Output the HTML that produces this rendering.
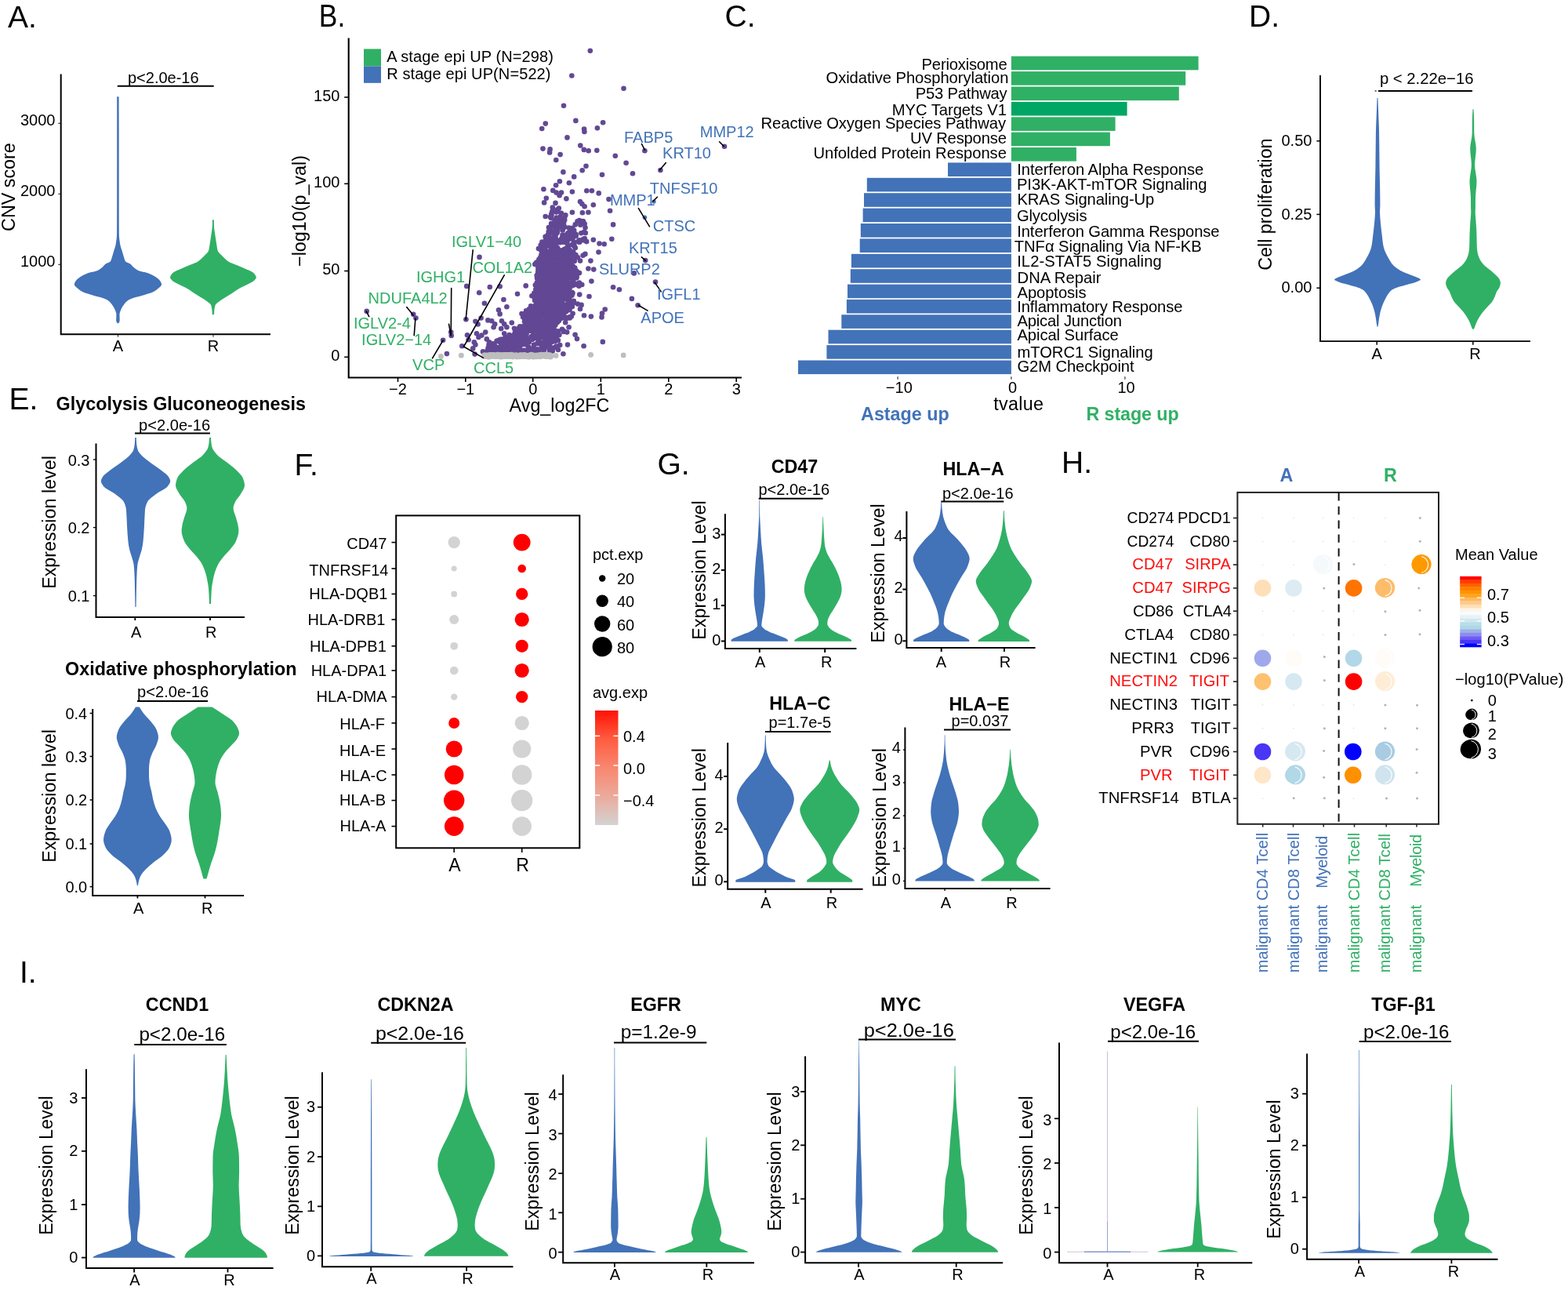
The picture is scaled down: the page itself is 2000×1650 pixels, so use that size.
<!DOCTYPE html>
<html lang="en"><head><meta charset="utf-8"><title>Figure</title>
<style>html,body{margin:0;padding:0;background:#fff}body{width:2000px;height:1650px}svg{display:block}text{font-family:'Liberation Sans', sans-serif}</style></head>
<body>
<svg width="2000" height="1650" viewBox="0 0 2000 1650">
<rect width="2000" height="1650" fill="#fff"/>
<text x="10" y="35" font-size="39">A.</text>
<line x1="74.2" y1="157.3" x2="77.7" y2="157.3" stroke="#333" stroke-width="1.1"/>
<text x="70.5" y="160.3" font-size="20" text-anchor="end">3000</text>
<line x1="74.2" y1="247.3" x2="77.7" y2="247.3" stroke="#333" stroke-width="1.1"/>
<text x="70.5" y="250.3" font-size="20" text-anchor="end">2000</text>
<line x1="74.2" y1="337.3" x2="77.7" y2="337.3" stroke="#333" stroke-width="1.1"/>
<text x="70.5" y="340.3" font-size="20" text-anchor="end">1000</text>
<line x1="150.5" y1="426.2" x2="150.5" y2="429.7" stroke="#333" stroke-width="1.1"/>
<text x="150.5" y="448.2" font-size="20" text-anchor="middle">A</text>
<line x1="272" y1="426.2" x2="272" y2="429.7" stroke="#333" stroke-width="1.1"/>
<text x="272" y="448.2" font-size="20" text-anchor="middle">R</text>
<path d="M77.7 94.6V426.2H345" fill="none" stroke="#000" stroke-width="2"/>
<text font-size="23.3" text-anchor="middle" transform="translate(18.8 238.6) rotate(-90)">CNV score</text>
<text x="208.3" y="106" font-size="20" text-anchor="middle">p&lt;2.0e-16</text>
<line x1="149.8" y1="109.7" x2="272.7" y2="109.7" stroke="#000" stroke-width="2"/>
<path d="M151.6 123.3C151.7 148.9 151.7 174.4 151.7 200C151.7 232.5 151.7 265 151.8 297.5C151.8 302.5 152.6 307.5 153.4 312.5C153.9 315 154.9 317.5 155.7 320C156.4 322.5 157.1 325 157.9 327.5C158.6 329.5 158.8 331.5 160.2 333.5C160.9 334.5 164.8 335.5 166.2 336.5C168.2 338 168.9 339.5 170.7 341C172.2 342.2 173.4 343.5 175.9 344.7C178.5 346 186.2 347.2 189.4 348.5C193.3 350 196.2 351.5 198.4 353C200.7 354.5 202.7 356 203.7 357.5C204.9 359.2 206.1 361 206.1 362.7C206.1 364.5 203.4 366.2 201.4 368C199.8 369.5 197.7 371 194.7 372.5C192.2 373.7 187.5 375 183.4 376.2C179.4 377.5 173.4 378.7 169.9 380C167.2 381 164.6 382 163.2 383C161.1 384.5 159.8 386 158.7 387.5C156.8 390 155.1 392.5 154.2 395C153.5 397 152.5 399 152.5 401C152.5 403.5 152.7 406 152.7 408.5C152.7 409.4 152.4 410.3 151.9 411.2C151.8 411.5 151.3 411.9 150.9 412.2L150 412.2C149.6 411.9 149.1 411.5 149 411.2C148.5 410.3 148.2 409.4 148.2 408.5C148.2 406 148.4 403.5 148.4 401C148.4 399 147.4 397 146.7 395C145.8 392.5 144.1 390 142.2 387.5C141.1 386 139.8 384.5 137.7 383C136.3 382 133.7 381 131 380C127.5 378.7 121.5 377.5 117.5 376.2C113.4 375 108.7 373.7 106.2 372.5C103.2 371 101.1 369.5 99.5 368C97.5 366.2 94.8 364.5 94.8 362.7C94.8 361 96 359.2 97.2 357.5C98.2 356 100.2 354.5 102.5 353C104.7 351.5 107.6 350 111.5 348.5C114.7 347.2 122.4 346 125 344.7C127.5 343.5 128.7 342.2 130.2 341C132 339.5 132.7 338 134.7 336.5C136.1 335.5 140 334.5 140.7 333.5C142.1 331.5 142.3 329.5 143 327.5C143.8 325 144.5 322.5 145.2 320C146 317.5 147 315 147.5 312.5C148.3 307.5 149.1 302.5 149.1 297.5C149.2 265 149.2 232.5 149.2 200C149.2 174.4 149.2 148.9 149.2 123.3Z" fill="#4272B8"/>
<path d="M272.8 280.2C272.8 283.5 272.9 286.7 273.1 290C273.2 292.5 273.8 295 274.1 297.5C274.5 300 274.8 302.5 275.2 305C275.6 307.5 276 310 276.4 312.5C276.8 315 277 317.5 277.9 320C278.4 321.5 280.3 323 281.6 324.5C283 326 284.5 327.5 286.1 329C287.8 330.5 289.1 332 291.4 333.5C293.7 335 298.4 336.5 301.9 338C305.4 339.5 309 341 312.4 342.5C315.8 344 320.1 345.5 322.1 347C323.5 348 324.5 349 325.1 350C325.9 351.2 326.8 352.5 326.8 353.7C326.8 355 325.5 356.2 324.4 357.5C323 359 319.6 360.5 316.9 362C313.3 364 308.3 366 304.9 368C301.5 370 299 372 295.9 374C292.8 376 289.3 378 286.1 380C283.8 381.5 281.3 383 279.4 384.5C277.5 386 275.1 387.5 274.6 389C273.9 391 273.6 393 273.4 395C273.2 396.7 273.3 398.5 273.1 400.2C273 400.6 272.6 401 272.3 401.4L271.5 401.4C271.2 401 270.8 400.6 270.7 400.2C270.5 398.5 270.6 396.7 270.4 395C270.2 393 269.9 391 269.2 389C268.7 387.5 266.3 386 264.4 384.5C262.5 383 260 381.5 257.7 380C254.5 378 251 376 247.9 374C244.8 372 242.3 370 238.9 368C235.5 366 230.5 364 226.9 362C224.2 360.5 220.8 359 219.4 357.5C218.3 356.2 217 355 217 353.7C217 352.5 217.9 351.2 218.7 350C219.3 349 220.3 348 221.7 347C223.7 345.5 228 344 231.4 342.5C234.8 341 238.4 339.5 241.9 338C245.4 336.5 250.1 335 252.4 333.5C254.7 332 256 330.5 257.7 329C259.3 327.5 260.8 326 262.2 324.5C263.5 323 265.4 321.5 265.9 320C266.8 317.5 267 315 267.4 312.5C267.8 310 268.2 307.5 268.6 305C269 302.5 269.3 300 269.7 297.5C270 295 270.6 292.5 270.7 290C270.9 286.7 271 283.5 271 280.2Z" fill="#30B065"/>
<text x="406.8" y="34" font-size="40.5" textLength="33.4" lengthAdjust="spacingAndGlyphs">B.</text>
<text x="924.5" y="34" font-size="39">C.</text>
<line x1="439.2" y1="124" x2="444.7" y2="124" stroke="#000" stroke-width="1.6"/>
<text x="433.4" y="128.9" font-size="20" text-anchor="end">150</text>
<line x1="439.2" y1="234.3" x2="444.7" y2="234.3" stroke="#000" stroke-width="1.6"/>
<text x="433.4" y="239.2" font-size="20" text-anchor="end">100</text>
<line x1="439.2" y1="345.5" x2="444.7" y2="345.5" stroke="#000" stroke-width="1.6"/>
<text x="433.4" y="350.4" font-size="20" text-anchor="end">50</text>
<line x1="439.2" y1="455.3" x2="444.7" y2="455.3" stroke="#000" stroke-width="1.6"/>
<text x="433.4" y="460.2" font-size="20" text-anchor="end">0</text>
<line x1="507.5" y1="481.5" x2="507.5" y2="487" stroke="#000" stroke-width="1.6"/>
<text x="507.5" y="503.1" font-size="20" text-anchor="middle">−2</text>
<line x1="593.8" y1="481.5" x2="593.8" y2="487" stroke="#000" stroke-width="1.6"/>
<text x="593.8" y="503.1" font-size="20" text-anchor="middle">−1</text>
<line x1="679.7" y1="481.5" x2="679.7" y2="487" stroke="#000" stroke-width="1.6"/>
<text x="679.7" y="503.1" font-size="20" text-anchor="middle">0</text>
<line x1="766.3" y1="481.5" x2="766.3" y2="487" stroke="#000" stroke-width="1.6"/>
<text x="766.3" y="503.1" font-size="20" text-anchor="middle">1</text>
<line x1="852.8" y1="481.5" x2="852.8" y2="487" stroke="#000" stroke-width="1.6"/>
<text x="852.8" y="503.1" font-size="20" text-anchor="middle">2</text>
<line x1="939.2" y1="481.5" x2="939.2" y2="487" stroke="#000" stroke-width="1.6"/>
<text x="939.2" y="503.1" font-size="20" text-anchor="middle">3</text>
<path d="M444.7 48.4V481.5H946" fill="none" stroke="#000" stroke-width="2.1"/>
<text font-size="23.3" text-anchor="middle" transform="translate(390.1 269) rotate(-90)">−log10(p_val)</text>
<text x="713.5" y="525.4" font-size="23.3" text-anchor="middle">Avg_log2FC</text>
<rect x="464" y="62.4" width="22" height="22.1" fill="#30B065"/>
<rect x="464" y="84.5" width="22" height="21.3" fill="#4272B8"/>
<text x="493.2" y="78.8" font-size="20" textLength="212.8" lengthAdjust="spacing">A stage epi UP (N=298)</text>
<text x="493.2" y="101.2" font-size="20" textLength="209.3" lengthAdjust="spacing">R stage epi UP(N=522)</text>
<g fill="#624894"><circle cx="710.6" cy="371.4" r="3.3"/><circle cx="660.1" cy="441.7" r="3.3"/><circle cx="708.9" cy="379.7" r="3.3"/><circle cx="709.6" cy="331.5" r="3.3"/><circle cx="712.1" cy="397.9" r="3.3"/><circle cx="703.1" cy="318" r="3.3"/><circle cx="720.4" cy="317.5" r="3.3"/><circle cx="732.4" cy="310.2" r="3.3"/><circle cx="680.1" cy="395.7" r="3.3"/><circle cx="696.1" cy="306.2" r="3.3"/><circle cx="697.5" cy="332.3" r="3.3"/><circle cx="710.2" cy="308.5" r="3.3"/><circle cx="678.4" cy="429.5" r="3.3"/><circle cx="695.7" cy="399.4" r="3.3"/><circle cx="692.7" cy="402.7" r="3.3"/><circle cx="734.7" cy="345.4" r="3.3"/><circle cx="691.2" cy="429.2" r="3.3"/><circle cx="697" cy="351" r="3.3"/><circle cx="688.9" cy="347.1" r="3.3"/><circle cx="683.6" cy="418.2" r="3.3"/><circle cx="668.6" cy="430.1" r="3.3"/><circle cx="687.9" cy="446.7" r="3.3"/><circle cx="661.6" cy="439.6" r="3.3"/><circle cx="650.7" cy="450.1" r="3.3"/><circle cx="724.4" cy="314.9" r="3.3"/><circle cx="689.8" cy="344.2" r="3.3"/><circle cx="734.5" cy="353.6" r="3.3"/><circle cx="700" cy="321.6" r="3.3"/><circle cx="692.1" cy="319.1" r="3.3"/><circle cx="667.1" cy="422.8" r="3.3"/><circle cx="699.5" cy="387.3" r="3.3"/><circle cx="719.1" cy="332.4" r="3.3"/><circle cx="717.6" cy="323.5" r="3.3"/><circle cx="707.8" cy="321.4" r="3.3"/><circle cx="697.9" cy="335.7" r="3.3"/><circle cx="682.8" cy="448.7" r="3.3"/><circle cx="730.9" cy="349.3" r="3.3"/><circle cx="703.5" cy="335.4" r="3.3"/><circle cx="684.6" cy="431.3" r="3.3"/><circle cx="722.3" cy="342.5" r="3.3"/><circle cx="700.3" cy="353" r="3.3"/><circle cx="687.9" cy="390.8" r="3.3"/><circle cx="692.3" cy="393.6" r="3.3"/><circle cx="717.7" cy="389.6" r="3.3"/><circle cx="693.8" cy="331.2" r="3.3"/><circle cx="691.2" cy="439.4" r="3.3"/><circle cx="694.5" cy="341.2" r="3.3"/><circle cx="691.6" cy="445.6" r="3.3"/><circle cx="694.6" cy="393.9" r="3.3"/><circle cx="691.1" cy="319.5" r="3.3"/><circle cx="638.9" cy="447.4" r="3.3"/><circle cx="681.5" cy="409" r="3.3"/><circle cx="686.8" cy="426.7" r="3.3"/><circle cx="694.3" cy="347.7" r="3.3"/><circle cx="671.6" cy="411.3" r="3.3"/><circle cx="710.9" cy="338" r="3.3"/><circle cx="683" cy="431" r="3.3"/><circle cx="686.7" cy="370.4" r="3.3"/><circle cx="703.6" cy="330.3" r="3.3"/><circle cx="683.9" cy="389.3" r="3.3"/><circle cx="730.4" cy="358" r="3.3"/><circle cx="705.5" cy="401.9" r="3.3"/><circle cx="682.8" cy="391.1" r="3.3"/><circle cx="681.1" cy="439.6" r="3.3"/><circle cx="621.6" cy="447.5" r="3.3"/><circle cx="695.1" cy="398.8" r="3.3"/><circle cx="684.3" cy="412.8" r="3.3"/><circle cx="627.4" cy="452.9" r="3.3"/><circle cx="713.3" cy="385.4" r="3.3"/><circle cx="685.2" cy="438.1" r="3.3"/><circle cx="709.4" cy="408.8" r="3.3"/><circle cx="651.3" cy="440.3" r="3.3"/><circle cx="715.7" cy="406.1" r="3.3"/><circle cx="723.5" cy="366.2" r="3.3"/><circle cx="678" cy="432.7" r="3.3"/><circle cx="690.7" cy="397.1" r="3.3"/><circle cx="705.2" cy="390.8" r="3.3"/><circle cx="733.8" cy="316" r="3.3"/><circle cx="687.9" cy="412.5" r="3.3"/><circle cx="697.1" cy="413.5" r="3.3"/><circle cx="724.6" cy="369.6" r="3.3"/><circle cx="691.2" cy="316.5" r="3.3"/><circle cx="697.7" cy="393.6" r="3.3"/><circle cx="717.3" cy="338.3" r="3.3"/><circle cx="710.9" cy="378.1" r="3.3"/><circle cx="642.9" cy="441.1" r="3.3"/><circle cx="678.9" cy="405" r="3.3"/><circle cx="727.8" cy="329.3" r="3.3"/><circle cx="678.8" cy="403.2" r="3.3"/><circle cx="723.5" cy="368.2" r="3.3"/><circle cx="695.8" cy="440.2" r="3.3"/><circle cx="714.4" cy="361.3" r="3.3"/><circle cx="692.2" cy="351.2" r="3.3"/><circle cx="721.2" cy="378" r="3.3"/><circle cx="690.2" cy="430.5" r="3.3"/><circle cx="642.8" cy="445.6" r="3.3"/><circle cx="707.5" cy="329.2" r="3.3"/><circle cx="696" cy="345" r="3.3"/><circle cx="715.4" cy="365.7" r="3.3"/><circle cx="697.2" cy="377.6" r="3.3"/><circle cx="635.8" cy="434.1" r="3.3"/><circle cx="697.7" cy="409.6" r="3.3"/><circle cx="726" cy="350" r="3.3"/><circle cx="684.9" cy="371.8" r="3.3"/><circle cx="663.5" cy="427.6" r="3.3"/><circle cx="690.4" cy="325" r="3.3"/><circle cx="693.8" cy="397.7" r="3.3"/><circle cx="704.7" cy="397.9" r="3.3"/><circle cx="709.8" cy="424.3" r="3.3"/><circle cx="707.4" cy="333.7" r="3.3"/><circle cx="687.6" cy="330.6" r="3.3"/><circle cx="717.1" cy="374.4" r="3.3"/><circle cx="699.2" cy="330.7" r="3.3"/><circle cx="720.7" cy="355.5" r="3.3"/><circle cx="709.4" cy="381.5" r="3.3"/><circle cx="684.6" cy="416.7" r="3.3"/><circle cx="680.5" cy="443" r="3.3"/><circle cx="709" cy="323.4" r="3.3"/><circle cx="718.4" cy="388.8" r="3.3"/><circle cx="658.3" cy="444.7" r="3.3"/><circle cx="679.2" cy="401" r="3.3"/><circle cx="710.1" cy="411.6" r="3.3"/><circle cx="707.5" cy="399.6" r="3.3"/><circle cx="725.6" cy="335.8" r="3.3"/><circle cx="661.5" cy="449.6" r="3.3"/><circle cx="675.9" cy="421.8" r="3.3"/><circle cx="694.2" cy="439.6" r="3.3"/><circle cx="689.2" cy="355.9" r="3.3"/><circle cx="710.6" cy="369.7" r="3.3"/><circle cx="688.1" cy="418.5" r="3.3"/><circle cx="695.2" cy="308.2" r="3.3"/><circle cx="666.4" cy="423.2" r="3.3"/><circle cx="725.5" cy="353.9" r="3.3"/><circle cx="694.9" cy="324.9" r="3.3"/><circle cx="714.6" cy="381" r="3.3"/><circle cx="690" cy="429.2" r="3.3"/><circle cx="660.5" cy="444.9" r="3.3"/><circle cx="627.4" cy="445.4" r="3.3"/><circle cx="709.2" cy="337" r="3.3"/><circle cx="722.1" cy="347.2" r="3.3"/><circle cx="697.1" cy="399.2" r="3.3"/><circle cx="680.9" cy="429.7" r="3.3"/><circle cx="704.8" cy="350.4" r="3.3"/><circle cx="703.4" cy="429.9" r="3.3"/><circle cx="723.6" cy="335" r="3.3"/><circle cx="661.1" cy="448.3" r="3.3"/><circle cx="687" cy="389.4" r="3.3"/><circle cx="703.4" cy="383.8" r="3.3"/><circle cx="674.8" cy="394.2" r="3.3"/><circle cx="660.4" cy="448.4" r="3.3"/><circle cx="724.8" cy="363.7" r="3.3"/><circle cx="701.2" cy="387.9" r="3.3"/><circle cx="671.6" cy="407" r="3.3"/><circle cx="699.2" cy="384.3" r="3.3"/><circle cx="694.1" cy="446.6" r="3.3"/><circle cx="708.5" cy="344.1" r="3.3"/><circle cx="708.2" cy="322.9" r="3.3"/><circle cx="695" cy="351.3" r="3.3"/><circle cx="661.3" cy="420.1" r="3.3"/><circle cx="696.7" cy="332.9" r="3.3"/><circle cx="685.1" cy="406.4" r="3.3"/><circle cx="716.6" cy="356.9" r="3.3"/><circle cx="721.9" cy="319.6" r="3.3"/><circle cx="711.7" cy="322.3" r="3.3"/><circle cx="694.9" cy="341.3" r="3.3"/><circle cx="700.7" cy="383" r="3.3"/><circle cx="705.9" cy="360" r="3.3"/><circle cx="688.2" cy="382.9" r="3.3"/><circle cx="714.1" cy="334.4" r="3.3"/><circle cx="697.5" cy="399.1" r="3.3"/><circle cx="683" cy="430.8" r="3.3"/><circle cx="655.2" cy="431.7" r="3.3"/><circle cx="708.3" cy="414.4" r="3.3"/><circle cx="649.1" cy="438.5" r="3.3"/><circle cx="684.8" cy="452.8" r="3.3"/><circle cx="699.3" cy="324" r="3.3"/><circle cx="681.4" cy="412.3" r="3.3"/><circle cx="726.5" cy="318.5" r="3.3"/><circle cx="723.2" cy="366.8" r="3.3"/><circle cx="706.8" cy="322.8" r="3.3"/><circle cx="669" cy="406.1" r="3.3"/><circle cx="716.5" cy="333.9" r="3.3"/><circle cx="717" cy="379.3" r="3.3"/><circle cx="713.8" cy="378.9" r="3.3"/><circle cx="689.9" cy="332.2" r="3.3"/><circle cx="690.9" cy="319.8" r="3.3"/><circle cx="703" cy="386.2" r="3.3"/><circle cx="685" cy="388.7" r="3.3"/><circle cx="696" cy="331.5" r="3.3"/><circle cx="709.7" cy="429.2" r="3.3"/><circle cx="692.3" cy="318.2" r="3.3"/><circle cx="657.6" cy="445.8" r="3.3"/><circle cx="679.9" cy="417.9" r="3.3"/><circle cx="707.9" cy="373.6" r="3.3"/><circle cx="713.5" cy="368.1" r="3.3"/><circle cx="719.2" cy="371.6" r="3.3"/><circle cx="694.2" cy="364.4" r="3.3"/><circle cx="710.4" cy="328.6" r="3.3"/><circle cx="723.8" cy="306.3" r="3.3"/><circle cx="712.9" cy="409" r="3.3"/><circle cx="691.5" cy="397.8" r="3.3"/><circle cx="699" cy="393.3" r="3.3"/><circle cx="681.2" cy="450.4" r="3.3"/><circle cx="728.9" cy="342.5" r="3.3"/><circle cx="704.6" cy="419.9" r="3.3"/><circle cx="729.4" cy="364.4" r="3.3"/><circle cx="708.4" cy="407.5" r="3.3"/><circle cx="684.1" cy="418" r="3.3"/><circle cx="671.7" cy="411.7" r="3.3"/><circle cx="709" cy="354.9" r="3.3"/><circle cx="702.6" cy="399.2" r="3.3"/><circle cx="728.5" cy="338.6" r="3.3"/><circle cx="718.9" cy="354.3" r="3.3"/><circle cx="702.6" cy="388.9" r="3.3"/><circle cx="735.5" cy="362" r="3.3"/><circle cx="707.8" cy="408.5" r="3.3"/><circle cx="622.3" cy="450" r="3.3"/><circle cx="709.9" cy="395.7" r="3.3"/><circle cx="704.7" cy="342.2" r="3.3"/><circle cx="689.8" cy="360" r="3.3"/><circle cx="728.1" cy="341.4" r="3.3"/><circle cx="726.4" cy="379.7" r="3.3"/><circle cx="667.5" cy="452.3" r="3.3"/><circle cx="659.4" cy="424.6" r="3.3"/><circle cx="711.7" cy="393" r="3.3"/><circle cx="698" cy="310.7" r="3.3"/><circle cx="691.4" cy="374.3" r="3.3"/><circle cx="710.8" cy="377.8" r="3.3"/><circle cx="709" cy="312.7" r="3.3"/><circle cx="708.2" cy="382.5" r="3.3"/><circle cx="699.4" cy="358.5" r="3.3"/><circle cx="698.5" cy="401.6" r="3.3"/><circle cx="721.1" cy="346.2" r="3.3"/><circle cx="686.1" cy="348.1" r="3.3"/><circle cx="687.7" cy="340.5" r="3.3"/><circle cx="721.6" cy="327.3" r="3.3"/><circle cx="730.3" cy="362.1" r="3.3"/><circle cx="658.6" cy="438.9" r="3.3"/><circle cx="723.9" cy="382" r="3.3"/><circle cx="729.8" cy="373.8" r="3.3"/><circle cx="679.3" cy="393.9" r="3.3"/><circle cx="694.6" cy="397" r="3.3"/><circle cx="688.6" cy="334.3" r="3.3"/><circle cx="686.6" cy="382.7" r="3.3"/><circle cx="716.2" cy="370" r="3.3"/><circle cx="696.2" cy="371.9" r="3.3"/><circle cx="696.3" cy="390.8" r="3.3"/><circle cx="689.2" cy="419.9" r="3.3"/><circle cx="689.6" cy="452.6" r="3.3"/><circle cx="691" cy="339.5" r="3.3"/><circle cx="690.1" cy="437" r="3.3"/><circle cx="689.5" cy="397.1" r="3.3"/><circle cx="718.9" cy="344.5" r="3.3"/><circle cx="705.6" cy="388.2" r="3.3"/><circle cx="709.8" cy="398.3" r="3.3"/><circle cx="697.8" cy="332.3" r="3.3"/><circle cx="690.1" cy="450" r="3.3"/><circle cx="633.6" cy="434.9" r="3.3"/><circle cx="714.8" cy="367.4" r="3.3"/><circle cx="713.5" cy="319.3" r="3.3"/><circle cx="697.4" cy="404.8" r="3.3"/><circle cx="689.7" cy="398" r="3.3"/><circle cx="693.1" cy="375.3" r="3.3"/><circle cx="723.2" cy="355.2" r="3.3"/><circle cx="650.3" cy="428.9" r="3.3"/><circle cx="725.2" cy="321.8" r="3.3"/><circle cx="711" cy="396.9" r="3.3"/><circle cx="704.7" cy="335.8" r="3.3"/><circle cx="724.1" cy="342.5" r="3.3"/><circle cx="718.2" cy="359" r="3.3"/><circle cx="645.1" cy="451.4" r="3.3"/><circle cx="713.5" cy="385.7" r="3.3"/><circle cx="657.2" cy="441.2" r="3.3"/><circle cx="689.8" cy="359" r="3.3"/><circle cx="637.9" cy="434.4" r="3.3"/><circle cx="711.3" cy="316.4" r="3.3"/><circle cx="683.9" cy="406.1" r="3.3"/><circle cx="664.8" cy="419.5" r="3.3"/><circle cx="715.1" cy="335.8" r="3.3"/><circle cx="703.6" cy="412" r="3.3"/><circle cx="692.5" cy="346.2" r="3.3"/><circle cx="722" cy="357.3" r="3.3"/><circle cx="690.8" cy="358.6" r="3.3"/><circle cx="697.6" cy="409.7" r="3.3"/><circle cx="700.2" cy="440.9" r="3.3"/><circle cx="723" cy="369.3" r="3.3"/><circle cx="701.6" cy="349.4" r="3.3"/><circle cx="731.6" cy="363.5" r="3.3"/><circle cx="702.6" cy="341" r="3.3"/><circle cx="703.4" cy="358.5" r="3.3"/><circle cx="704.2" cy="362.9" r="3.3"/><circle cx="711.5" cy="333" r="3.3"/><circle cx="687.3" cy="422.8" r="3.3"/><circle cx="682.4" cy="428.6" r="3.3"/><circle cx="720.9" cy="330.3" r="3.3"/><circle cx="651.9" cy="435.3" r="3.3"/><circle cx="714.2" cy="307.3" r="3.3"/><circle cx="722.4" cy="388.6" r="3.3"/><circle cx="659.5" cy="423.8" r="3.3"/><circle cx="715.5" cy="385.5" r="3.3"/><circle cx="677.2" cy="398.5" r="3.3"/><circle cx="699.3" cy="415.1" r="3.3"/><circle cx="695.9" cy="340.6" r="3.3"/><circle cx="690.2" cy="418" r="3.3"/><circle cx="683.5" cy="417.9" r="3.3"/><circle cx="734.7" cy="354.3" r="3.3"/><circle cx="707.5" cy="377.6" r="3.3"/><circle cx="704.4" cy="411.4" r="3.3"/><circle cx="656.2" cy="440.3" r="3.3"/><circle cx="690.6" cy="427.1" r="3.3"/><circle cx="696.2" cy="431.2" r="3.3"/><circle cx="703.5" cy="428.2" r="3.3"/><circle cx="671.3" cy="446.7" r="3.3"/><circle cx="713.5" cy="382.1" r="3.3"/><circle cx="680" cy="423.5" r="3.3"/><circle cx="691.4" cy="366.6" r="3.3"/><circle cx="696.5" cy="329" r="3.3"/><circle cx="698.5" cy="367.3" r="3.3"/><circle cx="624.4" cy="448.5" r="3.3"/><circle cx="691.2" cy="350" r="3.3"/><circle cx="710.4" cy="400.5" r="3.3"/><circle cx="689.8" cy="330.7" r="3.3"/><circle cx="711.5" cy="372.4" r="3.3"/><circle cx="625" cy="439.5" r="3.3"/><circle cx="697.4" cy="320.2" r="3.3"/><circle cx="696.2" cy="336.4" r="3.3"/><circle cx="698.7" cy="410.9" r="3.3"/><circle cx="694.1" cy="337.4" r="3.3"/><circle cx="694" cy="345.9" r="3.3"/><circle cx="680.1" cy="416.9" r="3.3"/><circle cx="716.7" cy="385.7" r="3.3"/><circle cx="695.4" cy="375.4" r="3.3"/><circle cx="701.2" cy="436.2" r="3.3"/><circle cx="713.1" cy="355" r="3.3"/><circle cx="658.8" cy="446.6" r="3.3"/><circle cx="688.1" cy="336.9" r="3.3"/><circle cx="685.4" cy="445.2" r="3.3"/><circle cx="711.6" cy="361.4" r="3.3"/><circle cx="694.1" cy="380.9" r="3.3"/><circle cx="669.4" cy="451.5" r="3.3"/><circle cx="686.3" cy="339.4" r="3.3"/><circle cx="700.9" cy="374.4" r="3.3"/><circle cx="697" cy="422.7" r="3.3"/><circle cx="681.1" cy="394.3" r="3.3"/><circle cx="702.2" cy="327.4" r="3.3"/><circle cx="727" cy="342.7" r="3.3"/><circle cx="710.7" cy="380.9" r="3.3"/><circle cx="640.8" cy="452" r="3.3"/><circle cx="687.5" cy="383.7" r="3.3"/><circle cx="661.6" cy="418.8" r="3.3"/><circle cx="702" cy="426.4" r="3.3"/><circle cx="656.5" cy="426.5" r="3.3"/><circle cx="720.3" cy="344.2" r="3.3"/><circle cx="710.8" cy="318.5" r="3.3"/><circle cx="728.7" cy="373.8" r="3.3"/><circle cx="660" cy="431.7" r="3.3"/><circle cx="681.5" cy="421.6" r="3.3"/><circle cx="629.3" cy="440.6" r="3.3"/><circle cx="662.7" cy="427.1" r="3.3"/><circle cx="703.9" cy="385" r="3.3"/><circle cx="725" cy="327.5" r="3.3"/><circle cx="701.2" cy="350.4" r="3.3"/><circle cx="717.4" cy="373.6" r="3.3"/><circle cx="720" cy="357.6" r="3.3"/><circle cx="706.9" cy="319.8" r="3.3"/><circle cx="729.6" cy="372.8" r="3.3"/><circle cx="668.8" cy="401.4" r="3.3"/><circle cx="721" cy="360.2" r="3.3"/><circle cx="711.5" cy="339.4" r="3.3"/><circle cx="684.1" cy="372.3" r="3.3"/><circle cx="679.6" cy="451.8" r="3.3"/><circle cx="713.4" cy="334.8" r="3.3"/><circle cx="704.3" cy="347.3" r="3.3"/><circle cx="693.9" cy="384.4" r="3.3"/><circle cx="705.2" cy="354.3" r="3.3"/><circle cx="681.9" cy="403.3" r="3.3"/><circle cx="718.7" cy="333.8" r="3.3"/><circle cx="733.6" cy="353.1" r="3.3"/><circle cx="685.1" cy="411.8" r="3.3"/><circle cx="655.5" cy="427.2" r="3.3"/><circle cx="692.5" cy="325" r="3.3"/><circle cx="705.8" cy="405" r="3.3"/><circle cx="704.9" cy="330.8" r="3.3"/><circle cx="684.2" cy="428.7" r="3.3"/><circle cx="693.3" cy="327.4" r="3.3"/><circle cx="688.1" cy="364.6" r="3.3"/><circle cx="657.2" cy="441.2" r="3.3"/><circle cx="711.5" cy="380.2" r="3.3"/><circle cx="706.1" cy="418.3" r="3.3"/><circle cx="701.6" cy="361.5" r="3.3"/><circle cx="685.1" cy="365.4" r="3.3"/><circle cx="719.7" cy="363.7" r="3.3"/><circle cx="680.2" cy="450.3" r="3.3"/><circle cx="701" cy="402.4" r="3.3"/><circle cx="718.4" cy="355" r="3.3"/><circle cx="706.1" cy="319.8" r="3.3"/><circle cx="718.1" cy="379.9" r="3.3"/><circle cx="687.5" cy="427" r="3.3"/><circle cx="722" cy="327.6" r="3.3"/><circle cx="668.9" cy="438.5" r="3.3"/><circle cx="710.5" cy="356.5" r="3.3"/><circle cx="720.4" cy="325.1" r="3.3"/><circle cx="659.3" cy="451" r="3.3"/><circle cx="711.2" cy="410.6" r="3.3"/><circle cx="728.3" cy="333.4" r="3.3"/><circle cx="690.2" cy="333.5" r="3.3"/><circle cx="712.4" cy="340.4" r="3.3"/><circle cx="685.3" cy="407.9" r="3.3"/><circle cx="651.1" cy="442.4" r="3.3"/><circle cx="689.5" cy="373" r="3.3"/><circle cx="630.6" cy="449.1" r="3.3"/><circle cx="668.4" cy="438.7" r="3.3"/><circle cx="704.4" cy="387.5" r="3.3"/><circle cx="729.3" cy="343.4" r="3.3"/><circle cx="688.2" cy="425.8" r="3.3"/><circle cx="725.9" cy="322.3" r="3.3"/><circle cx="716.1" cy="389.5" r="3.3"/><circle cx="711.2" cy="331.7" r="3.3"/><circle cx="730.9" cy="330.8" r="3.3"/><circle cx="684.7" cy="402.1" r="3.3"/><circle cx="707.6" cy="404" r="3.3"/><circle cx="714.9" cy="360.9" r="3.3"/><circle cx="656.9" cy="423.8" r="3.3"/><circle cx="707.1" cy="333.7" r="3.3"/><circle cx="705.6" cy="325.3" r="3.3"/><circle cx="686.1" cy="388.9" r="3.3"/><circle cx="693.4" cy="381.4" r="3.3"/><circle cx="693.5" cy="388.6" r="3.3"/><circle cx="670.5" cy="399.6" r="3.3"/><circle cx="675.8" cy="404" r="3.3"/><circle cx="668" cy="446.9" r="3.3"/><circle cx="702.9" cy="374" r="3.3"/><circle cx="706.9" cy="396.9" r="3.3"/><circle cx="703.4" cy="416.9" r="3.3"/><circle cx="729.4" cy="376.4" r="3.3"/><circle cx="668.1" cy="431.4" r="3.3"/><circle cx="711.7" cy="368.7" r="3.3"/><circle cx="666.8" cy="438.9" r="3.3"/><circle cx="700.8" cy="382.2" r="3.3"/><circle cx="649.4" cy="438.7" r="3.3"/><circle cx="729.9" cy="312.1" r="3.3"/><circle cx="711.3" cy="393" r="3.3"/><circle cx="715.8" cy="349.4" r="3.3"/><circle cx="708.1" cy="370.6" r="3.3"/><circle cx="687.2" cy="363.1" r="3.3"/><circle cx="695.7" cy="407.5" r="3.3"/><circle cx="699.8" cy="339.6" r="3.3"/><circle cx="696.5" cy="362.9" r="3.3"/><circle cx="732.7" cy="314.2" r="3.3"/><circle cx="666.3" cy="433.1" r="3.3"/><circle cx="668.3" cy="424" r="3.3"/><circle cx="695" cy="415.2" r="3.3"/><circle cx="630.6" cy="438.6" r="3.3"/><circle cx="664.8" cy="422.1" r="3.3"/><circle cx="699.6" cy="340.3" r="3.3"/><circle cx="688.4" cy="352.4" r="3.3"/><circle cx="692.4" cy="437.4" r="3.3"/><circle cx="702.6" cy="363.2" r="3.3"/><circle cx="678.2" cy="391.2" r="3.3"/><circle cx="704.8" cy="308.6" r="3.3"/><circle cx="725.6" cy="378.3" r="3.3"/><circle cx="693.2" cy="374.4" r="3.3"/><circle cx="732.3" cy="348" r="3.3"/><circle cx="723.6" cy="333.1" r="3.3"/><circle cx="709.1" cy="356.8" r="3.3"/><circle cx="726.5" cy="329.6" r="3.3"/><circle cx="714.3" cy="334.1" r="3.3"/><circle cx="721.6" cy="319.8" r="3.3"/><circle cx="731.5" cy="350.6" r="3.3"/><circle cx="675.1" cy="410.3" r="3.3"/><circle cx="721.8" cy="349.8" r="3.3"/><circle cx="694.5" cy="333.3" r="3.3"/><circle cx="716" cy="339.1" r="3.3"/><circle cx="678.8" cy="421.8" r="3.3"/><circle cx="715.8" cy="402.6" r="3.3"/><circle cx="686.5" cy="391.9" r="3.3"/><circle cx="732.9" cy="348.8" r="3.3"/><circle cx="717" cy="345.2" r="3.3"/><circle cx="709.2" cy="317.4" r="3.3"/><circle cx="705.1" cy="382.7" r="3.3"/><circle cx="703.4" cy="310.8" r="3.3"/><circle cx="723.3" cy="341.4" r="3.3"/><circle cx="676.9" cy="416.6" r="3.3"/><circle cx="712.5" cy="345.6" r="3.3"/><circle cx="726.7" cy="331.8" r="3.3"/><circle cx="722.8" cy="309" r="3.3"/><circle cx="711.8" cy="330.8" r="3.3"/><circle cx="687.8" cy="400.1" r="3.3"/><circle cx="710.4" cy="402.1" r="3.3"/><circle cx="704.6" cy="381" r="3.3"/><circle cx="688.9" cy="430" r="3.3"/><circle cx="669" cy="420.2" r="3.3"/><circle cx="684.8" cy="394.6" r="3.3"/><circle cx="721.5" cy="369.6" r="3.3"/><circle cx="702.5" cy="421.2" r="3.3"/><circle cx="708" cy="339.2" r="3.3"/><circle cx="711.5" cy="337" r="3.3"/><circle cx="683.9" cy="378.3" r="3.3"/><circle cx="709.5" cy="392.9" r="3.3"/><circle cx="718" cy="389.3" r="3.3"/><circle cx="693.8" cy="330.8" r="3.3"/><circle cx="710" cy="306.7" r="3.3"/><circle cx="696.6" cy="369.8" r="3.3"/><circle cx="660.9" cy="423" r="3.3"/><circle cx="670.2" cy="439.2" r="3.3"/><circle cx="715.9" cy="384.9" r="3.3"/><circle cx="692.4" cy="339.5" r="3.3"/><circle cx="687.4" cy="350.3" r="3.3"/><circle cx="717.2" cy="350.8" r="3.3"/><circle cx="693.1" cy="382.3" r="3.3"/><circle cx="679.9" cy="391.7" r="3.3"/><circle cx="662.3" cy="426.3" r="3.3"/><circle cx="693.2" cy="342" r="3.3"/><circle cx="711.8" cy="406.9" r="3.3"/><circle cx="662.2" cy="421.2" r="3.3"/><circle cx="702.5" cy="365.2" r="3.3"/><circle cx="718.2" cy="376.9" r="3.3"/><circle cx="631.8" cy="450.9" r="3.3"/><circle cx="719.4" cy="371.8" r="3.3"/><circle cx="637.8" cy="436.6" r="3.3"/><circle cx="699.7" cy="362.5" r="3.3"/><circle cx="687.9" cy="367.2" r="3.3"/><circle cx="723.4" cy="309.1" r="3.3"/><circle cx="679.2" cy="413.4" r="3.3"/><circle cx="711.6" cy="341.7" r="3.3"/><circle cx="707" cy="340" r="3.3"/><circle cx="651.1" cy="442.9" r="3.3"/><circle cx="735.4" cy="354.2" r="3.3"/><circle cx="671.3" cy="400.8" r="3.3"/><circle cx="720.6" cy="355.1" r="3.3"/><circle cx="679.2" cy="432.8" r="3.3"/><circle cx="664.9" cy="436.1" r="3.3"/><circle cx="727.3" cy="362.5" r="3.3"/><circle cx="724.6" cy="360.8" r="3.3"/><circle cx="701.2" cy="336.1" r="3.3"/><circle cx="711.3" cy="331.4" r="3.3"/><circle cx="696.6" cy="328.4" r="3.3"/><circle cx="706.5" cy="336" r="3.3"/><circle cx="708.3" cy="350" r="3.3"/><circle cx="670.6" cy="452" r="3.3"/><circle cx="651.4" cy="432.5" r="3.3"/><circle cx="688.4" cy="361.1" r="3.3"/><circle cx="687.2" cy="407" r="3.3"/><circle cx="686.4" cy="344.9" r="3.3"/><circle cx="698.6" cy="331.1" r="3.3"/><circle cx="731.4" cy="362.6" r="3.3"/><circle cx="703" cy="344" r="3.3"/><circle cx="701" cy="418.1" r="3.3"/><circle cx="623.8" cy="439.2" r="3.3"/><circle cx="704.9" cy="352" r="3.3"/><circle cx="704.3" cy="316.4" r="3.3"/><circle cx="689.5" cy="418.8" r="3.3"/><circle cx="687.6" cy="339.5" r="3.3"/><circle cx="714.7" cy="326.5" r="3.3"/><circle cx="711" cy="367.2" r="3.3"/><circle cx="720.3" cy="324.3" r="3.3"/><circle cx="720.2" cy="342.8" r="3.3"/><circle cx="676" cy="403.3" r="3.3"/><circle cx="698.6" cy="334.5" r="3.3"/><circle cx="689" cy="410.2" r="3.3"/><circle cx="728.8" cy="361.6" r="3.3"/><circle cx="698.9" cy="337.7" r="3.3"/><circle cx="696" cy="355.4" r="3.3"/><circle cx="700" cy="397.9" r="3.3"/><circle cx="703.2" cy="406.7" r="3.3"/><circle cx="689.9" cy="446.3" r="3.3"/><circle cx="714.5" cy="339" r="3.3"/><circle cx="687.7" cy="362.5" r="3.3"/><circle cx="701.4" cy="361.1" r="3.3"/><circle cx="695.3" cy="378.1" r="3.3"/><circle cx="705.7" cy="327.6" r="3.3"/><circle cx="691.2" cy="374.8" r="3.3"/><circle cx="681" cy="403.1" r="3.3"/><circle cx="691.6" cy="366.9" r="3.3"/><circle cx="709.6" cy="390.8" r="3.3"/><circle cx="711.1" cy="386.4" r="3.3"/><circle cx="688.1" cy="358.3" r="3.3"/><circle cx="687.2" cy="364.2" r="3.3"/><circle cx="709.6" cy="377.8" r="3.3"/><circle cx="698.9" cy="373.9" r="3.3"/><circle cx="686.8" cy="341.8" r="3.3"/><circle cx="730.6" cy="355.7" r="3.3"/><circle cx="717.6" cy="343" r="3.3"/><circle cx="707.7" cy="331.7" r="3.3"/><circle cx="721.2" cy="389.8" r="3.3"/><circle cx="703.1" cy="397.5" r="3.3"/><circle cx="705.1" cy="365.2" r="3.3"/><circle cx="726.3" cy="345.1" r="3.3"/><circle cx="660.1" cy="435.1" r="3.3"/><circle cx="625.2" cy="439.5" r="3.3"/><circle cx="711.3" cy="324.2" r="3.3"/><circle cx="703.8" cy="350" r="3.3"/><circle cx="631.8" cy="449.6" r="3.3"/><circle cx="696.8" cy="332.7" r="3.3"/><circle cx="680.6" cy="405.3" r="3.3"/><circle cx="708.8" cy="304.1" r="3.3"/><circle cx="708.4" cy="339.7" r="3.3"/><circle cx="697.9" cy="400.9" r="3.3"/><circle cx="700.1" cy="397" r="3.3"/><circle cx="730.4" cy="355.7" r="3.3"/><circle cx="722" cy="350.7" r="3.3"/><circle cx="704.1" cy="407.6" r="3.3"/><circle cx="685.3" cy="447.6" r="3.3"/><circle cx="715.5" cy="327.8" r="3.3"/><circle cx="708.9" cy="377.1" r="3.3"/><circle cx="699.4" cy="359.1" r="3.3"/><circle cx="693" cy="415.6" r="3.3"/><circle cx="697.1" cy="339.3" r="3.3"/><circle cx="694.3" cy="352.4" r="3.3"/><circle cx="687.4" cy="380.5" r="3.3"/><circle cx="720.8" cy="319.2" r="3.3"/><circle cx="709.3" cy="320.8" r="3.3"/><circle cx="687.2" cy="419" r="3.3"/><circle cx="726.3" cy="328.2" r="3.3"/><circle cx="637.8" cy="433.6" r="3.3"/><circle cx="709.6" cy="341.8" r="3.3"/><circle cx="679.1" cy="422.7" r="3.3"/><circle cx="681.1" cy="410.7" r="3.3"/><circle cx="684.9" cy="410.6" r="3.3"/><circle cx="724" cy="353.7" r="3.3"/><circle cx="698.8" cy="429.6" r="3.3"/><circle cx="697.6" cy="388.6" r="3.3"/><circle cx="700.5" cy="409.3" r="3.3"/><circle cx="698.3" cy="427.8" r="3.3"/><circle cx="705.7" cy="322.7" r="3.3"/><circle cx="680.5" cy="403.7" r="3.3"/><circle cx="687.5" cy="331.5" r="3.3"/><circle cx="720.9" cy="391.2" r="3.3"/><circle cx="719.5" cy="323.9" r="3.3"/><circle cx="715.5" cy="366.5" r="3.3"/><circle cx="731.7" cy="363.1" r="3.3"/><circle cx="696.1" cy="311.3" r="3.3"/><circle cx="686.5" cy="353.2" r="3.3"/><circle cx="702.1" cy="384.8" r="3.3"/><circle cx="700.6" cy="359.6" r="3.3"/><circle cx="703.7" cy="423.3" r="3.3"/><circle cx="704.9" cy="346.3" r="3.3"/><circle cx="711.1" cy="396" r="3.3"/><circle cx="650.1" cy="450.2" r="3.3"/><circle cx="696.8" cy="407.4" r="3.3"/><circle cx="664.9" cy="423.2" r="3.3"/><circle cx="692" cy="330.1" r="3.3"/><circle cx="641.7" cy="443.1" r="3.3"/><circle cx="688.4" cy="376.8" r="3.3"/><circle cx="686.1" cy="352.2" r="3.3"/><circle cx="685.2" cy="388.3" r="3.3"/><circle cx="685" cy="397.2" r="3.3"/><circle cx="707.4" cy="337.9" r="3.3"/><circle cx="698.1" cy="358.5" r="3.3"/><circle cx="650.9" cy="437" r="3.3"/><circle cx="670.8" cy="433.2" r="3.3"/><circle cx="724.4" cy="365.8" r="3.3"/><circle cx="687.5" cy="363" r="3.3"/><circle cx="709.4" cy="386" r="3.3"/><circle cx="685.4" cy="396.8" r="3.3"/><circle cx="691.5" cy="443.9" r="3.3"/><circle cx="653.6" cy="452.1" r="3.3"/><circle cx="693.2" cy="428.2" r="3.3"/><circle cx="688.4" cy="330.2" r="3.3"/><circle cx="692.7" cy="329.2" r="3.3"/><circle cx="680.6" cy="416.3" r="3.3"/><circle cx="682.1" cy="380.6" r="3.3"/><circle cx="717.9" cy="382.6" r="3.3"/><circle cx="698.8" cy="422.1" r="3.3"/><circle cx="725" cy="363.5" r="3.3"/><circle cx="696.6" cy="427.3" r="3.3"/><circle cx="628.5" cy="450.9" r="3.3"/><circle cx="652.9" cy="445.6" r="3.3"/><circle cx="681.1" cy="409.1" r="3.3"/><circle cx="623.9" cy="439.5" r="3.3"/><circle cx="687.8" cy="389.9" r="3.3"/><circle cx="703.5" cy="361.9" r="3.3"/><circle cx="712" cy="401.9" r="3.3"/><circle cx="717.4" cy="358.3" r="3.3"/><circle cx="699.2" cy="356.8" r="3.3"/><circle cx="649.4" cy="438.9" r="3.3"/><circle cx="704.5" cy="318" r="3.3"/><circle cx="677.2" cy="414.5" r="3.3"/><circle cx="694.3" cy="414.7" r="3.3"/><circle cx="677.5" cy="405.4" r="3.3"/><circle cx="695.6" cy="319.8" r="3.3"/><circle cx="707" cy="356.2" r="3.3"/><circle cx="709" cy="305.4" r="3.3"/><circle cx="712.8" cy="351.9" r="3.3"/><circle cx="636.8" cy="445.9" r="3.3"/><circle cx="655.1" cy="435.2" r="3.3"/><circle cx="669.9" cy="416.4" r="3.3"/><circle cx="652.9" cy="451.1" r="3.3"/><circle cx="637.4" cy="447.4" r="3.3"/><circle cx="719.7" cy="364.8" r="3.3"/><circle cx="699.3" cy="330.5" r="3.3"/><circle cx="702.8" cy="331.3" r="3.3"/><circle cx="632.2" cy="451.4" r="3.3"/><circle cx="689.6" cy="398.6" r="3.3"/><circle cx="679.8" cy="399.9" r="3.3"/><circle cx="717.5" cy="395.8" r="3.3"/><circle cx="696.9" cy="397.7" r="3.3"/><circle cx="683.6" cy="388.6" r="3.3"/><circle cx="690.4" cy="428.8" r="3.3"/><circle cx="715.7" cy="371.5" r="3.3"/><circle cx="703.3" cy="366.5" r="3.3"/><circle cx="712.9" cy="338.3" r="3.3"/><circle cx="701.5" cy="389.3" r="3.3"/><circle cx="710.4" cy="308.8" r="3.3"/><circle cx="703.9" cy="392.4" r="3.3"/><circle cx="633.6" cy="442.8" r="3.3"/><circle cx="730.5" cy="373.8" r="3.3"/><circle cx="723.1" cy="350.6" r="3.3"/><circle cx="650.8" cy="451.4" r="3.3"/><circle cx="644.1" cy="433.3" r="3.3"/><circle cx="657.2" cy="451.5" r="3.3"/><circle cx="723.9" cy="338.9" r="3.3"/><circle cx="719.2" cy="400.7" r="3.3"/><circle cx="685.6" cy="422.9" r="3.3"/><circle cx="626.3" cy="452.1" r="3.3"/><circle cx="687.3" cy="433.6" r="3.3"/><circle cx="723.5" cy="341.4" r="3.3"/><circle cx="709.4" cy="371.7" r="3.3"/><circle cx="649.9" cy="433" r="3.3"/><circle cx="717.3" cy="345.7" r="3.3"/><circle cx="724.8" cy="315" r="3.3"/><circle cx="693.9" cy="377.1" r="3.3"/><circle cx="704.6" cy="423.2" r="3.3"/><circle cx="691.1" cy="418.8" r="3.3"/><circle cx="689.7" cy="438.9" r="3.3"/><circle cx="704.3" cy="326.6" r="3.3"/><circle cx="691.1" cy="319" r="3.3"/><circle cx="729.3" cy="355.5" r="3.3"/><circle cx="654.7" cy="428.2" r="3.3"/><circle cx="704.3" cy="331.1" r="3.3"/><circle cx="683.7" cy="430.5" r="3.3"/><circle cx="628.4" cy="438.4" r="3.3"/><circle cx="636.4" cy="451.2" r="3.3"/><circle cx="716.5" cy="397.8" r="3.3"/><circle cx="678.2" cy="412.4" r="3.3"/><circle cx="691.2" cy="403.6" r="3.3"/><circle cx="717.6" cy="351" r="3.3"/><circle cx="715.2" cy="345.5" r="3.3"/><circle cx="677.6" cy="407.5" r="3.3"/><circle cx="719.9" cy="323.1" r="3.3"/><circle cx="689.6" cy="373.5" r="3.3"/><circle cx="731.2" cy="321.3" r="3.3"/><circle cx="694.9" cy="357.3" r="3.3"/><circle cx="671.4" cy="452.2" r="3.3"/><circle cx="685.6" cy="413.7" r="3.3"/><circle cx="706.3" cy="350.2" r="3.3"/><circle cx="716.5" cy="325.8" r="3.3"/><circle cx="724.6" cy="367.3" r="3.3"/><circle cx="707.2" cy="364.9" r="3.3"/><circle cx="680.3" cy="408.8" r="3.3"/><circle cx="690.2" cy="390.3" r="3.3"/><circle cx="654.6" cy="434" r="3.3"/><circle cx="687" cy="431.3" r="3.3"/><circle cx="697.1" cy="414.8" r="3.3"/><circle cx="686.9" cy="370.8" r="3.3"/><circle cx="698.2" cy="366.4" r="3.3"/><circle cx="703.4" cy="407.5" r="3.3"/><circle cx="704.8" cy="340.5" r="3.3"/><circle cx="701.1" cy="366.7" r="3.3"/><circle cx="702.3" cy="426.3" r="3.3"/><circle cx="701.7" cy="392" r="3.3"/><circle cx="704" cy="358.2" r="3.3"/><circle cx="702.4" cy="411.7" r="3.3"/><circle cx="731" cy="355.2" r="3.3"/><circle cx="711.3" cy="307.5" r="3.3"/><circle cx="708.6" cy="357.9" r="3.3"/><circle cx="719.7" cy="351.1" r="3.3"/><circle cx="721.9" cy="394.2" r="3.3"/><circle cx="650.2" cy="451.9" r="3.3"/><circle cx="689.2" cy="427.5" r="3.3"/><circle cx="702.7" cy="372.9" r="3.3"/><circle cx="679.9" cy="401.8" r="3.3"/><circle cx="636.7" cy="451.5" r="3.3"/><circle cx="692.1" cy="359.1" r="3.3"/><circle cx="722.1" cy="362.8" r="3.3"/><circle cx="702" cy="400.7" r="3.3"/><circle cx="679.3" cy="414.6" r="3.3"/><circle cx="696.4" cy="424.9" r="3.3"/><circle cx="667.1" cy="419.6" r="3.3"/><circle cx="684.2" cy="373.8" r="3.3"/><circle cx="705.4" cy="432.1" r="3.3"/><circle cx="704.8" cy="383.8" r="3.3"/><circle cx="724.4" cy="320.6" r="3.3"/><circle cx="711.4" cy="348.9" r="3.3"/><circle cx="714.3" cy="322.6" r="3.3"/><circle cx="692.6" cy="323.3" r="3.3"/><circle cx="695.2" cy="380.3" r="3.3"/><circle cx="673.8" cy="419.8" r="3.3"/><circle cx="687" cy="365.7" r="3.3"/><circle cx="705.7" cy="336.4" r="3.3"/><circle cx="700.1" cy="387.2" r="3.3"/><circle cx="648.1" cy="430.8" r="3.3"/><circle cx="651.8" cy="430.7" r="3.3"/><circle cx="661" cy="448.6" r="3.3"/><circle cx="715.1" cy="364.6" r="3.3"/><circle cx="695.8" cy="425.9" r="3.3"/><circle cx="676.2" cy="410.2" r="3.3"/><circle cx="682.1" cy="383.1" r="3.3"/><circle cx="702.6" cy="320.4" r="3.3"/><circle cx="670.7" cy="448" r="3.3"/><circle cx="645.2" cy="430.3" r="3.3"/><circle cx="688.2" cy="366" r="3.3"/><circle cx="690.9" cy="342.9" r="3.3"/><circle cx="649.1" cy="440.9" r="3.3"/><circle cx="713.2" cy="376.9" r="3.3"/><circle cx="703.9" cy="436.1" r="3.3"/><circle cx="723.2" cy="348.6" r="3.3"/><circle cx="703.1" cy="342.5" r="3.3"/><circle cx="707.5" cy="368" r="3.3"/><circle cx="706.9" cy="357.4" r="3.3"/><circle cx="686.1" cy="371.2" r="3.3"/><circle cx="650.5" cy="428.5" r="3.3"/><circle cx="705.9" cy="382.7" r="3.3"/><circle cx="695.7" cy="363.6" r="3.3"/><circle cx="706" cy="318.8" r="3.3"/><circle cx="710.1" cy="350.8" r="3.3"/><circle cx="719.6" cy="338.3" r="3.3"/><circle cx="683.2" cy="376.6" r="3.3"/><circle cx="692.5" cy="393.1" r="3.3"/><circle cx="716.6" cy="348.9" r="3.3"/><circle cx="690.7" cy="391.8" r="3.3"/><circle cx="706.3" cy="378.1" r="3.3"/><circle cx="667" cy="416.3" r="3.3"/><circle cx="724.2" cy="344.2" r="3.3"/><circle cx="726.5" cy="367.4" r="3.3"/><circle cx="698.8" cy="363.9" r="3.3"/><circle cx="672.6" cy="405.3" r="3.3"/><circle cx="683" cy="450.6" r="3.3"/><circle cx="701.4" cy="352.9" r="3.3"/><circle cx="698.8" cy="426.1" r="3.3"/><circle cx="671.5" cy="399.7" r="3.3"/><circle cx="665.2" cy="417.8" r="3.3"/><circle cx="699.6" cy="397.1" r="3.3"/><circle cx="674.2" cy="442.2" r="3.3"/><circle cx="722.3" cy="307.3" r="3.3"/><circle cx="677.1" cy="390.4" r="3.3"/><circle cx="688.5" cy="413.8" r="3.3"/><circle cx="720.4" cy="405.3" r="3.3"/><circle cx="709.5" cy="315.2" r="3.3"/><circle cx="684.4" cy="416" r="3.3"/><circle cx="704.9" cy="370.7" r="3.3"/><circle cx="703.3" cy="321.6" r="3.3"/><circle cx="671" cy="413.5" r="3.3"/><circle cx="726.4" cy="321.3" r="3.3"/><circle cx="697.5" cy="403.3" r="3.3"/><circle cx="694.4" cy="320.9" r="3.3"/><circle cx="734.3" cy="350.2" r="3.3"/><circle cx="639.1" cy="441.4" r="3.3"/><circle cx="711" cy="365.8" r="3.3"/><circle cx="653.2" cy="429" r="3.3"/><circle cx="668.5" cy="434.2" r="3.3"/><circle cx="719.1" cy="360.3" r="3.3"/><circle cx="662.1" cy="442.3" r="3.3"/><circle cx="688.5" cy="406.7" r="3.3"/><circle cx="665.9" cy="420" r="3.3"/><circle cx="674.7" cy="414.6" r="3.3"/><circle cx="685.6" cy="391.3" r="3.3"/><circle cx="693.4" cy="355.6" r="3.3"/><circle cx="715.2" cy="356.1" r="3.3"/><circle cx="699.1" cy="381.5" r="3.3"/><circle cx="716.6" cy="389.6" r="3.3"/><circle cx="714.7" cy="357.4" r="3.3"/><circle cx="680.3" cy="407.9" r="3.3"/><circle cx="720.5" cy="342.9" r="3.3"/><circle cx="689.4" cy="389.7" r="3.3"/><circle cx="707" cy="313.6" r="3.3"/><circle cx="690.4" cy="410.8" r="3.3"/><circle cx="700.5" cy="396" r="3.3"/><circle cx="690.3" cy="449.4" r="3.3"/><circle cx="707" cy="371.9" r="3.3"/><circle cx="719.8" cy="338.5" r="3.3"/><circle cx="703" cy="319.2" r="3.3"/><circle cx="644.5" cy="430.3" r="3.3"/><circle cx="697.8" cy="408.1" r="3.3"/><circle cx="694.8" cy="386.2" r="3.3"/><circle cx="730.6" cy="326.6" r="3.3"/><circle cx="661.2" cy="424.1" r="3.3"/><circle cx="671.3" cy="420.8" r="3.3"/><circle cx="710.1" cy="333.7" r="3.3"/><circle cx="678.9" cy="394.9" r="3.3"/><circle cx="693.6" cy="418" r="3.3"/><circle cx="701.2" cy="438" r="3.3"/><circle cx="687.3" cy="406.7" r="3.3"/><circle cx="678.3" cy="445.7" r="3.3"/><circle cx="728.6" cy="347.3" r="3.3"/><circle cx="681.6" cy="412.3" r="3.3"/><circle cx="686.6" cy="341.1" r="3.3"/><circle cx="692" cy="384" r="3.3"/><circle cx="698.2" cy="347.7" r="3.3"/><circle cx="710.4" cy="323.6" r="3.3"/><circle cx="699.4" cy="344.6" r="3.3"/><circle cx="710.6" cy="345.4" r="3.3"/><circle cx="644.6" cy="434.2" r="3.3"/><circle cx="699" cy="432.1" r="3.3"/><circle cx="700.3" cy="394.8" r="3.3"/><circle cx="694.8" cy="413.4" r="3.3"/><circle cx="717.7" cy="402.3" r="3.3"/><circle cx="688.2" cy="342.7" r="3.3"/><circle cx="650.7" cy="443.6" r="3.3"/><circle cx="671.6" cy="421.3" r="3.3"/><circle cx="701.5" cy="371.5" r="3.3"/><circle cx="694.5" cy="388.3" r="3.3"/><circle cx="674.4" cy="444.1" r="3.3"/><circle cx="694.7" cy="314.7" r="3.3"/><circle cx="684.2" cy="388.2" r="3.3"/><circle cx="644" cy="451.3" r="3.3"/><circle cx="637.6" cy="433.9" r="3.3"/><circle cx="671.7" cy="403.3" r="3.3"/><circle cx="732" cy="308.4" r="3.3"/><circle cx="694.5" cy="431.4" r="3.3"/><circle cx="684.8" cy="381.7" r="3.3"/><circle cx="689.4" cy="382.5" r="3.3"/><circle cx="697.2" cy="382.5" r="3.3"/><circle cx="691.4" cy="378.4" r="3.3"/><circle cx="689.8" cy="409.1" r="3.3"/><circle cx="686.5" cy="376.4" r="3.3"/><circle cx="708.9" cy="376.6" r="3.3"/><circle cx="663.7" cy="448.9" r="3.3"/><circle cx="702" cy="324.1" r="3.3"/><circle cx="721.1" cy="354" r="3.3"/><circle cx="700.6" cy="443.9" r="3.3"/><circle cx="692.6" cy="441.9" r="3.3"/><circle cx="622.7" cy="443.3" r="3.3"/><circle cx="710.2" cy="377" r="3.3"/><circle cx="700.5" cy="406.2" r="3.3"/><circle cx="728" cy="320.6" r="3.3"/><circle cx="622.1" cy="446.6" r="3.3"/><circle cx="720.2" cy="308.8" r="3.3"/><circle cx="707.9" cy="381.4" r="3.3"/><circle cx="706.4" cy="416.8" r="3.3"/><circle cx="711.9" cy="422.3" r="3.3"/><circle cx="701.2" cy="364.7" r="3.3"/><circle cx="685.8" cy="355.7" r="3.3"/><circle cx="675.7" cy="418.8" r="3.3"/><circle cx="701.1" cy="391.3" r="3.3"/><circle cx="719.7" cy="354" r="3.3"/><circle cx="694.9" cy="371.8" r="3.3"/><circle cx="643.2" cy="435.4" r="3.3"/><circle cx="699.3" cy="326.3" r="3.3"/><circle cx="720" cy="375.4" r="3.3"/><circle cx="697.3" cy="353.6" r="3.3"/><circle cx="682.2" cy="401.5" r="3.3"/><circle cx="692.8" cy="381.9" r="3.3"/><circle cx="645.4" cy="434.7" r="3.3"/><circle cx="699.4" cy="338.6" r="3.3"/><circle cx="722.4" cy="353.1" r="3.3"/><circle cx="710.3" cy="404.4" r="3.3"/><circle cx="684" cy="384.5" r="3.3"/><circle cx="675.7" cy="417.8" r="3.3"/><circle cx="704.1" cy="336.5" r="3.3"/><circle cx="648.5" cy="451.5" r="3.3"/><circle cx="731.5" cy="357.1" r="3.3"/><circle cx="691.6" cy="361.7" r="3.3"/><circle cx="701.7" cy="421.7" r="3.3"/><circle cx="725.6" cy="354.4" r="3.3"/><circle cx="699.4" cy="360.5" r="3.3"/><circle cx="711" cy="392.4" r="3.3"/><circle cx="721.8" cy="374.9" r="3.3"/><circle cx="708.1" cy="306.1" r="3.3"/><circle cx="696.7" cy="313.7" r="3.3"/><circle cx="725" cy="334.6" r="3.3"/><circle cx="649.3" cy="442.8" r="3.3"/><circle cx="632.9" cy="442.7" r="3.3"/><circle cx="719" cy="324.2" r="3.3"/><circle cx="686.7" cy="435.5" r="3.3"/><circle cx="657.1" cy="445.4" r="3.3"/><circle cx="690.9" cy="359.5" r="3.3"/><circle cx="702.3" cy="331.5" r="3.3"/><circle cx="692.4" cy="331.2" r="3.3"/><circle cx="705.6" cy="382.5" r="3.3"/><circle cx="713.1" cy="388.6" r="3.3"/><circle cx="689.3" cy="337.2" r="3.3"/><circle cx="724.4" cy="350.1" r="3.3"/><circle cx="663.3" cy="441.7" r="3.3"/><circle cx="702.4" cy="327.9" r="3.3"/><circle cx="691.8" cy="388.7" r="3.3"/><circle cx="715.8" cy="393.9" r="3.3"/><circle cx="692.6" cy="373.3" r="3.3"/><circle cx="684.1" cy="417.6" r="3.3"/><circle cx="720.1" cy="329.8" r="3.3"/><circle cx="686.9" cy="335.5" r="3.3"/><circle cx="721.1" cy="336.7" r="3.3"/><circle cx="712.5" cy="378.4" r="3.3"/><circle cx="692.2" cy="373.3" r="3.3"/><circle cx="690.6" cy="396.2" r="3.3"/><circle cx="712.8" cy="374.5" r="3.3"/><circle cx="703.5" cy="351.2" r="3.3"/><circle cx="674.9" cy="435.7" r="3.3"/><circle cx="711.1" cy="366.1" r="3.3"/><circle cx="699.5" cy="372.6" r="3.3"/><circle cx="641.4" cy="440.1" r="3.3"/><circle cx="690.9" cy="443.4" r="3.3"/><circle cx="642.1" cy="435.4" r="3.3"/><circle cx="719.6" cy="329.5" r="3.3"/><circle cx="712.3" cy="339" r="3.3"/><circle cx="720.1" cy="318.4" r="3.3"/><circle cx="713.6" cy="355.7" r="3.3"/><circle cx="684.8" cy="360.5" r="3.3"/><circle cx="694.9" cy="378" r="3.3"/><circle cx="706.8" cy="389.6" r="3.3"/><circle cx="687.9" cy="372.9" r="3.3"/><circle cx="704.7" cy="378.1" r="3.3"/><circle cx="688" cy="370" r="3.3"/><circle cx="669.8" cy="423.2" r="3.3"/><circle cx="698.3" cy="427.5" r="3.3"/><circle cx="711.4" cy="367.5" r="3.3"/><circle cx="660.3" cy="444.9" r="3.3"/><circle cx="696.6" cy="375.8" r="3.3"/><circle cx="677.6" cy="429.3" r="3.3"/><circle cx="695.1" cy="355" r="3.3"/><circle cx="722.6" cy="336.1" r="3.3"/><circle cx="711.3" cy="423.7" r="3.3"/><circle cx="710.3" cy="406.1" r="3.3"/><circle cx="710" cy="410" r="3.3"/><circle cx="666.3" cy="423.4" r="3.3"/><circle cx="671.6" cy="425.4" r="3.3"/><circle cx="697.5" cy="380.3" r="3.3"/><circle cx="691.9" cy="422" r="3.3"/><circle cx="700.5" cy="439.7" r="3.3"/><circle cx="695.3" cy="313.6" r="3.3"/><circle cx="686.3" cy="450.3" r="3.3"/><circle cx="694.8" cy="350.3" r="3.3"/><circle cx="707.9" cy="407.4" r="3.3"/><circle cx="667.4" cy="450.8" r="3.3"/><circle cx="721.4" cy="322.7" r="3.3"/><circle cx="724.1" cy="312.7" r="3.3"/><circle cx="707.1" cy="421" r="3.3"/><circle cx="721.4" cy="388.8" r="3.3"/><circle cx="700.5" cy="377.3" r="3.3"/><circle cx="686.1" cy="356.7" r="3.3"/><circle cx="723.2" cy="328" r="3.3"/><circle cx="715.2" cy="338.1" r="3.3"/><circle cx="698.4" cy="419.5" r="3.3"/><circle cx="696" cy="380.9" r="3.3"/><circle cx="694.7" cy="344.7" r="3.3"/><circle cx="705.5" cy="400.5" r="3.3"/><circle cx="647.6" cy="444.4" r="3.3"/><circle cx="696.8" cy="442.1" r="3.3"/><circle cx="733.4" cy="347.3" r="3.3"/><circle cx="681.5" cy="447.4" r="3.3"/><circle cx="699.4" cy="353.7" r="3.3"/><circle cx="703.5" cy="381.9" r="3.3"/><circle cx="714.1" cy="309.3" r="3.3"/><circle cx="718.5" cy="374.5" r="3.3"/><circle cx="695" cy="341.2" r="3.3"/><circle cx="688" cy="390.5" r="3.3"/><circle cx="688.7" cy="352.8" r="3.3"/><circle cx="724.2" cy="382.5" r="3.3"/><circle cx="704.5" cy="365.7" r="3.3"/><circle cx="707.3" cy="339.1" r="3.3"/><circle cx="629.8" cy="446.9" r="3.3"/><circle cx="717.6" cy="368.5" r="3.3"/><circle cx="692.4" cy="417.6" r="3.3"/><circle cx="719.5" cy="399.5" r="3.3"/><circle cx="711" cy="341.4" r="3.3"/><circle cx="659.4" cy="452.6" r="3.3"/><circle cx="720.7" cy="332.2" r="3.3"/><circle cx="692.1" cy="386.1" r="3.3"/><circle cx="705.4" cy="411.2" r="3.3"/><circle cx="724.6" cy="351.6" r="3.3"/><circle cx="706.6" cy="400.5" r="3.3"/><circle cx="704.4" cy="372" r="3.3"/><circle cx="710.4" cy="319.9" r="3.3"/><circle cx="691.5" cy="446.2" r="3.3"/><circle cx="719.2" cy="344.1" r="3.3"/><circle cx="690.2" cy="369.2" r="3.3"/><circle cx="712.3" cy="367.4" r="3.3"/><circle cx="686.7" cy="414.9" r="3.3"/><circle cx="705.2" cy="400.8" r="3.3"/><circle cx="674.3" cy="395.7" r="3.3"/><circle cx="674.8" cy="409.9" r="3.3"/><circle cx="691.5" cy="312.2" r="3.3"/><circle cx="688.5" cy="373.8" r="3.3"/><circle cx="688.7" cy="446.1" r="3.3"/><circle cx="710.3" cy="376.5" r="3.3"/><circle cx="696.7" cy="349.3" r="3.3"/><circle cx="672.9" cy="433" r="3.3"/><circle cx="704.3" cy="365.2" r="3.3"/><circle cx="648.2" cy="436.2" r="3.3"/><circle cx="697.4" cy="421.9" r="3.3"/><circle cx="701.4" cy="370.8" r="3.3"/><circle cx="706" cy="369.1" r="3.3"/><circle cx="717.3" cy="351" r="3.3"/><circle cx="699.5" cy="365.3" r="3.3"/><circle cx="685.7" cy="419.1" r="3.3"/><circle cx="730.6" cy="360" r="3.3"/><circle cx="681.1" cy="421.1" r="3.3"/><circle cx="707.7" cy="404" r="3.3"/><circle cx="722.2" cy="348.1" r="3.3"/><circle cx="673.4" cy="445.5" r="3.3"/><circle cx="691.4" cy="403.6" r="3.3"/><circle cx="680.4" cy="401.4" r="3.3"/><circle cx="690.6" cy="418.8" r="3.3"/><circle cx="646.5" cy="450" r="3.3"/><circle cx="669" cy="410" r="3.3"/><circle cx="722.3" cy="366" r="3.3"/><circle cx="714.8" cy="342.7" r="3.3"/><circle cx="703.5" cy="336.9" r="3.3"/><circle cx="635.8" cy="452.1" r="3.3"/><circle cx="626.9" cy="440" r="3.3"/><circle cx="715.3" cy="390.9" r="3.3"/><circle cx="671.2" cy="428.8" r="3.3"/><circle cx="709.7" cy="392" r="3.3"/><circle cx="702.7" cy="417.5" r="3.3"/><circle cx="688.7" cy="390.3" r="3.3"/><circle cx="697.3" cy="409.1" r="3.3"/><circle cx="677.6" cy="420.3" r="3.3"/><circle cx="702.5" cy="388.5" r="3.3"/><circle cx="690.2" cy="377.8" r="3.3"/><circle cx="717.5" cy="397.2" r="3.3"/><circle cx="725.9" cy="347.1" r="3.3"/><circle cx="691.4" cy="366.6" r="3.3"/><circle cx="696.4" cy="394.3" r="3.3"/><circle cx="725.9" cy="382.9" r="3.3"/><circle cx="648.6" cy="446.1" r="3.3"/><circle cx="667.4" cy="417.1" r="3.3"/><circle cx="720.8" cy="348.8" r="3.3"/><circle cx="711.7" cy="406.8" r="3.3"/><circle cx="698.7" cy="360.6" r="3.3"/><circle cx="712.4" cy="357.4" r="3.3"/><circle cx="676.1" cy="401.9" r="3.3"/><circle cx="730.1" cy="350.4" r="3.3"/><circle cx="641.6" cy="443.1" r="3.3"/><circle cx="692.3" cy="330.5" r="3.3"/><circle cx="722.5" cy="316.8" r="3.3"/><circle cx="709.1" cy="343.4" r="3.3"/><circle cx="669.6" cy="407.6" r="3.3"/><circle cx="703" cy="426" r="3.3"/><circle cx="717" cy="335.5" r="3.3"/><circle cx="685.7" cy="408.2" r="3.3"/><circle cx="647.6" cy="434.9" r="3.3"/><circle cx="698.2" cy="374.6" r="3.3"/><circle cx="723.3" cy="369.8" r="3.3"/><circle cx="706" cy="388.9" r="3.3"/><circle cx="637.6" cy="451.1" r="3.3"/><circle cx="713.4" cy="337.2" r="3.3"/><circle cx="704.9" cy="369.6" r="3.3"/><circle cx="705.7" cy="427.3" r="3.3"/><circle cx="703.1" cy="329.5" r="3.3"/><circle cx="679.3" cy="409.3" r="3.3"/><circle cx="698.3" cy="435.5" r="3.3"/><circle cx="702.1" cy="337.7" r="3.3"/><circle cx="718.1" cy="338.1" r="3.3"/><circle cx="693.7" cy="311" r="3.3"/><circle cx="680.2" cy="429.3" r="3.3"/><circle cx="680.9" cy="390.9" r="3.3"/><circle cx="665.7" cy="450.7" r="3.3"/><circle cx="641.2" cy="432.5" r="3.3"/><circle cx="690.3" cy="319.2" r="3.3"/><circle cx="677.3" cy="407.8" r="3.3"/><circle cx="718.1" cy="344.6" r="3.3"/><circle cx="685" cy="407.6" r="3.3"/><circle cx="697.2" cy="373.7" r="3.3"/><circle cx="695.2" cy="387.6" r="3.3"/><circle cx="697.6" cy="357.6" r="3.3"/><circle cx="698.6" cy="347.5" r="3.3"/><circle cx="688.2" cy="392.2" r="3.3"/><circle cx="726.9" cy="320.8" r="3.3"/><circle cx="707.7" cy="373.9" r="3.3"/><circle cx="730.9" cy="350.5" r="3.3"/><circle cx="697" cy="416.4" r="3.3"/><circle cx="705.5" cy="402.3" r="3.3"/><circle cx="701.3" cy="378.6" r="3.3"/><circle cx="710.3" cy="362.1" r="3.3"/><circle cx="708.5" cy="373.8" r="3.3"/><circle cx="716.5" cy="383.4" r="3.3"/><circle cx="643.8" cy="437" r="3.3"/><circle cx="717.5" cy="308.7" r="3.3"/><circle cx="695" cy="346.5" r="3.3"/><circle cx="696.8" cy="433.4" r="3.3"/><circle cx="704.7" cy="405.9" r="3.3"/><circle cx="689.4" cy="414.9" r="3.3"/><circle cx="712.5" cy="363.2" r="3.3"/><circle cx="707.8" cy="435.2" r="3.3"/><circle cx="651.4" cy="428.5" r="3.3"/><circle cx="695.8" cy="380.7" r="3.3"/><circle cx="674.3" cy="432.4" r="3.3"/><circle cx="626.9" cy="451.6" r="3.3"/><circle cx="622.6" cy="452" r="3.3"/><circle cx="705.5" cy="326.1" r="3.3"/><circle cx="674.7" cy="399.3" r="3.3"/><circle cx="694.4" cy="417.6" r="3.3"/><circle cx="684.6" cy="390.8" r="3.3"/><circle cx="726.3" cy="373.1" r="3.3"/><circle cx="705.5" cy="336.3" r="3.3"/><circle cx="695.4" cy="385" r="3.3"/><circle cx="706.6" cy="390.1" r="3.3"/><circle cx="679.7" cy="401.8" r="3.3"/><circle cx="704.9" cy="314.8" r="3.3"/><circle cx="664.8" cy="446.7" r="3.3"/><circle cx="717.7" cy="319.1" r="3.3"/><circle cx="724.6" cy="343.1" r="3.3"/><circle cx="706.9" cy="411.9" r="3.3"/><circle cx="664.9" cy="422.9" r="3.3"/><circle cx="687.7" cy="334.1" r="3.3"/><circle cx="708.7" cy="328.4" r="3.3"/><circle cx="645.8" cy="446.8" r="3.3"/><circle cx="725" cy="342.6" r="3.3"/><circle cx="715.1" cy="331.5" r="3.3"/><circle cx="696.3" cy="387.9" r="3.3"/><circle cx="666.2" cy="426.7" r="3.3"/><circle cx="677.7" cy="410.5" r="3.3"/><circle cx="730.8" cy="345.6" r="3.3"/><circle cx="699" cy="339.3" r="3.3"/><circle cx="690.1" cy="429.8" r="3.3"/><circle cx="671.4" cy="450" r="3.3"/><circle cx="690.5" cy="397.6" r="3.3"/><circle cx="693.5" cy="410.9" r="3.3"/><circle cx="707.4" cy="312.8" r="3.3"/><circle cx="683.1" cy="383.1" r="3.3"/><circle cx="707.4" cy="308.2" r="3.3"/><circle cx="692.7" cy="353.2" r="3.3"/><circle cx="705.4" cy="378.5" r="3.3"/><circle cx="692.5" cy="418.1" r="3.3"/><circle cx="694.4" cy="339.6" r="3.3"/><circle cx="672.1" cy="412" r="3.3"/><circle cx="638.2" cy="432.8" r="3.3"/><circle cx="707.5" cy="332.2" r="3.3"/><circle cx="684.8" cy="429.8" r="3.3"/><circle cx="705.2" cy="415.1" r="3.3"/><circle cx="670.7" cy="411.6" r="3.3"/><circle cx="659.4" cy="427" r="3.3"/><circle cx="689.3" cy="328.2" r="3.3"/><circle cx="707.8" cy="308.2" r="3.3"/><circle cx="683.1" cy="430.1" r="3.3"/><circle cx="624.8" cy="440.5" r="3.3"/><circle cx="701.9" cy="320.8" r="3.3"/><circle cx="691.7" cy="332.5" r="3.3"/><circle cx="714.7" cy="333.9" r="3.3"/><circle cx="694.9" cy="329" r="3.3"/><circle cx="697.6" cy="383.8" r="3.3"/><circle cx="713.5" cy="326.3" r="3.3"/><circle cx="699.8" cy="379.7" r="3.3"/><circle cx="685.3" cy="374.7" r="3.3"/><circle cx="681.9" cy="395.6" r="3.3"/><circle cx="685.5" cy="354" r="3.3"/><circle cx="674.8" cy="436.3" r="3.3"/><circle cx="712.1" cy="362.4" r="3.3"/><circle cx="631.6" cy="444" r="3.3"/><circle cx="720.8" cy="361.1" r="3.3"/><circle cx="720.9" cy="359.4" r="3.3"/><circle cx="625.5" cy="439.3" r="3.3"/><circle cx="700" cy="346.4" r="3.3"/><circle cx="705.9" cy="415.8" r="3.3"/><circle cx="727.8" cy="362.6" r="3.3"/><circle cx="668.3" cy="418.1" r="3.3"/><circle cx="676.8" cy="450" r="3.3"/><circle cx="662" cy="433" r="3.3"/><circle cx="721.3" cy="394.2" r="3.3"/><circle cx="718.7" cy="390" r="3.3"/><circle cx="687.9" cy="429" r="3.3"/><circle cx="631.5" cy="447.1" r="3.3"/><circle cx="712.8" cy="364.2" r="3.3"/><circle cx="723.8" cy="323.6" r="3.3"/><circle cx="702.7" cy="313.3" r="3.3"/><circle cx="716.3" cy="352.1" r="3.3"/><circle cx="706.5" cy="332.5" r="3.3"/><circle cx="720.3" cy="358.5" r="3.3"/><circle cx="724.4" cy="332.3" r="3.3"/><circle cx="711.1" cy="333.6" r="3.3"/><circle cx="685.1" cy="354.6" r="3.3"/><circle cx="699.2" cy="352.9" r="3.3"/><circle cx="667.8" cy="451.7" r="3.3"/><circle cx="700.6" cy="313.7" r="3.3"/><circle cx="716.9" cy="375.7" r="3.3"/><circle cx="705.6" cy="351.3" r="3.3"/><circle cx="723.4" cy="350.6" r="3.3"/><circle cx="716.2" cy="373" r="3.3"/><circle cx="723" cy="326.6" r="3.3"/><circle cx="635.9" cy="448" r="3.3"/><circle cx="680.2" cy="395.9" r="3.3"/><circle cx="719.4" cy="331.3" r="3.3"/><circle cx="708.9" cy="389.3" r="3.3"/><circle cx="624.3" cy="448.2" r="3.3"/><circle cx="691.1" cy="318.7" r="3.3"/><circle cx="723" cy="372.5" r="3.3"/><circle cx="697.1" cy="405.9" r="3.3"/><circle cx="665.2" cy="431.6" r="3.3"/><circle cx="717.8" cy="320.8" r="3.3"/><circle cx="696.1" cy="313.5" r="3.3"/><circle cx="714.7" cy="393.9" r="3.3"/><circle cx="691.2" cy="355.3" r="3.3"/><circle cx="707.1" cy="404" r="3.3"/><circle cx="672.8" cy="435.7" r="3.3"/><circle cx="717.3" cy="390.7" r="3.3"/><circle cx="695.2" cy="419.4" r="3.3"/><circle cx="684" cy="373.8" r="3.3"/><circle cx="695.7" cy="375" r="3.3"/><circle cx="699.1" cy="393.6" r="3.3"/><circle cx="684.5" cy="380.1" r="3.3"/><circle cx="715.9" cy="323.6" r="3.3"/><circle cx="720.6" cy="405.6" r="3.3"/><circle cx="708.3" cy="347.2" r="3.3"/><circle cx="719.1" cy="379.4" r="3.3"/><circle cx="708.8" cy="363.3" r="3.3"/><circle cx="688.5" cy="363.5" r="3.3"/><circle cx="676.1" cy="405" r="3.3"/><circle cx="707" cy="326.2" r="3.3"/><circle cx="711.7" cy="393.7" r="3.3"/><circle cx="698.1" cy="370.2" r="3.3"/><circle cx="720.2" cy="280.7" r="3.3"/><circle cx="700.6" cy="296" r="3.3"/><circle cx="715.9" cy="271.8" r="3.3"/><circle cx="721.7" cy="302" r="3.3"/><circle cx="720.1" cy="278" r="3.3"/><circle cx="716.5" cy="303.9" r="3.3"/><circle cx="710.5" cy="267.6" r="3.3"/><circle cx="711.2" cy="295.1" r="3.3"/><circle cx="715.5" cy="285.9" r="3.3"/><circle cx="715.1" cy="282.3" r="3.3"/><circle cx="714.8" cy="281.4" r="3.3"/><circle cx="705.9" cy="302.9" r="3.3"/><circle cx="699.2" cy="301.7" r="3.3"/><circle cx="710.9" cy="280.1" r="3.3"/><circle cx="709.7" cy="277.6" r="3.3"/><circle cx="699.8" cy="295.2" r="3.3"/><circle cx="707.5" cy="298.1" r="3.3"/><circle cx="699.9" cy="290.1" r="3.3"/><circle cx="707.6" cy="289.9" r="3.3"/><circle cx="711.5" cy="269.6" r="3.3"/><circle cx="709" cy="269.7" r="3.3"/><circle cx="715.3" cy="305.7" r="3.3"/><circle cx="721.4" cy="304.3" r="3.3"/><circle cx="704.3" cy="269.7" r="3.3"/><circle cx="721.2" cy="299.8" r="3.3"/><circle cx="716.3" cy="289.6" r="3.3"/><circle cx="704.8" cy="286.8" r="3.3"/><circle cx="714.7" cy="276.3" r="3.3"/><circle cx="708.8" cy="299.4" r="3.3"/><circle cx="725.7" cy="299" r="3.3"/><circle cx="703.4" cy="274.3" r="3.3"/><circle cx="703.1" cy="285" r="3.3"/><circle cx="710.5" cy="297" r="3.3"/><circle cx="708.9" cy="284.7" r="3.3"/><circle cx="717.7" cy="293.4" r="3.3"/><circle cx="703.3" cy="288.7" r="3.3"/><circle cx="708.5" cy="281.5" r="3.3"/><circle cx="698.8" cy="299.5" r="3.3"/><circle cx="707.4" cy="280.7" r="3.3"/><circle cx="720.6" cy="289.6" r="3.3"/><circle cx="703.2" cy="273.1" r="3.3"/><circle cx="705" cy="296.6" r="3.3"/><circle cx="701" cy="297.6" r="3.3"/><circle cx="719" cy="284.9" r="3.3"/><circle cx="723.8" cy="298.4" r="3.3"/><circle cx="727.8" cy="304.4" r="3.3"/><circle cx="701.5" cy="305.7" r="3.3"/><circle cx="717.5" cy="299.6" r="3.3"/><circle cx="724" cy="301.9" r="3.3"/><circle cx="700.3" cy="298.8" r="3.3"/><circle cx="708" cy="295.3" r="3.3"/><circle cx="701.9" cy="276.8" r="3.3"/><circle cx="703.1" cy="277.9" r="3.3"/><circle cx="711.9" cy="288.3" r="3.3"/><circle cx="723.6" cy="299.4" r="3.3"/><circle cx="711.2" cy="293" r="3.3"/><circle cx="699" cy="300.3" r="3.3"/><circle cx="700.9" cy="303.9" r="3.3"/><circle cx="720.9" cy="301.2" r="3.3"/><circle cx="702.1" cy="292.9" r="3.3"/><circle cx="711.1" cy="282.4" r="3.3"/><circle cx="723" cy="302.3" r="3.3"/><circle cx="733.5" cy="328.6" r="3.3"/><circle cx="726.1" cy="391.6" r="3.3"/><circle cx="730.7" cy="339.4" r="3.3"/><circle cx="729.9" cy="304.3" r="3.3"/><circle cx="726.8" cy="405.5" r="3.3"/><circle cx="725.7" cy="296.6" r="3.3"/><circle cx="736.9" cy="328.3" r="3.3"/><circle cx="709.8" cy="431.8" r="3.3"/><circle cx="742.3" cy="306.2" r="3.3"/><circle cx="706.5" cy="443.5" r="3.3"/><circle cx="738.5" cy="364.7" r="3.3"/><circle cx="721.2" cy="411.2" r="3.3"/><circle cx="732.7" cy="332.9" r="3.3"/><circle cx="723.9" cy="394.6" r="3.3"/><circle cx="723.5" cy="391" r="3.3"/><circle cx="703" cy="443.4" r="3.3"/><circle cx="743.6" cy="325.8" r="3.3"/><circle cx="714.2" cy="440.1" r="3.3"/><circle cx="718.8" cy="422.9" r="3.3"/><circle cx="717" cy="419.7" r="3.3"/><circle cx="732" cy="301.7" r="3.3"/><circle cx="719" cy="422.1" r="3.3"/><circle cx="725" cy="296.9" r="3.3"/><circle cx="722.7" cy="405.4" r="3.3"/><circle cx="738.9" cy="360.6" r="3.3"/><circle cx="726.6" cy="395.1" r="3.3"/><circle cx="739" cy="348.1" r="3.3"/><circle cx="734.7" cy="300.7" r="3.3"/><circle cx="726.4" cy="404.3" r="3.3"/><circle cx="735.1" cy="363" r="3.3"/><circle cx="738.8" cy="361.3" r="3.3"/><circle cx="729.1" cy="376.6" r="3.3"/><circle cx="725.8" cy="290.6" r="3.3"/><circle cx="732.3" cy="328.7" r="3.3"/><circle cx="734.4" cy="325" r="3.3"/><circle cx="730.6" cy="399.8" r="3.3"/><circle cx="722.4" cy="396.9" r="3.3"/><circle cx="713.4" cy="427.1" r="3.3"/><circle cx="723.7" cy="405.6" r="3.3"/><circle cx="735.7" cy="346" r="3.3"/><circle cx="730.9" cy="301.3" r="3.3"/><circle cx="729.2" cy="298.5" r="3.3"/><circle cx="711.9" cy="434" r="3.3"/><circle cx="729.8" cy="385.8" r="3.3"/><circle cx="709.6" cy="441.6" r="3.3"/><circle cx="701.7" cy="446.4" r="3.3"/><circle cx="727.5" cy="292.3" r="3.3"/><circle cx="729.9" cy="390.9" r="3.3"/><circle cx="725.2" cy="386.7" r="3.3"/><circle cx="730.2" cy="290.7" r="3.3"/><circle cx="731.8" cy="383.8" r="3.3"/><circle cx="742.3" cy="363" r="3.3"/><circle cx="735.7" cy="352.7" r="3.3"/><circle cx="733.3" cy="341.5" r="3.3"/><circle cx="701" cy="446.8" r="3.3"/><circle cx="683.5" cy="335.7" r="3.3"/><circle cx="689.7" cy="312.6" r="3.3"/><circle cx="684.7" cy="351.4" r="3.3"/><circle cx="681.2" cy="377.7" r="3.3"/><circle cx="667.1" cy="404.3" r="3.3"/><circle cx="649.6" cy="427.1" r="3.3"/><circle cx="683.3" cy="369" r="3.3"/><circle cx="695.6" cy="301.9" r="3.3"/><circle cx="663.2" cy="416.4" r="3.3"/><circle cx="682.8" cy="363.5" r="3.3"/><circle cx="684.5" cy="334.6" r="3.3"/><circle cx="691.4" cy="308.5" r="3.3"/><circle cx="682.3" cy="337" r="3.3"/><circle cx="665.5" cy="400.1" r="3.3"/><circle cx="678.4" cy="377.3" r="3.3"/><circle cx="671.1" cy="396.3" r="3.3"/><circle cx="686.9" cy="317" r="3.3"/><circle cx="667.6" cy="400.8" r="3.3"/><circle cx="681.3" cy="373.7" r="3.3"/><circle cx="681.7" cy="378.6" r="3.3"/><circle cx="746.5" cy="290.2" r="3.3"/><circle cx="734.6" cy="298.7" r="3.3"/><circle cx="736.5" cy="282.3" r="3.3"/><circle cx="741.4" cy="285.7" r="3.3"/><circle cx="733.7" cy="286.4" r="3.3"/><circle cx="740.3" cy="286.8" r="3.3"/><circle cx="741.3" cy="297.3" r="3.3"/><circle cx="746.8" cy="297" r="3.3"/><circle cx="745.7" cy="285.6" r="3.3"/><circle cx="744" cy="282.6" r="3.3"/><circle cx="739.9" cy="282.4" r="3.3"/><circle cx="731.7" cy="298.1" r="3.3"/><circle cx="732.2" cy="293.9" r="3.3"/><circle cx="739" cy="281" r="3.3"/><circle cx="743.5" cy="282.1" r="3.3"/><circle cx="745.1" cy="295.7" r="3.3"/><circle cx="743.5" cy="305.4" r="3.3"/><circle cx="738.3" cy="308.4" r="3.3"/><circle cx="738.4" cy="306.3" r="3.3"/><circle cx="748.2" cy="308.1" r="3.3"/><circle cx="739.3" cy="308.7" r="3.3"/><circle cx="745.7" cy="304" r="3.3"/><circle cx="746.5" cy="306.9" r="3.3"/><circle cx="752.8" cy="64.8" r="3.3"/><circle cx="729.3" cy="96.5" r="3.3"/><circle cx="795.5" cy="112.8" r="3.3"/><circle cx="719" cy="134.7" r="3.3"/><circle cx="734.4" cy="153.9" r="3.3"/><circle cx="769.1" cy="156.2" r="3.3"/><circle cx="695.8" cy="157.6" r="3.3"/><circle cx="691.2" cy="164" r="3.3"/><circle cx="761.9" cy="163.2" r="3.3"/><circle cx="745.1" cy="164.5" r="3.3"/><circle cx="745.4" cy="168" r="3.3"/><circle cx="723.5" cy="175.4" r="3.3"/><circle cx="740.3" cy="185.6" r="3.3"/><circle cx="692.5" cy="189.6" r="3.3"/><circle cx="701.6" cy="190.4" r="3.3"/><circle cx="701.1" cy="194.4" r="3.3"/><circle cx="744.8" cy="190.9" r="3.3"/><circle cx="750.7" cy="192.3" r="3.3"/><circle cx="761.3" cy="191.8" r="3.3"/><circle cx="714.6" cy="197.1" r="3.3"/><circle cx="784.8" cy="198.7" r="3.3"/><circle cx="709.3" cy="204" r="3.3"/><circle cx="798.6" cy="207.8" r="3.3"/><circle cx="822.4" cy="192.3" r="3.3"/><circle cx="924" cy="186.7" r="3.3"/><circle cx="842.4" cy="217" r="3.3"/><circle cx="747.5" cy="211.7" r="3.3"/><circle cx="742.7" cy="217.3" r="3.3"/><circle cx="718.4" cy="219.4" r="3.3"/><circle cx="807" cy="221.3" r="3.3"/><circle cx="768" cy="222.7" r="3.3"/><circle cx="732.2" cy="225.4" r="3.3"/><circle cx="713.9" cy="231.2" r="3.3"/><circle cx="725.9" cy="233.3" r="3.3"/><circle cx="709.1" cy="236.3" r="3.3"/><circle cx="693.4" cy="241.3" r="3.3"/><circle cx="705.3" cy="242.9" r="3.3"/><circle cx="709.6" cy="245.6" r="3.3"/><circle cx="716" cy="245.6" r="3.3"/><circle cx="713.6" cy="249.3" r="3.3"/><circle cx="729.9" cy="244.5" r="3.3"/><circle cx="748.3" cy="243.2" r="3.3"/><circle cx="754.9" cy="243.2" r="3.3"/><circle cx="763.7" cy="246.4" r="3.3"/><circle cx="696.8" cy="252.8" r="3.3"/><circle cx="722.4" cy="253.4" r="3.3"/><circle cx="776.5" cy="254.1" r="3.3"/><circle cx="694.1" cy="258.4" r="3.3"/><circle cx="708.5" cy="258.9" r="3.3"/><circle cx="740" cy="257.1" r="3.3"/><circle cx="742.4" cy="260" r="3.3"/><circle cx="745.6" cy="263.2" r="3.3"/><circle cx="756.8" cy="261.3" r="3.3"/><circle cx="704.8" cy="264.5" r="3.3"/><circle cx="712.8" cy="265.6" r="3.3"/><circle cx="778.1" cy="268.8" r="3.3"/><circle cx="709.6" cy="270.4" r="3.3"/><circle cx="729.9" cy="270.7" r="3.3"/><circle cx="742.9" cy="271.2" r="3.3"/><circle cx="750.4" cy="270.7" r="3.3"/><circle cx="695.7" cy="276" r="3.3"/><circle cx="721.3" cy="274.4" r="3.3"/><circle cx="782.1" cy="286.4" r="3.3"/><circle cx="780.3" cy="304.7" r="3.3"/><circle cx="756.8" cy="305.7" r="3.3"/><circle cx="764.5" cy="310.5" r="3.3"/><circle cx="770.7" cy="311.3" r="3.3"/><circle cx="763.5" cy="321.5" r="3.3"/><circle cx="746.4" cy="323.9" r="3.3"/><circle cx="740" cy="332.6" r="3.3"/><circle cx="753.4" cy="332.6" r="3.3"/><circle cx="750.4" cy="342.5" r="3.3"/><circle cx="757.3" cy="343.6" r="3.3"/><circle cx="823.2" cy="332.1" r="3.3"/><circle cx="808.8" cy="348.4" r="3.3"/><circle cx="836" cy="359.6" r="3.3"/><circle cx="754.4" cy="358.6" r="3.3"/><circle cx="782.1" cy="366.3" r="3.3"/><circle cx="789.9" cy="369.2" r="3.3"/><circle cx="739.2" cy="375.6" r="3.3"/><circle cx="751.5" cy="378" r="3.3"/><circle cx="805.9" cy="380.9" r="3.3"/><circle cx="813.6" cy="389.2" r="3.3"/><circle cx="771.7" cy="394.5" r="3.3"/><circle cx="768" cy="399.6" r="3.3"/><circle cx="767.5" cy="404.4" r="3.3"/><circle cx="745" cy="402.3" r="3.3"/><circle cx="753.9" cy="403.6" r="3.3"/><circle cx="740" cy="394" r="3.3"/><circle cx="732" cy="386" r="3.3"/><circle cx="736.8" cy="387.6" r="3.3"/><circle cx="741.6" cy="388.9" r="3.3"/><circle cx="728.8" cy="390" r="3.3"/><circle cx="768.8" cy="435.9" r="3.3"/><circle cx="744.6" cy="441.2" r="3.3"/><circle cx="733.6" cy="426.8" r="3.3"/><circle cx="736" cy="432.1" r="3.3"/><circle cx="723.2" cy="423.6" r="3.3"/><circle cx="725.6" cy="417.2" r="3.3"/><circle cx="728.8" cy="403.6" r="3.3"/><circle cx="724" cy="439.6" r="3.3"/><circle cx="718.4" cy="451.3" r="3.3"/><circle cx="712" cy="446" r="3.3"/><circle cx="704.8" cy="447.6" r="3.3"/><circle cx="467.7" cy="396.9" r="3.3"/><circle cx="527.2" cy="400.7" r="3.3"/><circle cx="530.4" cy="405.5" r="3.3"/><circle cx="611.5" cy="327.9" r="3.3"/><circle cx="595.2" cy="364.9" r="3.3"/><circle cx="624.8" cy="366" r="3.3"/><circle cx="637.6" cy="365.2" r="3.3"/><circle cx="611.2" cy="373.2" r="3.3"/><circle cx="670.7" cy="364.4" r="3.3"/><circle cx="660" cy="374.8" r="3.3"/><circle cx="642.4" cy="382" r="3.3"/><circle cx="617.9" cy="386.8" r="3.3"/><circle cx="646.4" cy="391.3" r="3.3"/><circle cx="636" cy="395.3" r="3.3"/><circle cx="637.6" cy="400.4" r="3.3"/><circle cx="594.4" cy="407.3" r="3.3"/><circle cx="613.6" cy="405.5" r="3.3"/><circle cx="606.4" cy="409.7" r="3.3"/><circle cx="609.6" cy="413.5" r="3.3"/><circle cx="622.4" cy="408.4" r="3.3"/><circle cx="627.2" cy="409.2" r="3.3"/><circle cx="631.2" cy="413.2" r="3.3"/><circle cx="629.6" cy="417.2" r="3.3"/><circle cx="640" cy="409.2" r="3.3"/><circle cx="643.2" cy="413.2" r="3.3"/><circle cx="646.4" cy="417.2" r="3.3"/><circle cx="652.8" cy="411.6" r="3.3"/><circle cx="639.2" cy="419.1" r="3.3"/><circle cx="656" cy="418.8" r="3.3"/><circle cx="575.2" cy="423.6" r="3.3"/><circle cx="575.7" cy="427.9" r="3.3"/><circle cx="565.1" cy="433.7" r="3.3"/><circle cx="596" cy="427.3" r="3.3"/><circle cx="597.6" cy="433.2" r="3.3"/><circle cx="608" cy="425.2" r="3.3"/><circle cx="610.4" cy="430" r="3.3"/><circle cx="619.2" cy="423.6" r="3.3"/><circle cx="614.4" cy="427.6" r="3.3"/><circle cx="643.2" cy="425.2" r="3.3"/><circle cx="604.8" cy="436.4" r="3.3"/><circle cx="606.4" cy="439.6" r="3.3"/><circle cx="589.3" cy="441.2" r="3.3"/><circle cx="603.2" cy="444.4" r="3.3"/><circle cx="605.6" cy="451.6" r="3.3"/><circle cx="569.9" cy="451.1" r="3.3"/><circle cx="620.8" cy="432.4" r="3.3"/><circle cx="624" cy="436.4" r="3.3"/><circle cx="616" cy="448.4" r="3.3"/></g>
<circle cx="834.1" cy="257.1" r="2.6" fill="#4A6FB5"/>
<circle cx="822.4" cy="277.3" r="2.8" fill="#4A6FB5"/>
<g fill="#BEBEBE"><circle cx="618" cy="453.5" r="4"/><circle cx="618.9" cy="453.2" r="3.8"/><circle cx="619.9" cy="454.2" r="3.8"/><circle cx="620.8" cy="454" r="3.9"/><circle cx="621.8" cy="453.1" r="3.6"/><circle cx="622.7" cy="454.3" r="4.1"/><circle cx="623.7" cy="454.4" r="4"/><circle cx="624.6" cy="452.9" r="3.7"/><circle cx="625.6" cy="452.9" r="4"/><circle cx="626.5" cy="453.8" r="4.3"/><circle cx="627.4" cy="453.3" r="3.8"/><circle cx="628.4" cy="453.2" r="3.7"/><circle cx="629.3" cy="452.8" r="3.9"/><circle cx="630.3" cy="453.5" r="3.9"/><circle cx="631.2" cy="454.3" r="3.8"/><circle cx="632.2" cy="454.1" r="4"/><circle cx="633.1" cy="453" r="3.6"/><circle cx="634" cy="453.8" r="4.2"/><circle cx="635" cy="452.9" r="4.1"/><circle cx="635.9" cy="453.2" r="4.1"/><circle cx="636.9" cy="454.1" r="4.1"/><circle cx="637.8" cy="453.2" r="3.7"/><circle cx="638.8" cy="454.3" r="4.2"/><circle cx="639.7" cy="454.3" r="4"/><circle cx="640.7" cy="452.9" r="3.9"/><circle cx="641.6" cy="454.3" r="3.6"/><circle cx="642.5" cy="453.3" r="3.6"/><circle cx="643.5" cy="454.2" r="3.8"/><circle cx="644.4" cy="452.9" r="3.8"/><circle cx="645.4" cy="453.1" r="3.9"/><circle cx="646.3" cy="453.8" r="4.1"/><circle cx="647.3" cy="453" r="4"/><circle cx="648.2" cy="452.9" r="3.9"/><circle cx="649.1" cy="454.1" r="3.8"/><circle cx="650.1" cy="454.1" r="3.8"/><circle cx="651" cy="453.4" r="4.2"/><circle cx="652" cy="452.8" r="4"/><circle cx="652.9" cy="453.7" r="4.1"/><circle cx="653.9" cy="454.3" r="4.1"/><circle cx="654.8" cy="453.2" r="3.7"/><circle cx="655.8" cy="453.6" r="3.8"/><circle cx="656.7" cy="453.7" r="3.7"/><circle cx="657.6" cy="453.9" r="3.9"/><circle cx="658.6" cy="452.9" r="3.7"/><circle cx="659.5" cy="454.3" r="4.2"/><circle cx="660.5" cy="454.2" r="3.9"/><circle cx="661.4" cy="454.4" r="3.7"/><circle cx="662.4" cy="454" r="4.3"/><circle cx="663.3" cy="453.1" r="3.6"/><circle cx="664.2" cy="453" r="3.7"/><circle cx="665.2" cy="454.1" r="4"/><circle cx="666.1" cy="453.6" r="3.7"/><circle cx="667.1" cy="453.8" r="3.7"/><circle cx="668" cy="453" r="4"/><circle cx="669" cy="453.8" r="4.2"/><circle cx="669.9" cy="454.1" r="3.7"/><circle cx="670.9" cy="453.3" r="3.7"/><circle cx="671.8" cy="453.6" r="3.6"/><circle cx="672.7" cy="454.2" r="4.1"/><circle cx="673.7" cy="454.1" r="3.9"/><circle cx="674.6" cy="454.3" r="4.2"/><circle cx="675.6" cy="454.1" r="4.2"/><circle cx="676.5" cy="453.1" r="3.8"/><circle cx="677.5" cy="452.9" r="4.1"/><circle cx="678.4" cy="453.6" r="4.3"/><circle cx="679.3" cy="453.3" r="3.9"/><circle cx="680.3" cy="454.2" r="4.3"/><circle cx="681.2" cy="454" r="4.2"/><circle cx="682.2" cy="454.3" r="3.8"/><circle cx="683.1" cy="453.8" r="3.6"/><circle cx="684.1" cy="453.9" r="4.3"/><circle cx="685" cy="453.6" r="3.7"/><circle cx="686" cy="453.7" r="3.6"/><circle cx="686.9" cy="453.5" r="3.7"/><circle cx="687.8" cy="453.5" r="4.2"/><circle cx="688.8" cy="454" r="4.2"/><circle cx="689.7" cy="453.5" r="3.9"/><circle cx="690.7" cy="452.9" r="4.2"/><circle cx="691.6" cy="453.7" r="3.9"/><circle cx="692.6" cy="453" r="3.9"/><circle cx="693.5" cy="452.9" r="3.7"/><circle cx="694.4" cy="452.9" r="3.9"/><circle cx="695.4" cy="453" r="4.2"/><circle cx="696.3" cy="453.8" r="4.2"/><circle cx="697.3" cy="453.7" r="3.7"/><circle cx="698.2" cy="453.2" r="4.2"/><circle cx="699.2" cy="453.7" r="4.1"/><circle cx="700.1" cy="453.8" r="3.6"/><circle cx="701.1" cy="453.1" r="3.9"/><circle cx="702" cy="454.2" r="4.3"/><circle cx="562.4" cy="454.5" r="3.4"/><circle cx="588.3" cy="453.2" r="3.4"/><circle cx="699.2" cy="453.2" r="3.4"/><circle cx="709.1" cy="453.5" r="3.4"/><circle cx="753.6" cy="452.4" r="3.4"/><circle cx="795.2" cy="452.9" r="3.4"/></g>
<line x1="818.4" y1="183.5" x2="822.4" y2="191.2" stroke="#000" stroke-width="1.6" stroke-linecap="round"/>
<line x1="917.6" y1="180.8" x2="923.2" y2="186.4" stroke="#000" stroke-width="1.6" stroke-linecap="round"/>
<line x1="849.3" y1="207.5" x2="841.6" y2="216.8" stroke="#000" stroke-width="1.6" stroke-linecap="round"/>
<line x1="838.4" y1="251.2" x2="832.8" y2="256.8" stroke="#000" stroke-width="1.6" stroke-linecap="round"/>
<line x1="814.4" y1="265.6" x2="828.5" y2="288.8" stroke="#000" stroke-width="1.6" stroke-linecap="round"/>
<line x1="818.4" y1="327.9" x2="823.2" y2="332.1" stroke="#000" stroke-width="1.6" stroke-linecap="round"/>
<line x1="835.2" y1="360.1" x2="843.2" y2="371.9" stroke="#000" stroke-width="1.6" stroke-linecap="round"/>
<line x1="814.4" y1="389.2" x2="826.1" y2="396.1" stroke="#000" stroke-width="1.6" stroke-linecap="round"/>
<line x1="603.2" y1="318.8" x2="594.1" y2="407.6" stroke="#000" stroke-width="1.6" stroke-linecap="round"/>
<line x1="643.2" y1="350.8" x2="591.5" y2="442" stroke="#000" stroke-width="1.6" stroke-linecap="round"/>
<line x1="591.5" y1="442" x2="616.5" y2="456.4" stroke="#000" stroke-width="1.6" stroke-linecap="round"/>
<line x1="575.7" y1="367.6" x2="575.2" y2="427.6" stroke="#000" stroke-width="1.6" stroke-linecap="round"/>
<line x1="572.5" y1="413.2" x2="575.2" y2="427.6" stroke="#000" stroke-width="1.6" stroke-linecap="round"/>
<line x1="518.7" y1="391.6" x2="527.2" y2="402" stroke="#000" stroke-width="1.6" stroke-linecap="round"/>
<line x1="467.2" y1="396.9" x2="470.7" y2="403.6" stroke="#000" stroke-width="1.6" stroke-linecap="round"/>
<line x1="529.9" y1="406" x2="528.2" y2="427.6" stroke="#000" stroke-width="1.6" stroke-linecap="round"/>
<line x1="551.5" y1="456.9" x2="565.1" y2="434" stroke="#000" stroke-width="1.6" stroke-linecap="round"/>
<text x="796" y="182.4" font-size="20" fill="#4272B8">FABP5</text>
<text x="892.8" y="175.2" font-size="20" fill="#4272B8">MMP12</text>
<text x="845.1" y="201.6" font-size="20" fill="#4272B8">KRT10</text>
<text x="828.8" y="246.9" font-size="20" fill="#4272B8">TNFSF10</text>
<text x="777.9" y="262.4" font-size="20" fill="#4272B8">MMP1</text>
<text x="832.8" y="294.5" font-size="20" fill="#4272B8">CTSC</text>
<text x="801.9" y="322.8" font-size="20" fill="#4272B8">KRT15</text>
<text x="764" y="350" font-size="20" fill="#4272B8">SLURP2</text>
<text x="838" y="381.5" font-size="20" fill="#4272B8">IGFL1</text>
<text x="817.3" y="411.6" font-size="20" fill="#4272B8">APOE</text>
<text x="576" y="314.8" font-size="20" fill="#30B065">IGLV1−40</text>
<text x="602.4" y="348.1" font-size="20" fill="#30B065">COL1A2</text>
<text x="530.9" y="360.4" font-size="20" fill="#30B065">IGHG1</text>
<text x="469.6" y="386.8" font-size="20" fill="#30B065">NDUFA4L2</text>
<text x="450.9" y="418.5" font-size="20" fill="#30B065">IGLV2-4</text>
<text x="461.1" y="439.6" font-size="20" fill="#30B065">IGLV2−14</text>
<text x="526.1" y="472.4" font-size="20" fill="#30B065">VCP</text>
<text x="604" y="475.6" font-size="20" fill="#30B065">CCL5</text>
<rect x="1289.9" y="71.7" width="238.7" height="17.6" fill="#30B065"/>
<text x="1175.6" y="88.6" font-size="20.2" textLength="109.1" lengthAdjust="spacing">Perioxisome</text>
<rect x="1289.9" y="91.1" width="222.3" height="17.6" fill="#30B065"/>
<text x="1053.5" y="105.9" font-size="20.2" textLength="232.9" lengthAdjust="spacing">Oxidative Phosphorylation</text>
<rect x="1289.9" y="110.5" width="213.9" height="17.6" fill="#30B065"/>
<text x="1167.7" y="126.3" font-size="20.2" textLength="117" lengthAdjust="spacing">P53 Pathway</text>
<rect x="1289.9" y="129.9" width="147.7" height="17.6" fill="#00A664"/>
<text x="1137.7" y="146.7" font-size="20.2" textLength="146.2" lengthAdjust="spacing">MYC Targets V1</text>
<rect x="1289.9" y="149.3" width="132.7" height="17.6" fill="#30B065"/>
<text x="970.5" y="163.7" font-size="20.2" textLength="312.5" lengthAdjust="spacing">Reactive Oxygen Species Pathway</text>
<rect x="1289.9" y="168.6" width="126" height="17.6" fill="#30B065"/>
<text x="1161" y="182.7" font-size="20.2" textLength="122.9" lengthAdjust="spacing">UV Response</text>
<rect x="1289.9" y="188" width="83" height="17.6" fill="#30B065"/>
<text x="1037.4" y="201.6" font-size="20.2" textLength="246.5" lengthAdjust="spacing">Unfolded Protein Response</text>
<rect x="1209" y="207.4" width="80.9" height="17.6" fill="#4272B8"/>
<text x="1297.2" y="223.1" font-size="20.2" textLength="238" lengthAdjust="spacing">Interferon Alpha Response</text>
<rect x="1105.8" y="226.8" width="184.1" height="17.6" fill="#4272B8"/>
<text x="1296.9" y="242.3" font-size="20.2" textLength="242.6" lengthAdjust="spacing">PI3K-AKT-mTOR Signaling</text>
<rect x="1102" y="246.2" width="187.9" height="17.6" fill="#4272B8"/>
<text x="1297.5" y="261.1" font-size="20.2" textLength="174.8" lengthAdjust="spacing">KRAS Signaling-Up</text>
<rect x="1100.6" y="265.6" width="189.3" height="17.6" fill="#4272B8"/>
<text x="1296.9" y="282" font-size="20.2" textLength="89.6" lengthAdjust="spacing">Glycolysis</text>
<rect x="1097.8" y="285" width="192.1" height="17.6" fill="#4272B8"/>
<text x="1297.2" y="302.2" font-size="20.2" textLength="258.4" lengthAdjust="spacing">Interferon Gamma Response</text>
<rect x="1096.7" y="304.4" width="193.2" height="17.6" fill="#4272B8"/>
<text x="1293.8" y="321.1" font-size="20.2" textLength="238.9" lengthAdjust="spacing">TNFα Signaling Via NF-KB</text>
<rect x="1085.9" y="323.8" width="204" height="17.6" fill="#4272B8"/>
<text x="1297.2" y="340.1" font-size="20.2" textLength="184.5" lengthAdjust="spacing">IL2-STAT5 Signaling</text>
<rect x="1084.8" y="343.2" width="205.1" height="17.6" fill="#4272B8"/>
<text x="1297.5" y="361" font-size="20.2" textLength="107.1" lengthAdjust="spacing">DNA Repair</text>
<rect x="1081" y="362.6" width="208.9" height="17.6" fill="#4272B8"/>
<text x="1297.5" y="379.7" font-size="20.2" textLength="88.1" lengthAdjust="spacing">Apoptosis</text>
<rect x="1079.9" y="381.9" width="210" height="17.6" fill="#4272B8"/>
<text x="1297.2" y="397.9" font-size="20.2" textLength="211.2" lengthAdjust="spacing">Inflammatory Response</text>
<rect x="1073.3" y="401.3" width="216.6" height="17.6" fill="#4272B8"/>
<text x="1297.4" y="416.2" font-size="20.2" textLength="133.6" lengthAdjust="spacing">Apical Junction</text>
<rect x="1056.5" y="420.7" width="233.4" height="17.6" fill="#4272B8"/>
<text x="1297.4" y="434.4" font-size="20.2" textLength="129.4" lengthAdjust="spacing">Apical Surface</text>
<rect x="1054.4" y="440.1" width="235.5" height="17.6" fill="#4272B8"/>
<text x="1297.4" y="455.7" font-size="20.2" textLength="173.4" lengthAdjust="spacing">mTORC1 Signaling</text>
<rect x="1018" y="459.5" width="271.9" height="17.6" fill="#4272B8"/>
<text x="1297.4" y="474" font-size="20.2" textLength="149.2" lengthAdjust="spacing">G2M Checkpoint</text>
<line x1="1145.1" y1="480.2" x2="1145.1" y2="483.8" stroke="#222" stroke-width="1.1"/>
<text x="1146.8" y="500.6" font-size="20" text-anchor="middle">−10</text>
<line x1="1289.9" y1="480.2" x2="1289.9" y2="483.8" stroke="#222" stroke-width="1.1"/>
<text x="1291.6" y="500.6" font-size="20" text-anchor="middle">0</text>
<line x1="1434.9" y1="480.2" x2="1434.9" y2="483.8" stroke="#222" stroke-width="1.1"/>
<text x="1436.6" y="500.6" font-size="20" text-anchor="middle">10</text>
<text x="1267.2" y="522.6" font-size="23.3" textLength="63.8" lengthAdjust="spacing">tvalue</text>
<text x="1210.7" y="535.5" font-size="23.3" text-anchor="end" font-weight="bold" fill="#4272B8">Astage up</text>
<text x="1385.4" y="535.8" font-size="23.3" font-weight="bold" fill="#30B065" textLength="118.3" lengthAdjust="spacing">R stage up</text>
<text x="1593" y="34" font-size="39">D.</text>
<line x1="1679.4" y1="179.8" x2="1684" y2="179.8" stroke="#000" stroke-width="1.5"/>
<text x="1673.4" y="186" font-size="20" text-anchor="end">0.50</text>
<line x1="1679.4" y1="273.4" x2="1684" y2="273.4" stroke="#000" stroke-width="1.5"/>
<text x="1673.4" y="279.6" font-size="20" text-anchor="end">0.25</text>
<line x1="1679.4" y1="367.2" x2="1684" y2="367.2" stroke="#000" stroke-width="1.5"/>
<text x="1673.4" y="373.4" font-size="20" text-anchor="end">0.00</text>
<line x1="1756.2" y1="435.1" x2="1756.2" y2="439.7" stroke="#000" stroke-width="1.5"/>
<text x="1756.2" y="457.7" font-size="20" text-anchor="middle">A</text>
<path d="M1684 96V435.1H1952" fill="none" stroke="#000" stroke-width="1.9"/>
<line x1="1878.8" y1="435.1" x2="1878.8" y2="439.7" stroke="#000" stroke-width="1.5"/>
<text x="1881.5" y="457.7" font-size="20" text-anchor="middle">R</text>
<text font-size="23.3" text-anchor="middle" transform="translate(1622 260.6) rotate(-90)">Cell proliferation</text>
<text x="1819.7" y="106.9" font-size="20.3" text-anchor="middle">p &lt; 2.22e−16</text>
<line x1="1758" y1="116" x2="1878" y2="116" stroke="#000" stroke-width="2"/>
<rect x="1753.6" y="115.3" width="2" height="1.3" fill="#222"/>
<path d="M1757.5 125C1757.7 130 1757.8 135 1758 140C1758.2 146.7 1758.6 153.3 1758.8 160C1759 166.3 1759.2 172.7 1759.2 179C1759.4 191 1759.4 203 1759.6 215C1759.7 220.7 1759.9 226.3 1760 232C1760.2 242 1760.4 252 1760.4 262C1760.4 264.7 1760 267.3 1760 270C1760 275 1760.6 280 1761 285C1761.5 290 1762.1 295 1762.7 300C1763.3 305 1763.7 310 1764.8 315C1765.3 317.5 1766.4 320 1767.5 322.5C1768.6 325 1770.1 327.5 1771.5 330C1773 332.5 1774.3 335 1776.5 337.5C1778.7 340 1782 342.5 1786.2 345C1789.6 347 1795.6 349 1800.5 351C1802.9 352 1806.1 353 1808 354C1809.6 354.8 1812 355.7 1812 356.5C1812 357.4 1809.3 358.3 1807.2 359.2C1804.4 360.5 1798.7 361.7 1794.5 363C1789.4 364.5 1782.7 366 1779.5 367.5C1776.8 368.7 1774.8 370 1773.5 371.2C1772.2 372.5 1771.3 373.7 1770.5 375C1768.8 377.5 1767.5 380 1766.3 382.5C1765.1 385 1763.9 387.5 1763 390C1762.1 392.5 1761.3 395 1760.7 397.5C1760.1 400 1759.7 402.5 1759.2 405C1758.8 407.5 1758.6 410 1758.2 412.5C1758 413.9 1757.7 415.3 1757.4 416.7L1756.6 416.7C1756.3 415.3 1756 413.9 1755.8 412.5C1755.4 410 1755.2 407.5 1754.8 405C1754.3 402.5 1753.9 400 1753.3 397.5C1752.7 395 1751.9 392.5 1751 390C1750.1 387.5 1748.9 385 1747.7 382.5C1746.5 380 1745.2 377.5 1743.5 375C1742.7 373.7 1741.8 372.5 1740.5 371.2C1739.2 370 1737.2 368.7 1734.5 367.5C1731.3 366 1724.6 364.5 1719.5 363C1715.3 361.7 1709.6 360.5 1706.8 359.2C1704.7 358.3 1702 357.4 1702 356.5C1702 355.7 1704.4 354.8 1706 354C1707.9 353 1711.1 352 1713.5 351C1718.4 349 1724.4 347 1727.8 345C1732 342.5 1735.3 340 1737.5 337.5C1739.7 335 1741 332.5 1742.5 330C1743.9 327.5 1745.4 325 1746.5 322.5C1747.6 320 1748.7 317.5 1749.2 315C1750.3 310 1750.7 305 1751.3 300C1751.9 295 1752.5 290 1753 285C1753.4 280 1754 275 1754 270C1754 267.3 1753.6 264.7 1753.6 262C1753.6 252 1753.8 242 1754 232C1754.1 226.3 1754.3 220.7 1754.4 215C1754.6 203 1754.6 191 1754.8 179C1754.8 172.7 1755 166.3 1755.2 160C1755.4 153.3 1755.8 146.7 1756 140C1756.2 135 1756.3 130 1756.5 125Z" fill="#4272B8"/>
<path d="M1879.5 139.3C1879.8 144.5 1880.1 149.8 1880.2 155C1880.3 160 1880.2 165 1880.3 170C1880.4 176.5 1882.8 183 1882.8 189.5C1882.8 196.5 1881.1 203.5 1881.1 210.5C1881.1 217.3 1883.5 224.2 1883.5 231C1883.5 238.2 1882.1 245.3 1882 252.5C1881.9 256.7 1882 260.8 1881.9 265C1881.9 266.7 1881.7 268.3 1881.7 270C1881.7 275 1882.5 280 1882.7 285C1883 290 1883.4 295 1883.5 300C1883.6 305 1883.6 310 1883.8 315C1883.9 317.5 1884.3 320 1884.7 322.5C1885.1 325 1886.1 327.5 1887.2 330C1888.4 332.5 1890.3 335 1892.5 337.5C1894.7 340 1898.6 342.5 1901.5 345C1903.8 347 1906.3 349 1908.2 351C1909.7 352.5 1911.6 354 1912.3 355.5C1913.1 357.2 1913.9 359 1913.9 360.7C1913.9 362.5 1913.3 364.2 1912.7 366C1912.1 368 1909.9 370 1909 372C1908.1 374 1907.6 376 1906.7 378C1905.9 380 1905 382 1903.7 384C1902.5 386 1900.3 388 1898.5 390C1896.3 392.5 1893.7 395 1891.7 397.5C1889.8 400 1888 402.5 1886.5 405C1885 407.5 1883.8 410 1882.7 412.5C1882 414.2 1881.6 416 1880.8 417.7C1880.5 418.4 1880.1 419 1879.7 419.7L1878.3 419.7C1877.9 419 1877.5 418.4 1877.2 417.7C1876.4 416 1876 414.2 1875.3 412.5C1874.2 410 1873 407.5 1871.5 405C1870 402.5 1868.2 400 1866.3 397.5C1864.3 395 1861.7 392.5 1859.5 390C1857.7 388 1855.5 386 1854.3 384C1853 382 1852.1 380 1851.3 378C1850.4 376 1849.9 374 1849 372C1848.1 370 1845.9 368 1845.3 366C1844.7 364.2 1844.1 362.5 1844.1 360.7C1844.1 359 1844.9 357.2 1845.7 355.5C1846.4 354 1848.3 352.5 1849.8 351C1851.7 349 1854.2 347 1856.5 345C1859.4 342.5 1863.3 340 1865.5 337.5C1867.7 335 1869.6 332.5 1870.8 330C1871.9 327.5 1872.9 325 1873.3 322.5C1873.7 320 1874.1 317.5 1874.2 315C1874.4 310 1874.4 305 1874.5 300C1874.6 295 1875 290 1875.3 285C1875.5 280 1876.3 275 1876.3 270C1876.3 268.3 1876.1 266.7 1876.1 265C1876 260.8 1876.1 256.7 1876 252.5C1875.9 245.3 1874.5 238.2 1874.5 231C1874.5 224.2 1876.9 217.3 1876.9 210.5C1876.9 203.5 1875.2 196.5 1875.2 189.5C1875.2 183 1877.6 176.5 1877.7 170C1877.8 165 1877.7 160 1877.8 155C1877.9 149.8 1878.2 144.5 1878.5 139.3Z" fill="#30B065"/>
<text x="11.5" y="522" font-size="39">E.</text>
<text x="71.6" y="523" font-size="23.3" font-weight="bold" textLength="318.4" lengthAdjust="spacing">Glycolysis Gluconeogenesis</text>
<text x="222.6" y="549" font-size="20.1" text-anchor="middle">p&lt;2.0e-16</text>
<line x1="172" y1="552.6" x2="268" y2="552.6" stroke="#000" stroke-width="2"/>
<line x1="118.9" y1="586" x2="122.5" y2="586" stroke="#000" stroke-width="1.3"/>
<text x="114.5" y="593.6" font-size="20" text-anchor="end">0.3</text>
<line x1="118.9" y1="672.6" x2="122.5" y2="672.6" stroke="#000" stroke-width="1.3"/>
<text x="114.5" y="680.2" font-size="20" text-anchor="end">0.2</text>
<line x1="118.9" y1="759.6" x2="122.5" y2="759.6" stroke="#000" stroke-width="1.3"/>
<text x="114.5" y="767.2" font-size="20" text-anchor="end">0.1</text>
<path d="M122.5 565.6V787H312" fill="none" stroke="#000" stroke-width="2"/>
<line x1="172.3" y1="787" x2="172.3" y2="791" stroke="#000" stroke-width="1.8"/>
<text x="173.6" y="813" font-size="20" text-anchor="middle">A</text>
<line x1="268" y1="787" x2="268" y2="791" stroke="#000" stroke-width="1.8"/>
<text x="269.3" y="813" font-size="20" text-anchor="middle">R</text>
<text font-size="23.3" text-anchor="middle" transform="translate(71.4 666) rotate(-90)">Expression level</text>
<path d="M173.8 558C173.8 560.7 174 563.3 174.2 566C174.4 568.7 174.9 571.3 175.8 574C176.4 576 178.3 578 180 580C182.9 583.3 187.7 586.7 192 590C196.3 593.3 201.9 596.7 206 600C209.3 602.7 213.5 605.3 215 608C216.1 609.9 217.2 611.7 217.2 613.6C217.2 615.7 215.5 617.9 214 620C211.6 623.3 203.2 626.7 199 630C194.8 633.3 189.6 636.7 188 640C186.4 643.3 185.3 646.7 185 650C184.4 656.7 184.4 663.3 184 670C183.6 676.7 183.3 683.3 182.6 690C182.3 693.3 181.7 696.7 181 700C180.3 703.3 178.9 706.7 178 710C177.1 713.3 175.8 716.7 175.4 720C175 723.3 174.8 726.7 174.6 730C174.3 736.7 174.1 743.3 174 750C173.8 758 173.7 766 173.6 774L172.4 774C172.3 766 172.2 758 172 750C171.9 743.3 171.7 736.7 171.4 730C171.2 726.7 171 723.3 170.6 720C170.2 716.7 168.9 713.3 168 710C167.1 706.7 165.7 703.3 165 700C164.3 696.7 163.7 693.3 163.4 690C162.7 683.3 162.4 676.7 162 670C161.6 663.3 161.6 656.7 161 650C160.7 646.7 159.6 643.3 158 640C156.4 636.7 151.2 633.3 147 630C142.8 626.7 134.4 623.3 132 620C130.5 617.9 128.8 615.7 128.8 613.6C128.8 611.7 129.9 609.9 131 608C132.5 605.3 136.7 602.7 140 600C144.1 596.7 149.7 593.3 154 590C158.3 586.7 163.1 583.3 166 580C167.7 578 169.6 576 170.2 574C171.1 571.3 171.6 568.7 171.8 566C172 563.3 172.2 560.7 172.2 558Z" fill="#4272B8"/>
<path d="M269 558C269 560 269.2 562 269.4 564C269.6 566 269.9 568 270.4 570C271.2 573.3 274.1 576.7 277 580C279.9 583.3 285.8 586.7 290 590C294.2 593.3 298.8 596.7 302 600C305.2 603.3 308.9 606.7 310 610C311 613 312 616 312 619C312 622.7 309 626.3 307 630C305.2 633.3 301.4 636.7 300 640C298.9 642.7 297.6 645.3 297.6 648C297.6 652 299.9 656 301 660C301.9 663.3 303.1 666.7 303.6 670C304 672.3 304.4 674.7 304.4 677C304.4 681.3 302.7 685.7 301 690C299.7 693.3 296.6 696.7 294 700C291.4 703.3 287.6 706.7 285 710C282.4 713.3 279.7 716.7 278 720C276.3 723.3 275 726.7 274 730C273 733.3 272.2 736.7 271.6 740C271 743.3 270.3 746.7 270 750C269.7 753.3 269.6 756.7 269.4 760C269.2 763.3 269.1 766.7 269 770L267 770C266.9 766.7 266.8 763.3 266.6 760C266.4 756.7 266.3 753.3 266 750C265.7 746.7 265 743.3 264.4 740C263.8 736.7 263 733.3 262 730C261 726.7 259.7 723.3 258 720C256.3 716.7 253.6 713.3 251 710C248.4 706.7 244.6 703.3 242 700C239.4 696.7 236.3 693.3 235 690C233.3 685.7 231.6 681.3 231.6 677C231.6 674.7 232 672.3 232.4 670C232.9 666.7 234.1 663.3 235 660C236.1 656 238.4 652 238.4 648C238.4 645.3 237.1 642.7 236 640C234.6 636.7 230.8 633.3 229 630C227 626.3 224 622.7 224 619C224 616 225 613 226 610C227.1 606.7 230.8 603.3 234 600C237.2 596.7 241.8 593.3 246 590C250.2 586.7 256.1 583.3 259 580C261.9 576.7 264.8 573.3 265.6 570C266.1 568 266.4 566 266.6 564C266.8 562 267 560 267 558Z" fill="#30B065"/>
<text x="83" y="861" font-size="23.3" font-weight="bold" textLength="295.6" lengthAdjust="spacing">Oxidative phosphorylation</text>
<text x="220.6" y="889.4" font-size="20.1" text-anchor="middle">p&lt;2.0e-16</text>
<line x1="175" y1="894" x2="265" y2="894" stroke="#000" stroke-width="2"/>
<line x1="114.6" y1="909.5" x2="118.2" y2="909.5" stroke="#000" stroke-width="1.5"/>
<text x="111.2" y="916.7" font-size="20" text-anchor="end">0.4</text>
<line x1="114.6" y1="964.5" x2="118.2" y2="964.5" stroke="#000" stroke-width="1.5"/>
<text x="111.2" y="971.7" font-size="20" text-anchor="end">0.3</text>
<line x1="114.6" y1="1020" x2="118.2" y2="1020" stroke="#000" stroke-width="1.5"/>
<text x="111.2" y="1027.2" font-size="20" text-anchor="end">0.2</text>
<line x1="114.6" y1="1076" x2="118.2" y2="1076" stroke="#000" stroke-width="1.5"/>
<text x="111.2" y="1083.2" font-size="20" text-anchor="end">0.1</text>
<line x1="114.6" y1="1130.6" x2="118.2" y2="1130.6" stroke="#000" stroke-width="1.5"/>
<text x="111.2" y="1137.8" font-size="20" text-anchor="end">0.0</text>
<path d="M118.2 904V1142H311" fill="none" stroke="#000" stroke-width="2"/>
<line x1="175.4" y1="1142" x2="175.4" y2="1145.4" stroke="#000" stroke-width="1.8"/>
<text x="176.7" y="1164.5" font-size="20" text-anchor="middle">A</text>
<line x1="261.5" y1="1142" x2="261.5" y2="1145.4" stroke="#000" stroke-width="1.8"/>
<text x="264.3" y="1164.5" font-size="20" text-anchor="middle">R</text>
<text font-size="23.3" text-anchor="middle" transform="translate(71.4 1015) rotate(-90)">Expression level</text>
<path d="M177.8 901.6C179.4 904.4 181.3 907.2 183.4 910C185.9 913.3 189.8 916.7 192.4 920C195 923.3 198.1 926.7 199.4 930C200.7 933.3 202 936.7 202 940C202 943.3 200.5 946.7 199.4 950C198.3 953.3 195.7 956.7 194.4 960C193.1 963.3 191.5 966.7 191 970C190.5 973.3 190 976.7 190 980C190 983.3 190 986.7 190 990C190 993.3 190.5 996.7 191 1000C191.5 1003.3 192.7 1006.7 193.4 1010C194.1 1013.3 194.6 1016.7 195.4 1020C196.2 1023.3 197.2 1026.7 198.4 1030C199.7 1033.3 201.5 1036.7 203.4 1040C205.3 1043.3 208.2 1046.7 210.4 1050C212.6 1053.3 215.3 1056.7 216.4 1060C217.6 1063.7 218.8 1067.3 218.8 1071C218.8 1074 217.6 1077 216.4 1080C215.1 1083.3 211.7 1086.7 208.4 1090C205.1 1093.3 199.4 1096.7 195.4 1100C191.4 1103.3 187.4 1106.7 184.4 1110C182.6 1112 180.9 1114 179.8 1116C178.7 1118 177.9 1120 177.4 1122C176.8 1124.3 176.2 1126.7 176 1129L174.8 1129C174.6 1126.7 174 1124.3 173.4 1122C172.9 1120 172.1 1118 171 1116C169.9 1114 168.2 1112 166.4 1110C163.4 1106.7 159.4 1103.3 155.4 1100C151.4 1096.7 145.7 1093.3 142.4 1090C139.1 1086.7 135.7 1083.3 134.4 1080C133.2 1077 132 1074 132 1071C132 1067.3 133.2 1063.7 134.4 1060C135.5 1056.7 138.2 1053.3 140.4 1050C142.6 1046.7 145.5 1043.3 147.4 1040C149.3 1036.7 151.2 1033.3 152.4 1030C153.7 1026.7 154.6 1023.3 155.4 1020C156.2 1016.7 156.7 1013.3 157.4 1010C158.1 1006.7 159.3 1003.3 159.8 1000C160.3 996.7 160.8 993.3 160.8 990C160.8 986.7 160.8 983.3 160.8 980C160.8 976.7 160.3 973.3 159.8 970C159.3 966.7 157.7 963.3 156.4 960C155.1 956.7 152.5 953.3 151.4 950C150.3 946.7 148.8 943.3 148.8 940C148.8 936.7 150.1 933.3 151.4 930C152.7 926.7 155.8 923.3 158.4 920C161 916.7 164.9 913.3 167.4 910C169.5 907.2 171.4 904.4 173 901.6Z" fill="#4272B8"/>
<path d="M270.5 901.4C275 904.3 279.3 907.1 283.5 910C288.4 913.3 294.6 916.7 297.5 920C300.4 923.3 302.8 926.7 303.9 930C304.5 931.7 305.1 933.3 305.1 935C305.1 937.3 303.7 939.7 302.5 942C301.1 944.7 297.9 947.3 295.5 950C292.5 953.3 288.9 956.7 286.5 960C284.1 963.3 281.9 966.7 280.5 970C279.1 973.3 277.9 976.7 277.1 980C276.3 983.3 275.5 986.7 275.1 990C274.8 992.7 274.5 995.3 274.5 998C274.5 1002 276.5 1006 277.5 1010C278.3 1013.3 279.3 1016.7 279.9 1020C280.5 1023.3 281.2 1026.7 281.5 1030C281.8 1033.3 282.1 1036.7 282.1 1040C282.1 1043.3 281.5 1046.7 281.1 1050C280.7 1053.3 280 1056.7 279.5 1060C279 1063.3 278.5 1066.7 277.9 1070C277.3 1073.3 276.7 1076.7 275.9 1080C275.1 1083.3 274.2 1086.7 273.1 1090C272.1 1093.3 270.6 1096.7 269.5 1100C268.4 1103.3 267.5 1106.7 266.5 1110C265.7 1112.7 265.1 1115.3 264.3 1118C264 1118.9 263.8 1119.7 263.5 1120.6L259.5 1120.6C259.2 1119.7 259 1118.9 258.7 1118C257.9 1115.3 257.3 1112.7 256.5 1110C255.5 1106.7 254.6 1103.3 253.5 1100C252.4 1096.7 251 1093.3 249.9 1090C248.8 1086.7 247.9 1083.3 247.1 1080C246.3 1076.7 245.7 1073.3 245.1 1070C244.5 1066.7 244 1063.3 243.5 1060C243 1056.7 242.3 1053.3 241.9 1050C241.5 1046.7 240.9 1043.3 240.9 1040C240.9 1036.7 241.2 1033.3 241.5 1030C241.8 1026.7 242.5 1023.3 243.1 1020C243.7 1016.7 244.7 1013.3 245.5 1010C246.5 1006 248.5 1002 248.5 998C248.5 995.3 248.2 992.7 247.9 990C247.5 986.7 246.7 983.3 245.9 980C245.1 976.7 243.9 973.3 242.5 970C241.1 966.7 238.9 963.3 236.5 960C234.1 956.7 230.5 953.3 227.5 950C225.1 947.3 221.9 944.7 220.5 942C219.3 939.7 217.9 937.3 217.9 935C217.9 933.3 218.5 931.7 219.1 930C220.2 926.7 222.6 923.3 225.5 920C228.4 916.7 234.6 913.3 239.5 910C243.7 907.1 248 904.3 252.5 901.4Z" fill="#30B065"/>
<text x="375.5" y="605.5" font-size="39">F.</text>
<line x1="499.5" y1="691.6" x2="505.2" y2="691.6" stroke="#000" stroke-width="1.6"/>
<text x="493.4" y="699.8" font-size="20" text-anchor="end">CD47</text>
<circle cx="579.2" cy="691.6" r="7.7" fill="#D3D3D3"/>
<circle cx="665.7" cy="691.6" r="10.9" fill="#FF0000"/>
<line x1="499.5" y1="725" x2="505.2" y2="725" stroke="#000" stroke-width="1.6"/>
<text x="495.4" y="734.2" font-size="20" text-anchor="end">TNFRSF14</text>
<circle cx="579.2" cy="725" r="3.5" fill="#D3D3D3"/>
<circle cx="665.7" cy="725" r="5.3" fill="#FF0000"/>
<line x1="499.5" y1="757.4" x2="505.2" y2="757.4" stroke="#000" stroke-width="1.6"/>
<text x="494.4" y="763.6" font-size="20" text-anchor="end">HLA-DQB1</text>
<circle cx="579.2" cy="757.4" r="3.9" fill="#D3D3D3"/>
<circle cx="665.7" cy="757.4" r="7.7" fill="#FF0000"/>
<line x1="499.5" y1="790" x2="505.2" y2="790" stroke="#000" stroke-width="1.6"/>
<text x="491.4" y="797.2" font-size="20" text-anchor="end">HLA-DRB1</text>
<circle cx="579.2" cy="790" r="6" fill="#D3D3D3"/>
<circle cx="665.7" cy="790" r="9.1" fill="#FF0000"/>
<line x1="499.5" y1="823.8" x2="505.2" y2="823.8" stroke="#000" stroke-width="1.6"/>
<text x="492.8" y="830.6" font-size="20" text-anchor="end">HLA-DPB1</text>
<circle cx="579.2" cy="823.8" r="4.9" fill="#D3D3D3"/>
<circle cx="665.7" cy="823.8" r="8.1" fill="#FF0000"/>
<line x1="499.5" y1="855" x2="505.2" y2="855" stroke="#000" stroke-width="1.6"/>
<text x="493" y="861.8" font-size="20" text-anchor="end">HLA-DPA1</text>
<circle cx="579.2" cy="855" r="5.3" fill="#D3D3D3"/>
<circle cx="665.7" cy="855" r="9.1" fill="#FF0000"/>
<line x1="499.5" y1="888.6" x2="505.2" y2="888.6" stroke="#000" stroke-width="1.6"/>
<text x="493.6" y="895.2" font-size="20" text-anchor="end">HLA-DMA</text>
<circle cx="579.2" cy="888.6" r="4.2" fill="#D3D3D3"/>
<circle cx="665.7" cy="888.6" r="7.7" fill="#FF0000"/>
<line x1="499.5" y1="922" x2="505.2" y2="922" stroke="#000" stroke-width="1.6"/>
<text x="491" y="929.8" font-size="20" text-anchor="end">HLA-F</text>
<circle cx="579.2" cy="922" r="7" fill="#FF0000"/>
<circle cx="665.7" cy="922" r="9.1" fill="#D3D3D3"/>
<line x1="499.5" y1="955" x2="505.2" y2="955" stroke="#000" stroke-width="1.6"/>
<text x="492" y="963.8" font-size="20" text-anchor="end">HLA-E</text>
<circle cx="579.2" cy="955" r="10.5" fill="#FF0000"/>
<circle cx="665.7" cy="955" r="11.6" fill="#D3D3D3"/>
<line x1="499.5" y1="988" x2="505.2" y2="988" stroke="#000" stroke-width="1.6"/>
<text x="493.6" y="996.2" font-size="20" text-anchor="end">HLA-C</text>
<circle cx="579.2" cy="988" r="12.3" fill="#FF0000"/>
<circle cx="665.7" cy="988" r="12.7" fill="#D3D3D3"/>
<line x1="499.5" y1="1020.6" x2="505.2" y2="1020.6" stroke="#000" stroke-width="1.6"/>
<text x="492" y="1026.8" font-size="20" text-anchor="end">HLA-B</text>
<circle cx="579.2" cy="1020.6" r="13.2" fill="#FF0000"/>
<circle cx="665.7" cy="1020.6" r="13.7" fill="#D3D3D3"/>
<line x1="499.5" y1="1053.6" x2="505.2" y2="1053.6" stroke="#000" stroke-width="1.6"/>
<text x="492.4" y="1059.8" font-size="20" text-anchor="end">HLA-A</text>
<circle cx="579.2" cy="1053.6" r="12.3" fill="#FF0000"/>
<circle cx="665.7" cy="1053.6" r="12.3" fill="#D3D3D3"/>
<line x1="579.2" y1="1081.3" x2="579.2" y2="1087" stroke="#000" stroke-width="1.6"/>
<text x="580" y="1111" font-size="23" text-anchor="middle">A</text>
<line x1="665.7" y1="1081.3" x2="665.7" y2="1087" stroke="#000" stroke-width="1.6"/>
<text x="666.5" y="1111" font-size="23" text-anchor="middle">R</text>
<rect x="505.2" y="657.4" width="234.1" height="423.9" fill="none" stroke="#000" stroke-width="2"/>
<text x="756" y="713.8" font-size="20">pct.exp</text>
<circle cx="768.2" cy="737.5" r="4.2" fill="#000"/>
<text x="787" y="744.7" font-size="20">20</text>
<circle cx="768.2" cy="766.3" r="7.7" fill="#000"/>
<text x="787" y="773.8" font-size="20">40</text>
<circle cx="768.2" cy="795.5" r="10.2" fill="#000"/>
<text x="787" y="803.9" font-size="20">60</text>
<circle cx="768.2" cy="824.7" r="12.6" fill="#000"/>
<text x="787" y="833.1" font-size="20">80</text>
<text x="756" y="889.6" font-size="20">avg.exp</text>
<defs><linearGradient id="gf" x1="0" y1="0" x2="0" y2="1"><stop offset="0" stop-color="#FF1206"/><stop offset="0.25" stop-color="#FF5C40"/><stop offset="0.5" stop-color="#F88770"/><stop offset="0.75" stop-color="#EBAA9C"/><stop offset="1" stop-color="#D3D3D3"/></linearGradient></defs>
<rect x="759" y="906" width="29.5" height="146" fill="url(#gf)"/>
<line x1="759" y1="938.4" x2="765" y2="938.4" stroke="#fff" stroke-width="1.5"/>
<line x1="782.5" y1="938.4" x2="788.5" y2="938.4" stroke="#fff" stroke-width="1.5"/>
<text x="795" y="945.6" font-size="20">0.4</text>
<line x1="759" y1="976" x2="765" y2="976" stroke="#fff" stroke-width="1.5"/>
<line x1="782.5" y1="976" x2="788.5" y2="976" stroke="#fff" stroke-width="1.5"/>
<text x="795" y="987.2" font-size="20">0.0</text>
<line x1="759" y1="1014" x2="765" y2="1014" stroke="#fff" stroke-width="1.5"/>
<line x1="782.5" y1="1014" x2="788.5" y2="1014" stroke="#fff" stroke-width="1.5"/>
<text x="795" y="1028.2" font-size="20">−0.4</text>
<text x="838.5" y="605" font-size="39">G.</text>
<text x="1013.5" y="603.2" font-size="23.3" text-anchor="middle" font-weight="bold">CD47</text>
<text x="1012.8" y="630.8" font-size="20" text-anchor="middle">p&lt;2.0e-16</text>
<line x1="967.7" y1="635.7" x2="1049.6" y2="635.7" stroke="#000" stroke-width="2"/>
<line x1="968.8" y1="827" x2="968.8" y2="832" stroke="#000" stroke-width="2"/>
<text x="969.7" y="851.3" font-size="20" text-anchor="middle">A</text>
<line x1="1052.2" y1="827" x2="1052.2" y2="832" stroke="#000" stroke-width="2"/>
<text x="1054.2" y="851.3" font-size="20" text-anchor="middle">R</text>
<line x1="919.9" y1="681.6" x2="924.9" y2="681.6" stroke="#000" stroke-width="2"/>
<text x="919.3" y="686.6" font-size="20" text-anchor="end">3</text>
<line x1="919.9" y1="726.9" x2="924.9" y2="726.9" stroke="#000" stroke-width="2"/>
<text x="919.3" y="731.9" font-size="20" text-anchor="end">2</text>
<line x1="919.9" y1="772.1" x2="924.9" y2="772.1" stroke="#000" stroke-width="2"/>
<text x="919.3" y="777.1" font-size="20" text-anchor="end">1</text>
<line x1="919.9" y1="817.5" x2="924.9" y2="817.5" stroke="#000" stroke-width="2"/>
<text x="919.3" y="822.5" font-size="20" text-anchor="end">0</text>
<path d="M924.9 655.2V827H1092.4" fill="none" stroke="#000" stroke-width="2"/>
<text font-size="23.3" text-anchor="middle" transform="translate(900 727) rotate(-90)">Expression Level</text>
<path d="M969 637.7C969 644.4 969.1 651.1 969.2 657.9C969.4 663.7 969.8 669.6 970.1 675.4C970.4 681.3 970.7 687.2 971.2 693C971.6 698.9 972.6 704.7 973.1 710.6C973.6 716.5 974.1 722.3 974.5 728.2C974.9 734 975.3 739.9 975.6 745.7C975.7 750.1 975.9 754.5 975.9 758.9C975.9 763.3 975.4 767.7 975 772.1C974.6 776.2 973.7 780.3 973.1 784.4C972.6 787.3 972 790.3 971.7 793.2C971.5 794.7 971.3 796.1 971.3 797.6C971.3 799.1 973.2 800.5 974.9 802C976.2 803.2 978.6 804.3 981 805.5C983.4 806.7 986.9 807.8 989.8 809C992.7 810.2 995.9 811.4 998.6 812.5C1000.2 813.2 1002 813.9 1003 814.6C1003.8 815.2 1004.9 815.8 1004.9 816.4C1004.9 816.9 1004.9 817.3 1004.9 817.8L932.5 817.8C932.5 817.3 932.5 816.9 932.5 816.4C932.5 815.8 933.6 815.2 934.4 814.6C935.4 813.9 937.2 813.2 938.8 812.5C941.5 811.4 944.7 810.2 947.6 809C950.5 807.8 954 806.7 956.4 805.5C958.8 804.3 961.2 803.2 962.5 802C964.2 800.5 966.1 799.1 966.1 797.6C966.1 796.1 965.9 794.7 965.7 793.2C965.4 790.3 964.8 787.3 964.3 784.4C963.7 780.3 962.8 776.2 962.4 772.1C962 767.7 961.5 763.3 961.5 758.9C961.5 754.5 961.7 750.1 961.8 745.7C962.1 739.9 962.5 734 962.9 728.2C963.3 722.3 963.8 716.5 964.3 710.6C964.8 704.7 965.8 698.9 966.2 693C966.7 687.2 967 681.3 967.3 675.4C967.6 669.6 968 663.7 968.2 657.9C968.3 651.1 968.4 644.4 968.4 637.7Z" fill="#4272B8"/>
<path d="M1050 659.1C1050.1 664.6 1050.3 670 1050.6 675.4C1050.9 681.3 1051.2 687.2 1051.8 693C1052.1 696 1052.7 698.9 1053.6 701.8C1054.4 704.7 1056.1 707.7 1057.6 710.6C1059.1 713.5 1061.3 716.5 1062.9 719.4C1064.5 722.3 1066 725.2 1067.3 728.2C1068.6 731.1 1069.9 734 1070.8 737C1071.7 739.9 1072.7 742.8 1073.1 745.7C1073.3 747.8 1073.6 749.8 1073.6 751.9C1073.6 754.5 1072.9 757.2 1072.2 759.8C1071.5 762.7 1069.7 765.7 1068.2 768.6C1066.6 771.5 1064.6 774.5 1062.9 777.4C1061.1 780.3 1058.9 783.2 1057.6 786.2C1056.7 788.2 1055.7 790.3 1055.5 792.3C1055.4 793.5 1055.3 794.7 1055.3 795.8C1055.3 797.3 1056.5 798.8 1057.6 800.2C1058.9 802 1061.7 803.7 1064.6 805.5C1067.5 807.3 1072.4 809 1076.1 810.8C1078.5 811.9 1081.3 813.1 1083.1 814.3C1084.3 815 1086.1 815.8 1086.1 816.6C1086.1 817 1086.1 817.4 1086.1 817.8L1013.3 817.8C1013.3 817.4 1013.3 817 1013.3 816.6C1013.3 815.8 1015.1 815 1016.3 814.3C1018.1 813.1 1020.9 811.9 1023.3 810.8C1027 809 1031.9 807.3 1034.8 805.5C1037.7 803.7 1040.5 802 1041.8 800.2C1042.9 798.8 1044.1 797.3 1044.1 795.8C1044.1 794.7 1044 793.5 1043.9 792.3C1043.7 790.3 1042.7 788.2 1041.8 786.2C1040.5 783.2 1038.3 780.3 1036.5 777.4C1034.8 774.5 1032.8 771.5 1031.2 768.6C1029.7 765.7 1027.9 762.7 1027.2 759.8C1026.5 757.2 1025.8 754.5 1025.8 751.9C1025.8 749.8 1026.1 747.8 1026.3 745.7C1026.7 742.8 1027.7 739.9 1028.6 737C1029.5 734 1030.8 731.1 1032.1 728.2C1033.4 725.2 1034.9 722.3 1036.5 719.4C1038.1 716.5 1040.3 713.5 1041.8 710.6C1043.3 707.7 1045 704.7 1045.8 701.8C1046.7 698.9 1047.3 696 1047.6 693C1048.2 687.2 1048.5 681.3 1048.8 675.4C1049.1 670 1049.3 664.6 1049.4 659.1Z" fill="#30B065"/>
<text x="1241.6" y="605.8" font-size="23.3" text-anchor="middle" font-weight="bold">HLA−A</text>
<text x="1247.3" y="635.6" font-size="20" text-anchor="middle">p&lt;2.0e-16</text>
<line x1="1200.3" y1="639.5" x2="1280.3" y2="639.5" stroke="#000" stroke-width="2"/>
<line x1="1200.7" y1="826" x2="1200.7" y2="831" stroke="#000" stroke-width="2"/>
<text x="1200.5" y="851" font-size="20" text-anchor="middle">A</text>
<line x1="1281" y1="826" x2="1281" y2="831" stroke="#000" stroke-width="2"/>
<text x="1282" y="851" font-size="20" text-anchor="middle">R</text>
<line x1="1151.4" y1="686" x2="1156.4" y2="686" stroke="#000" stroke-width="2"/>
<text x="1151.6" y="690.4" font-size="20" text-anchor="end">4</text>
<line x1="1151.4" y1="751.5" x2="1156.4" y2="751.5" stroke="#000" stroke-width="2"/>
<text x="1151.6" y="755.9" font-size="20" text-anchor="end">2</text>
<line x1="1151.4" y1="817.3" x2="1156.4" y2="817.3" stroke="#000" stroke-width="2"/>
<text x="1151.6" y="821.7" font-size="20" text-anchor="end">0</text>
<path d="M1156.4 652V826H1320.6" fill="none" stroke="#000" stroke-width="2"/>
<text font-size="23.3" text-anchor="middle" transform="translate(1127.5 731) rotate(-90)">Expression Level</text>
<path d="M1201.1 640C1201.1 644.7 1201.6 649.3 1202.2 654C1203 660.2 1205.2 666.5 1208.2 672.7C1210.9 678.4 1218.5 684 1223.2 689.7C1226.6 693.8 1230.6 697.9 1232.7 702C1234.5 705.4 1236.7 708.8 1236.7 712.2C1236.7 715.5 1235.3 718.7 1234.2 722C1232.5 726.9 1228.4 731.7 1225.7 736.6C1220.8 745.4 1215.6 754.2 1212 763C1209 770.5 1205.4 778 1204.5 785.5C1204.1 788.7 1203.7 791.8 1203.7 795C1203.7 796.7 1205 798.3 1206.2 800C1207.3 801.5 1209.6 802.9 1212 804.4C1216 806.9 1224.2 809.3 1228.7 811.8C1231.6 813.4 1236.3 815 1236.3 816.6C1236.3 817.1 1236.3 817.5 1236.3 818L1165.1 818C1165.1 817.5 1165.1 817.1 1165.1 816.6C1165.1 815 1169.8 813.4 1172.7 811.8C1177.2 809.3 1185.4 806.9 1189.4 804.4C1191.8 802.9 1194.1 801.5 1195.2 800C1196.4 798.3 1197.7 796.7 1197.7 795C1197.7 791.8 1197.3 788.7 1196.9 785.5C1196 778 1192.4 770.5 1189.4 763C1185.8 754.2 1180.6 745.4 1175.7 736.6C1173 731.7 1168.9 726.9 1167.2 722C1166.1 718.7 1164.7 715.5 1164.7 712.2C1164.7 708.8 1166.9 705.4 1168.7 702C1170.8 697.9 1174.8 693.8 1178.2 689.7C1182.9 684 1190.5 678.4 1193.2 672.7C1196.2 666.5 1198.4 660.2 1199.2 654C1199.8 649.3 1200.3 644.7 1200.3 640Z" fill="#4272B8"/>
<path d="M1280.8 651.3C1280.8 657.2 1281.3 663.1 1281.9 669C1282.7 677.8 1285 686.5 1287.9 695.3C1290.4 702.8 1296.1 710.3 1301.1 717.8C1304.3 722.5 1309.2 727.3 1311.9 732C1313.6 735 1316.1 738 1316.1 741C1316.1 744 1314.6 747 1313.4 750C1311.7 754.3 1307.7 758.7 1304.8 763C1299.8 770.5 1292.9 778 1289.8 785.5C1288.5 788.7 1286.8 791.8 1286.8 795C1286.8 797 1287.8 799 1288.9 801C1289.8 802.7 1292.9 804.3 1295.4 806C1299.2 808.6 1305.8 811.1 1309.4 813.7C1310.8 814.7 1313.1 815.8 1313.1 816.8C1313.1 817.2 1313.1 817.6 1313.1 818L1247.7 818C1247.7 817.6 1247.7 817.2 1247.7 816.8C1247.7 815.8 1250 814.7 1251.4 813.7C1255 811.1 1261.6 808.6 1265.4 806C1267.9 804.3 1271 802.7 1271.9 801C1273 799 1274 797 1274 795C1274 791.8 1272.3 788.7 1271 785.5C1267.9 778 1261 770.5 1256 763C1253.1 758.7 1249.1 754.3 1247.4 750C1246.2 747 1244.7 744 1244.7 741C1244.7 738 1247.2 735 1248.9 732C1251.6 727.3 1256.5 722.5 1259.7 717.8C1264.7 710.3 1270.4 702.8 1272.9 695.3C1275.8 686.5 1278.1 677.8 1278.9 669C1279.5 663.1 1280 657.2 1280 651.3Z" fill="#30B065"/>
<text x="1020.3" y="904.5" font-size="23.3" text-anchor="middle" font-weight="bold">HLA−C</text>
<text x="1020.3" y="928.2" font-size="20" text-anchor="middle">p=1.7e-5</text>
<line x1="976" y1="933" x2="1059.7" y2="933" stroke="#000" stroke-width="2"/>
<line x1="976.3" y1="1133.7" x2="976.3" y2="1138.7" stroke="#000" stroke-width="2"/>
<text x="977" y="1157.7" font-size="20" text-anchor="middle">A</text>
<line x1="1059.7" y1="1133.7" x2="1059.7" y2="1138.7" stroke="#000" stroke-width="2"/>
<text x="1061" y="1157.7" font-size="20" text-anchor="middle">R</text>
<line x1="923.2" y1="990" x2="928.2" y2="990" stroke="#000" stroke-width="2"/>
<text x="922.6" y="994.6" font-size="20" text-anchor="end">4</text>
<line x1="923.2" y1="1057.2" x2="928.2" y2="1057.2" stroke="#000" stroke-width="2"/>
<text x="922.6" y="1061.8" font-size="20" text-anchor="end">2</text>
<line x1="923.2" y1="1124.3" x2="928.2" y2="1124.3" stroke="#000" stroke-width="2"/>
<text x="922.6" y="1128.9" font-size="20" text-anchor="end">0</text>
<path d="M928.2 947V1133.7H1100.6" fill="none" stroke="#000" stroke-width="2"/>
<text font-size="23.3" text-anchor="middle" transform="translate(900 1042.8) rotate(-90)">Expression Level</text>
<path d="M976.7 937.6C976.7 943.2 977 948.9 977.4 954.5C977.9 960.8 980.8 967 983.8 973.3C987.4 980.8 996.9 988.3 1002.3 995.8C1005.2 999.9 1008.9 1003.9 1010.3 1008C1011.5 1011.7 1012.8 1015.3 1012.8 1019C1012.8 1022.7 1011.5 1026.3 1010.3 1030C1008.8 1034.9 1004.9 1039.8 1002.3 1044.7C996.9 1054.7 991.1 1064.7 986.3 1074.7C983.9 1079.8 980.3 1084.9 979.5 1090C979 1092.8 978.6 1095.7 978.6 1098.5C978.6 1100.3 979.4 1102.2 980.3 1104C981.1 1105.5 983.6 1107 985.7 1108.5C990.1 1111.7 995.7 1114.8 1002.3 1118C1005.7 1119.6 1014.3 1121.2 1014.3 1122.8C1014.3 1123.4 1014.3 1124.1 1014.3 1124.7L938.3 1124.7C938.3 1124.1 938.3 1123.4 938.3 1122.8C938.3 1121.2 946.9 1119.6 950.3 1118C956.9 1114.8 962.5 1111.7 966.9 1108.5C969 1107 971.5 1105.5 972.3 1104C973.2 1102.2 974 1100.3 974 1098.5C974 1095.7 973.6 1092.8 973.1 1090C972.3 1084.9 968.7 1079.8 966.3 1074.7C961.5 1064.7 955.7 1054.7 950.3 1044.7C947.7 1039.8 943.8 1034.9 942.3 1030C941.1 1026.3 939.8 1022.7 939.8 1019C939.8 1015.3 941.1 1011.7 942.3 1008C943.7 1003.9 947.4 999.9 950.3 995.8C955.7 988.3 965.2 980.8 968.8 973.3C971.8 967 974.7 960.8 975.2 954.5C975.6 948.9 975.9 943.2 975.9 937.6Z" fill="#4272B8"/>
<path d="M1058.7 969.6C1059 972.1 1059.5 974.5 1060.1 977C1061.7 983.3 1065.5 989.5 1069.5 995.8C1073.5 1002.1 1081.2 1008.3 1086.2 1014.6C1088.7 1017.7 1091.7 1020.9 1093.2 1024C1094.6 1026.9 1096.2 1029.7 1096.2 1032.6C1096.2 1035.7 1094.8 1038.9 1093.7 1042C1092.1 1046.7 1089 1051.3 1086.2 1056C1081.4 1064.1 1074 1072.3 1069.5 1080.4C1066.8 1085.3 1063.4 1090.1 1062.6 1095C1062.4 1096.4 1062.1 1097.8 1062.1 1099.2C1062.1 1101.1 1063.5 1103.1 1064.7 1105C1065.8 1106.8 1067.5 1108.6 1069.5 1110.4C1072.7 1113.3 1078.9 1116.1 1082.7 1119C1084.4 1120.3 1087.2 1121.5 1087.2 1122.8C1087.2 1123.4 1087.2 1124.1 1087.2 1124.7L1029.2 1124.7C1029.2 1124.1 1029.2 1123.4 1029.2 1122.8C1029.2 1121.5 1032 1120.3 1033.7 1119C1037.5 1116.1 1043.7 1113.3 1046.9 1110.4C1048.9 1108.6 1050.6 1106.8 1051.7 1105C1052.9 1103.1 1054.3 1101.1 1054.3 1099.2C1054.3 1097.8 1054 1096.4 1053.8 1095C1053 1090.1 1049.6 1085.3 1046.9 1080.4C1042.4 1072.3 1035 1064.1 1030.2 1056C1027.4 1051.3 1024.3 1046.7 1022.7 1042C1021.6 1038.9 1020.2 1035.7 1020.2 1032.6C1020.2 1029.7 1021.8 1026.9 1023.2 1024C1024.7 1020.9 1027.7 1017.7 1030.2 1014.6C1035.2 1008.3 1042.9 1002.1 1046.9 995.8C1050.9 989.5 1054.7 983.3 1056.3 977C1056.9 974.5 1057.4 972.1 1057.7 969.6Z" fill="#30B065"/>
<text x="1249" y="905.6" font-size="23.3" text-anchor="middle" font-weight="bold">HLA−E</text>
<text x="1250" y="926.3" font-size="20" text-anchor="middle">p=0.037</text>
<line x1="1204" y1="930.5" x2="1289" y2="930.5" stroke="#000" stroke-width="2"/>
<line x1="1205.1" y1="1133" x2="1205.1" y2="1136" stroke="#000" stroke-width="1.3"/>
<text x="1206.5" y="1157.7" font-size="20" text-anchor="middle">A</text>
<line x1="1289" y1="1133" x2="1289" y2="1136" stroke="#000" stroke-width="1.3"/>
<text x="1290.4" y="1157.7" font-size="20" text-anchor="middle">R</text>
<line x1="1151.9" y1="956.1" x2="1154.4" y2="956.1" stroke="#000" stroke-width="1.3"/>
<text x="1148.8" y="960.3" font-size="20" text-anchor="end">4</text>
<line x1="1151.9" y1="998" x2="1154.4" y2="998" stroke="#000" stroke-width="1.3"/>
<text x="1148.8" y="1002.2" font-size="20" text-anchor="end">3</text>
<line x1="1151.9" y1="1040.1" x2="1154.4" y2="1040.1" stroke="#000" stroke-width="1.3"/>
<text x="1148.8" y="1044.3" font-size="20" text-anchor="end">2</text>
<line x1="1151.9" y1="1081.8" x2="1154.4" y2="1081.8" stroke="#000" stroke-width="1.3"/>
<text x="1148.8" y="1086" font-size="20" text-anchor="end">1</text>
<line x1="1151.9" y1="1123.4" x2="1154.4" y2="1123.4" stroke="#000" stroke-width="1.3"/>
<text x="1148.8" y="1127.6" font-size="20" text-anchor="end">0</text>
<path d="M1154.4 927.5V1133H1339.6" fill="none" stroke="#000" stroke-width="2"/>
<text font-size="23.3" text-anchor="middle" transform="translate(1129.6 1042.8) rotate(-90)">Expression Level</text>
<path d="M1205.4 937.3C1205.4 941.2 1205.5 945.2 1205.6 949.1C1205.8 954.9 1206.2 960.8 1206.9 966.7C1207.5 972.5 1208.9 978.4 1210.4 984.2C1211.1 987.2 1212.1 990.1 1213 993C1214.8 998.9 1217.2 1004.7 1218.8 1010.6C1220.1 1015.3 1221.8 1020 1222.3 1024.7C1222.7 1028.2 1223 1031.7 1223 1035.2C1223 1038.7 1222.4 1042.2 1221.8 1045.7C1220.8 1051.6 1218.3 1057.5 1216.5 1063.3C1214.8 1069.2 1212.8 1075 1211.3 1080.9C1210.2 1085 1208.7 1089.1 1208.3 1093.2C1208 1095.5 1207.7 1097.9 1207.7 1100.2C1207.7 1102 1209.6 1103.7 1211.3 1105.5C1212.9 1107.3 1216.7 1109 1220 1110.8C1222.8 1112.2 1226.4 1113.7 1229.7 1115.2C1232.3 1116.3 1235.4 1117.5 1237.6 1118.7C1239.5 1119.7 1241.9 1120.7 1242.4 1121.7C1242.6 1122.3 1242.9 1122.8 1242.9 1123.4L1167.3 1123.4C1167.3 1122.8 1167.6 1122.3 1167.8 1121.7C1168.3 1120.7 1170.7 1119.7 1172.6 1118.7C1174.8 1117.5 1177.9 1116.3 1180.5 1115.2C1183.8 1113.7 1187.4 1112.2 1190.2 1110.8C1193.5 1109 1197.3 1107.3 1198.9 1105.5C1200.6 1103.7 1202.5 1102 1202.5 1100.2C1202.5 1097.9 1202.2 1095.5 1201.9 1093.2C1201.5 1089.1 1200 1085 1198.9 1080.9C1197.4 1075 1195.4 1069.2 1193.7 1063.3C1191.9 1057.5 1189.4 1051.6 1188.4 1045.7C1187.8 1042.2 1187.2 1038.7 1187.2 1035.2C1187.2 1031.7 1187.5 1028.2 1187.9 1024.7C1188.4 1020 1190.1 1015.3 1191.4 1010.6C1193 1004.7 1195.4 998.9 1197.2 993C1198.1 990.1 1199.1 987.2 1199.8 984.2C1201.3 978.4 1202.7 972.5 1203.3 966.7C1204 960.8 1204.4 954.9 1204.6 949.1C1204.7 945.2 1204.8 941.2 1204.8 937.3Z" fill="#4272B8"/>
<path d="M1288.9 955.8C1289 959.4 1289.2 963 1289.5 966.7C1289.9 972.5 1290.7 978.4 1291.8 984.2C1292.8 990.1 1294.4 996 1296.5 1001.8C1297.6 1004.7 1299.2 1007.7 1300.9 1010.6C1302.6 1013.5 1304.7 1016.5 1307.1 1019.4C1309.4 1022.3 1312.7 1025.2 1315 1028.2C1317.3 1031.1 1319.7 1034 1321.1 1037C1322.5 1039.9 1323.8 1042.8 1324.3 1045.7C1324.5 1047.5 1324.8 1049.3 1324.8 1051C1324.8 1053.4 1323.8 1055.7 1322.9 1058C1322 1060.4 1320.1 1062.7 1318.5 1065.1C1316.9 1067.4 1315 1069.8 1313.2 1072.1C1310.9 1075 1308.4 1078 1306.2 1080.9C1304 1083.8 1301.6 1086.8 1300 1089.7C1298.8 1092 1297.2 1094.4 1296.9 1096.7C1296.7 1098 1296.5 1099.3 1296.5 1100.6C1296.5 1102.2 1297.9 1103.9 1299.1 1105.5C1300.5 1107.3 1304.2 1109 1307.1 1110.8C1309.5 1112.2 1312.4 1113.7 1315 1115.2C1317 1116.3 1319.3 1117.5 1321.1 1118.7C1322.6 1119.7 1324.5 1120.7 1325.2 1121.7C1325.6 1122.3 1325.9 1122.8 1326 1123.4L1251.2 1123.4C1251.3 1122.8 1251.6 1122.3 1252 1121.7C1252.7 1120.7 1254.6 1119.7 1256.1 1118.7C1257.9 1117.5 1260.2 1116.3 1262.2 1115.2C1264.8 1113.7 1267.7 1112.2 1270.1 1110.8C1273 1109 1276.7 1107.3 1278.1 1105.5C1279.3 1103.9 1280.7 1102.2 1280.7 1100.6C1280.7 1099.3 1280.5 1098 1280.3 1096.7C1280 1094.4 1278.4 1092 1277.2 1089.7C1275.6 1086.8 1273.2 1083.8 1271 1080.9C1268.8 1078 1266.3 1075 1264 1072.1C1262.2 1069.8 1260.3 1067.4 1258.7 1065.1C1257.1 1062.7 1255.2 1060.4 1254.3 1058C1253.4 1055.7 1252.4 1053.4 1252.4 1051C1252.4 1049.3 1252.7 1047.5 1252.9 1045.7C1253.4 1042.8 1254.7 1039.9 1256.1 1037C1257.5 1034 1259.9 1031.1 1262.2 1028.2C1264.5 1025.2 1267.8 1022.3 1270.1 1019.4C1272.5 1016.5 1274.6 1013.5 1276.3 1010.6C1278 1007.7 1279.6 1004.7 1280.7 1001.8C1282.8 996 1284.4 990.1 1285.4 984.2C1286.5 978.4 1287.3 972.5 1287.7 966.7C1288 963 1288.2 959.4 1288.3 955.8Z" fill="#30B065"/>
<text x="1354" y="602.5" font-size="39">H.</text>
<text x="1641" y="613.9" font-size="23.3" text-anchor="middle" font-weight="bold" fill="#4272B8">A</text>
<text x="1773.5" y="613.9" font-size="23.3" text-anchor="middle" font-weight="bold" fill="#30B065">R</text>
<line x1="1573" y1="660.5" x2="1578.4" y2="660.5" stroke="#222" stroke-width="1.6"/>
<text x="1569.8" y="666.8" font-size="20" text-anchor="end" fill="#000">PDCD1</text>
<text x="1437.6" y="666.8" font-size="20" fill="#000" textLength="59.8" lengthAdjust="spacingAndGlyphs">CD274</text>
<line x1="1573" y1="690.3" x2="1578.4" y2="690.3" stroke="#222" stroke-width="1.6"/>
<text x="1568.7" y="696.6" font-size="20" text-anchor="end" fill="#000">CD80</text>
<text x="1437.6" y="696.6" font-size="20" fill="#000" textLength="59.8" lengthAdjust="spacingAndGlyphs">CD274</text>
<line x1="1573" y1="720.1" x2="1578.4" y2="720.1" stroke="#222" stroke-width="1.6"/>
<text x="1569.8" y="726.4" font-size="20" text-anchor="end" fill="#FF0D0D">SIRPA</text>
<text x="1496.2" y="726.4" font-size="20.3" text-anchor="end" fill="#FF0D0D">CD47</text>
<line x1="1573" y1="749.9" x2="1578.4" y2="749.9" stroke="#222" stroke-width="1.6"/>
<text x="1569.8" y="756.2" font-size="20" text-anchor="end" fill="#FF0D0D">SIRPG</text>
<text x="1496.2" y="756.2" font-size="20.3" text-anchor="end" fill="#FF0D0D">CD47</text>
<line x1="1573" y1="779.2" x2="1578.4" y2="779.2" stroke="#222" stroke-width="1.6"/>
<text x="1571" y="785.5" font-size="20" text-anchor="end" fill="#000">CTLA4</text>
<text x="1496.9" y="785.5" font-size="20.3" text-anchor="end" fill="#000">CD86</text>
<line x1="1573" y1="809.5" x2="1578.4" y2="809.5" stroke="#222" stroke-width="1.6"/>
<text x="1568.7" y="815.8" font-size="20" text-anchor="end" fill="#000">CD80</text>
<text x="1497.4" y="815.8" font-size="20.3" text-anchor="end" fill="#000">CTLA4</text>
<line x1="1573" y1="839.3" x2="1578.4" y2="839.3" stroke="#222" stroke-width="1.6"/>
<text x="1568.7" y="845.6" font-size="20" text-anchor="end" fill="#000">CD96</text>
<text x="1502" y="845.6" font-size="20.3" text-anchor="end" fill="#000">NECTIN1</text>
<line x1="1573" y1="869.1" x2="1578.4" y2="869.1" stroke="#222" stroke-width="1.6"/>
<text x="1568" y="875.4" font-size="20" text-anchor="end" fill="#FF0D0D">TIGIT</text>
<text x="1502" y="875.4" font-size="20.3" text-anchor="end" fill="#FF0D0D">NECTIN2</text>
<line x1="1573" y1="898.9" x2="1578.4" y2="898.9" stroke="#222" stroke-width="1.6"/>
<text x="1569.8" y="905.2" font-size="20" text-anchor="end" fill="#000">TIGIT</text>
<text x="1502" y="905.2" font-size="20.3" text-anchor="end" fill="#000">NECTIN3</text>
<line x1="1573" y1="928.7" x2="1578.4" y2="928.7" stroke="#222" stroke-width="1.6"/>
<text x="1569.8" y="935" font-size="20" text-anchor="end" fill="#000">TIGIT</text>
<text x="1497.4" y="935" font-size="20.3" text-anchor="end" fill="#000">PRR3</text>
<line x1="1573" y1="958.5" x2="1578.4" y2="958.5" stroke="#222" stroke-width="1.6"/>
<text x="1568.7" y="964.8" font-size="20" text-anchor="end" fill="#000">CD96</text>
<text x="1495.6" y="964.8" font-size="20.3" text-anchor="end" fill="#000">PVR</text>
<line x1="1573" y1="988.3" x2="1578.4" y2="988.3" stroke="#222" stroke-width="1.6"/>
<text x="1568" y="994.6" font-size="20" text-anchor="end" fill="#FF0D0D">TIGIT</text>
<text x="1495.6" y="994.6" font-size="20.3" text-anchor="end" fill="#FF0D0D">PVR</text>
<line x1="1573" y1="1018.1" x2="1578.4" y2="1018.1" stroke="#222" stroke-width="1.6"/>
<text x="1569.8" y="1024.4" font-size="20" text-anchor="end" fill="#000">BTLA</text>
<text x="1503.8" y="1024.4" font-size="20.3" text-anchor="end" fill="#000">TNFRSF14</text>
<line x1="1610.7" y1="1050.8" x2="1610.7" y2="1054.6" stroke="#222" stroke-width="1.5"/>
<text font-size="20" fill="#4272B8" transform="translate(1617 1240.2) rotate(-90)" textLength="86.3" lengthAdjust="spacing">malignant</text>
<text font-size="20" fill="#4272B8" transform="translate(1617 1148.5) rotate(-90)" textLength="86.7" lengthAdjust="spacing">CD4 Tcell</text>
<line x1="1649.5" y1="1050.8" x2="1649.5" y2="1054.6" stroke="#222" stroke-width="1.5"/>
<text font-size="20" fill="#4272B8" transform="translate(1657.2 1240.2) rotate(-90)" textLength="86.3" lengthAdjust="spacing">malignant</text>
<text font-size="20" fill="#4272B8" transform="translate(1657.2 1148.5) rotate(-90)" textLength="86.7" lengthAdjust="spacing">CD8 Tcell</text>
<line x1="1688.2" y1="1050.8" x2="1688.2" y2="1054.6" stroke="#222" stroke-width="1.5"/>
<text font-size="20" fill="#4272B8" transform="translate(1693 1240.2) rotate(-90)" textLength="86.3" lengthAdjust="spacing">malignant</text>
<text font-size="20" fill="#4272B8" transform="translate(1693 1132.7) rotate(-90)" textLength="67" lengthAdjust="spacing">Myeloid</text>
<line x1="1727.5" y1="1050.8" x2="1727.5" y2="1054.6" stroke="#222" stroke-width="1.5"/>
<text font-size="20" fill="#30B065" transform="translate(1734 1240.2) rotate(-90)" textLength="86.3" lengthAdjust="spacing">malignant</text>
<text font-size="20" fill="#30B065" transform="translate(1734 1148.5) rotate(-90)" textLength="86.7" lengthAdjust="spacing">CD4 Tcell</text>
<line x1="1768.2" y1="1050.8" x2="1768.2" y2="1054.6" stroke="#222" stroke-width="1.5"/>
<text font-size="20" fill="#30B065" transform="translate(1773 1240.2) rotate(-90)" textLength="86.3" lengthAdjust="spacing">malignant</text>
<text font-size="20" fill="#30B065" transform="translate(1773 1148.5) rotate(-90)" textLength="85.5" lengthAdjust="spacing">CD8 Tcell</text>
<line x1="1807" y1="1050.8" x2="1807" y2="1054.6" stroke="#222" stroke-width="1.5"/>
<text font-size="20" fill="#30B065" transform="translate(1813.2 1240.2) rotate(-90)" textLength="86.3" lengthAdjust="spacing">malignant</text>
<text font-size="20" fill="#30B065" transform="translate(1813.2 1130.8) rotate(-90)" textLength="67" lengthAdjust="spacing">Myeloid</text>
<circle cx="1610.5" cy="660.5" r="0.6" fill="#C8C8C8"/>
<circle cx="1650" cy="660.5" r="0.6" fill="#C8C8C8"/>
<circle cx="1687.8" cy="660.5" r="0.6" fill="#C8C8C8"/>
<circle cx="1726.6" cy="660.5" r="0.6" fill="#C8C8C8"/>
<circle cx="1766.9" cy="660.5" r="0.6" fill="#C8C8C8"/>
<circle cx="1811.3" cy="660.5" r="1.5" fill="#B4B4B4"/>
<circle cx="1610.5" cy="690.3" r="0.6" fill="#C8C8C8"/>
<circle cx="1650" cy="690.3" r="0.6" fill="#C8C8C8"/>
<circle cx="1687.8" cy="690.3" r="0.6" fill="#C8C8C8"/>
<circle cx="1726.6" cy="690.3" r="0.6" fill="#C8C8C8"/>
<circle cx="1766.9" cy="690.3" r="0.6" fill="#C8C8C8"/>
<circle cx="1811.3" cy="690.3" r="1.5" fill="#B4B4B4"/>
<circle cx="1610.5" cy="720.1" r="0.6" fill="#C8C8C8"/>
<circle cx="1650" cy="720.1" r="0.6" fill="#C8C8C8"/>
<circle cx="1687.8" cy="719.6" r="12.5" fill="#F4F9FB"/>
<circle cx="1685.3" cy="720.1" r="10.5" fill="#F4F9FB"/>
<path d="M1687.5 709.8A10.5 10.5 0 0 1 1687.5 730.4" fill="none" stroke="#fff" stroke-width="1.1"/>
<circle cx="1726.9" cy="719.6" r="1.5" fill="#B4B4B4"/>
<circle cx="1766.9" cy="720.1" r="0.6" fill="#C8C8C8"/>
<circle cx="1813.1" cy="719.6" r="12.5" fill="#FF9900"/>
<circle cx="1811" cy="720.1" r="10.5" fill="#FF9900"/>
<path d="M1813.2 709.8A10.5 10.5 0 0 1 1813.2 730.4" fill="none" stroke="#fff" stroke-width="1.1"/>
<circle cx="1610.5" cy="749.9" r="10.8" fill="#FEDFB8"/>
<circle cx="1650" cy="749.9" r="10.8" fill="#DDECF3"/>
<circle cx="1688.8" cy="749.9" r="1.5" fill="#B4B4B4"/>
<circle cx="1726.6" cy="749.9" r="10.8" fill="#FF7300"/>
<circle cx="1766.6" cy="749.4" r="12.5" fill="#FDBC6A"/>
<circle cx="1764.4" cy="749.9" r="10.5" fill="#FDBC6A"/>
<path d="M1766.6 739.6A10.5 10.5 0 0 1 1766.6 760.2" fill="none" stroke="#fff" stroke-width="1.1"/>
<circle cx="1809.8" cy="749.9" r="1.5" fill="#B4B4B4"/>
<circle cx="1610.5" cy="779.2" r="0.6" fill="#C8C8C8"/>
<circle cx="1650" cy="779.2" r="0.6" fill="#C8C8C8"/>
<circle cx="1687.8" cy="779.2" r="0.6" fill="#C8C8C8"/>
<circle cx="1726.6" cy="779.2" r="0.6" fill="#C8C8C8"/>
<circle cx="1766.9" cy="779.7" r="1.5" fill="#B4B4B4"/>
<circle cx="1811" cy="778.2" r="1.5" fill="#B4B4B4"/>
<circle cx="1610.5" cy="809.5" r="0.6" fill="#C8C8C8"/>
<circle cx="1650" cy="809.5" r="0.6" fill="#C8C8C8"/>
<circle cx="1687.8" cy="809.5" r="0.6" fill="#C8C8C8"/>
<circle cx="1726.6" cy="809.5" r="0.6" fill="#C8C8C8"/>
<circle cx="1766.9" cy="809.5" r="1.5" fill="#B4B4B4"/>
<circle cx="1811" cy="808.8" r="1.5" fill="#B4B4B4"/>
<circle cx="1610.5" cy="839.3" r="10.8" fill="#A0A8EC"/>
<circle cx="1650" cy="839.3" r="10.8" fill="#FFFBF6"/>
<circle cx="1689.3" cy="837.5" r="1.5" fill="#B4B4B4"/>
<circle cx="1726.6" cy="839.3" r="10.8" fill="#B2D7E8"/>
<circle cx="1766.6" cy="838.8" r="12.5" fill="#FFFCF8"/>
<circle cx="1764.4" cy="839.3" r="10.5" fill="#FFFCF8"/>
<path d="M1766.6 829A10.5 10.5 0 0 1 1766.6 849.6" fill="none" stroke="#fff" stroke-width="1.1"/>
<circle cx="1610.5" cy="869.1" r="10.8" fill="#FDC16F"/>
<circle cx="1650" cy="869.1" r="10.8" fill="#D6E8F1"/>
<circle cx="1689.3" cy="867.5" r="1.5" fill="#B4B4B4"/>
<circle cx="1726.6" cy="869.1" r="10.8" fill="#FF0000"/>
<circle cx="1766.6" cy="868.6" r="12.5" fill="#FFECD6"/>
<circle cx="1764.4" cy="869.1" r="10.5" fill="#FFECD6"/>
<path d="M1766.6 858.8A10.5 10.5 0 0 1 1766.6 879.4" fill="none" stroke="#fff" stroke-width="1.1"/>
<circle cx="1610.5" cy="898.9" r="0.6" fill="#C8C8C8"/>
<circle cx="1650" cy="898.9" r="0.6" fill="#C8C8C8"/>
<circle cx="1687.8" cy="898.9" r="0.6" fill="#C8C8C8"/>
<circle cx="1726.6" cy="898.9" r="0.6" fill="#C8C8C8"/>
<circle cx="1766.9" cy="898.9" r="1.5" fill="#B4B4B4"/>
<circle cx="1807.5" cy="899.3" r="1.5" fill="#B4B4B4"/>
<circle cx="1610.5" cy="928.7" r="0.6" fill="#C8C8C8"/>
<circle cx="1650" cy="928.7" r="0.6" fill="#C8C8C8"/>
<circle cx="1689.3" cy="928.7" r="1.5" fill="#B4B4B4"/>
<circle cx="1726.6" cy="928.7" r="0.6" fill="#C8C8C8"/>
<circle cx="1766.9" cy="928.7" r="1.5" fill="#B4B4B4"/>
<circle cx="1807.5" cy="928.7" r="1.5" fill="#B4B4B4"/>
<circle cx="1610.5" cy="958.5" r="10.8" fill="#4A36F5"/>
<circle cx="1652.5" cy="958" r="12.5" fill="#D6E8F1"/>
<circle cx="1649.4" cy="958.5" r="10.5" fill="#D6E8F1"/>
<path d="M1651.6 948.2A10.5 10.5 0 0 1 1651.6 968.8" fill="none" stroke="#fff" stroke-width="1.1"/>
<circle cx="1688.6" cy="957.5" r="1.5" fill="#B4B4B4"/>
<circle cx="1725.8" cy="958.5" r="10.8" fill="#0000FF"/>
<circle cx="1766.6" cy="958" r="12.5" fill="#A9CCE3"/>
<circle cx="1764.4" cy="958.5" r="10.5" fill="#A9CCE3"/>
<path d="M1766.6 948.2A10.5 10.5 0 0 1 1766.6 968.8" fill="none" stroke="#fff" stroke-width="1.1"/>
<circle cx="1807.1" cy="955.5" r="1.5" fill="#B4B4B4"/>
<circle cx="1610.5" cy="988.3" r="10.8" fill="#FFE6C8"/>
<circle cx="1652.5" cy="987.8" r="12.5" fill="#B2D7E6"/>
<circle cx="1649.4" cy="988.3" r="10.5" fill="#B2D7E6"/>
<path d="M1651.6 978A10.5 10.5 0 0 1 1651.6 998.6" fill="none" stroke="#fff" stroke-width="1.1"/>
<circle cx="1688.6" cy="991.3" r="1.5" fill="#B4B4B4"/>
<circle cx="1725.8" cy="988.3" r="10.8" fill="#FF9000"/>
<circle cx="1766.6" cy="987.8" r="12.5" fill="#CFE4EE"/>
<circle cx="1764.4" cy="988.3" r="10.5" fill="#CFE4EE"/>
<path d="M1766.6 978A10.5 10.5 0 0 1 1766.6 998.6" fill="none" stroke="#fff" stroke-width="1.1"/>
<circle cx="1807.1" cy="985.3" r="1.5" fill="#B4B4B4"/>
<circle cx="1610.5" cy="1018.1" r="0.6" fill="#C8C8C8"/>
<circle cx="1650.2" cy="1017.7" r="1.5" fill="#B4B4B4"/>
<circle cx="1689.3" cy="1017.7" r="1.5" fill="#B4B4B4"/>
<circle cx="1726.6" cy="1018.1" r="0.6" fill="#C8C8C8"/>
<circle cx="1768.5" cy="1018.1" r="1.5" fill="#B4B4B4"/>
<circle cx="1807.5" cy="1018.1" r="1.5" fill="#B4B4B4"/>
<rect x="1578.4" y="627.9" width="256.6" height="422.9" fill="none" stroke="#222" stroke-width="2"/>
<line x1="1707.6" y1="628" x2="1707.6" y2="1053" stroke="#111" stroke-width="2" stroke-dasharray="10.4 7.4" stroke-dashoffset="0"/>
<text x="1856" y="713.6" font-size="20" textLength="105.5" lengthAdjust="spacing">Mean Value</text>
<rect x="1862.2" y="734.9" width="27.4" height="4.9" fill="#FF0000"/>
<rect x="1862.2" y="739.4" width="27.4" height="4.9" fill="#FF3B00"/>
<rect x="1862.2" y="743.9" width="27.4" height="4.9" fill="#FF6200"/>
<rect x="1862.2" y="748.4" width="27.4" height="4.9" fill="#FF7E00"/>
<rect x="1862.2" y="752.9" width="27.4" height="4.9" fill="#FF9300"/>
<rect x="1862.2" y="757.4" width="27.4" height="4.9" fill="#FFA51E"/>
<rect x="1862.2" y="761.9" width="27.4" height="4.9" fill="#FDB863"/>
<rect x="1862.2" y="766.4" width="27.4" height="4.9" fill="#FECB8A"/>
<rect x="1862.2" y="770.9" width="27.4" height="4.9" fill="#FEE0B6"/>
<rect x="1862.2" y="775.4" width="27.4" height="4.9" fill="#FFF3E6"/>
<rect x="1862.2" y="779.9" width="27.4" height="4.9" fill="#F7FBFD"/>
<rect x="1862.2" y="784.4" width="27.4" height="4.9" fill="#E6F2F7"/>
<rect x="1862.2" y="788.9" width="27.4" height="4.9" fill="#D1E7F0"/>
<rect x="1862.2" y="793.4" width="27.4" height="4.9" fill="#B9DDE9"/>
<rect x="1862.2" y="797.9" width="27.4" height="4.9" fill="#ADD8E6"/>
<rect x="1862.2" y="802.4" width="27.4" height="4.9" fill="#A0B0E8"/>
<rect x="1862.2" y="806.9" width="27.4" height="4.9" fill="#8C8CEE"/>
<rect x="1862.2" y="811.4" width="27.4" height="4.9" fill="#6E5AF5"/>
<rect x="1862.2" y="815.9" width="27.4" height="4.9" fill="#4A36F5"/>
<rect x="1862.2" y="820.4" width="27.4" height="4.9" fill="#0000FF"/>
<line x1="1862.2" y1="762.2" x2="1868" y2="762.2" stroke="#fff" stroke-width="1.3"/>
<line x1="1883.8" y1="762.2" x2="1889.6" y2="762.2" stroke="#fff" stroke-width="1.3"/>
<line x1="1862.2" y1="791.8" x2="1868" y2="791.8" stroke="#fff" stroke-width="1.3"/>
<line x1="1883.8" y1="791.8" x2="1889.6" y2="791.8" stroke="#fff" stroke-width="1.3"/>
<line x1="1862.2" y1="821.5" x2="1868" y2="821.5" stroke="#fff" stroke-width="1.3"/>
<line x1="1883.8" y1="821.5" x2="1889.6" y2="821.5" stroke="#fff" stroke-width="1.3"/>
<text x="1897" y="764.5" font-size="20">0.7</text>
<text x="1897" y="794.1" font-size="20">0.5</text>
<text x="1897" y="823.9" font-size="20">0.3</text>
<text x="1856" y="873.2" font-size="20" textLength="138.5" lengthAdjust="spacing">−log10(PValue)</text>
<circle cx="1877.3" cy="893.1" r="1.4" fill="#000"/>
<text x="1897.8" y="899.6" font-size="20">0</text>
<circle cx="1877.4" cy="910.8" r="7.2" fill="#000"/>
<circle cx="1875.7" cy="911.3" r="6.5" fill="#000"/>
<path d="M1877 905.2A6.2 6.2 0 0 1 1877 917.4" fill="none" stroke="#fff" stroke-width="1"/>
<text x="1897.8" y="919.9" font-size="20">1</text>
<circle cx="1877" cy="931.3" r="9.9" fill="#000"/>
<circle cx="1875.1" cy="931.8" r="9.1" fill="#000"/>
<path d="M1876.9 923.2A8.8 8.8 0 0 1 1876.9 940.4" fill="none" stroke="#fff" stroke-width="1"/>
<text x="1897.8" y="942.7" font-size="20">2</text>
<circle cx="1876.8" cy="955" r="12.3" fill="#000"/>
<circle cx="1874.1" cy="955.5" r="11.4" fill="#000"/>
<path d="M1876.4 944.6A11.1 11.1 0 0 1 1876.4 966.4" fill="none" stroke="#fff" stroke-width="1"/>
<text x="1897.8" y="968.2" font-size="20">3</text>
<text x="25" y="1252.5" font-size="39">I.</text>
<text x="226" y="1289" font-size="23.3" text-anchor="middle" font-weight="bold">CCND1</text>
<text x="177.4" y="1327.4" font-size="24.3" textLength="109.8" lengthAdjust="spacingAndGlyphs">p&lt;2.0e-16</text>
<line x1="171.3" y1="1332.1" x2="288.8" y2="1332.1" stroke="#000" stroke-width="2"/>
<line x1="171.1" y1="1616.9" x2="171.1" y2="1622.4" stroke="#000" stroke-width="1.8"/>
<text x="172" y="1638.7" font-size="20" text-anchor="middle">A</text>
<line x1="290.5" y1="1616.9" x2="290.5" y2="1622.4" stroke="#000" stroke-width="1.8"/>
<text x="292.5" y="1638.7" font-size="20" text-anchor="middle">R</text>
<line x1="104" y1="1400" x2="110" y2="1400" stroke="#000" stroke-width="1.8"/>
<text x="99.4" y="1406.6" font-size="20" text-anchor="end">3</text>
<line x1="104" y1="1467.8" x2="110" y2="1467.8" stroke="#000" stroke-width="1.8"/>
<text x="99.4" y="1474.4" font-size="20" text-anchor="end">2</text>
<line x1="104" y1="1536" x2="110" y2="1536" stroke="#000" stroke-width="1.8"/>
<text x="99.4" y="1542.6" font-size="20" text-anchor="end">1</text>
<line x1="104" y1="1603.6" x2="110" y2="1603.6" stroke="#000" stroke-width="1.8"/>
<text x="99.4" y="1610.2" font-size="20" text-anchor="end">0</text>
<path d="M110 1363.3V1616.9H348.6" fill="none" stroke="#000" stroke-width="2"/>
<text font-size="23.3" text-anchor="middle" transform="translate(67.4 1486) rotate(-90)">Expression Level</text>
<path d="M171.6 1344.2C171.8 1351.6 171.9 1359 172 1366.4C172.1 1372.4 172.1 1378.5 172.2 1384.5C172.3 1390.6 172.3 1396.7 172.4 1402.7C172.5 1408.8 173 1414.8 173.3 1420.9C173.6 1427 174.1 1433 174.4 1439.1C174.7 1445.2 174.8 1451.2 175.1 1457.3C175.4 1463.3 175.8 1469.4 176 1475.5C176.2 1481.5 176.3 1487.6 176.6 1493.6C176.8 1499.7 177.4 1505.8 177.6 1511.8C177.9 1517.9 178.2 1523.9 178.4 1530C178.5 1533 178.6 1536.1 178.6 1539.1C178.6 1542.1 178.5 1545.2 178.4 1548.2C178.3 1551.2 177.8 1554.2 177.5 1557.3C177.1 1560.3 176.4 1563.3 176 1566.4C175.6 1569.4 175.1 1572.4 175.1 1575.5C175.1 1577.3 175.1 1579.1 175.1 1580.9C175.1 1582.1 176.3 1583.3 177.5 1584.5C178.6 1585.8 181.3 1587 183.8 1588.2C186.3 1589.4 189.6 1590.6 192.9 1591.8C196.2 1593 200 1594.2 203.8 1595.5C206.7 1596.4 210.2 1597.3 212.9 1598.2C215.6 1599.1 218.3 1600 220.2 1600.9C221.4 1601.5 223.1 1602.1 223.3 1602.7C223.4 1603.1 223.5 1603.5 223.5 1603.8L118.7 1603.8C118.7 1603.5 118.8 1603.1 118.9 1602.7C119.1 1602.1 120.8 1601.5 122 1600.9C123.9 1600 126.6 1599.1 129.3 1598.2C132 1597.3 135.5 1596.4 138.4 1595.5C142.2 1594.2 146 1593 149.3 1591.8C152.6 1590.6 155.9 1589.4 158.4 1588.2C160.9 1587 163.6 1585.8 164.7 1584.5C165.9 1583.3 167.1 1582.1 167.1 1580.9C167.1 1579.1 167.1 1577.3 167.1 1575.5C167.1 1572.4 166.6 1569.4 166.2 1566.4C165.8 1563.3 165.1 1560.3 164.7 1557.3C164.4 1554.2 163.9 1551.2 163.8 1548.2C163.7 1545.2 163.6 1542.1 163.6 1539.1C163.6 1536.1 163.7 1533 163.8 1530C164 1523.9 164.3 1517.9 164.6 1511.8C164.8 1505.8 165.4 1499.7 165.6 1493.6C165.9 1487.6 166 1481.5 166.2 1475.5C166.4 1469.4 166.8 1463.3 167.1 1457.3C167.4 1451.2 167.5 1445.2 167.8 1439.1C168.1 1433 168.6 1427 168.9 1420.9C169.2 1414.8 169.7 1408.8 169.8 1402.7C169.9 1396.7 169.9 1390.6 170 1384.5C170.1 1378.5 170.1 1372.4 170.2 1366.4C170.3 1359 170.4 1351.6 170.6 1344.2Z" fill="#4272B8"/>
<path d="M288.7 1344.9C288.9 1352.1 289.3 1359.2 289.7 1366.4C290 1372.4 290.4 1378.5 290.9 1384.5C291.4 1390.6 292.1 1396.7 292.7 1402.7C293.4 1408.8 294.1 1414.8 295.1 1420.9C295.6 1423.9 296.6 1427 297.3 1430C298 1433 298.8 1436.1 299.5 1439.1C300.7 1445.2 301.9 1451.2 302.7 1457.3C303.6 1463.3 304.8 1469.4 304.9 1475.5C305 1481.5 305.1 1487.6 305.1 1493.6C305.1 1499.7 304.6 1505.8 304.6 1511.8C304.6 1517.9 305.2 1523.9 305.5 1530C305.8 1536.1 306.2 1542.1 306.4 1548.2C306.5 1553 306.5 1557.9 306.7 1562.7C306.9 1565.8 307.6 1568.8 308.6 1571.8C309.1 1573.6 310.4 1575.5 311.8 1577.3C313.3 1579.1 315.8 1580.9 318.2 1582.7C320.6 1584.5 323.7 1586.4 326.4 1588.2C329.1 1590 332.4 1591.8 334.6 1593.6C336.4 1595.2 338.2 1596.7 339.1 1598.2C339.9 1599.4 340.6 1600.6 340.7 1601.8C340.8 1602.5 340.9 1603.2 340.9 1603.8L235.5 1603.8C235.5 1603.2 235.6 1602.5 235.7 1601.8C235.8 1600.6 236.5 1599.4 237.3 1598.2C238.2 1596.7 240 1595.2 241.8 1593.6C244 1591.8 247.3 1590 250 1588.2C252.7 1586.4 255.8 1584.5 258.2 1582.7C260.6 1580.9 263.1 1579.1 264.6 1577.3C266 1575.5 267.3 1573.6 267.8 1571.8C268.8 1568.8 269.5 1565.8 269.7 1562.7C269.9 1557.9 269.9 1553 270 1548.2C270.2 1542.1 270.6 1536.1 270.9 1530C271.2 1523.9 271.8 1517.9 271.8 1511.8C271.8 1505.8 271.3 1499.7 271.3 1493.6C271.3 1487.6 271.4 1481.5 271.5 1475.5C271.6 1469.4 272.8 1463.3 273.7 1457.3C274.5 1451.2 275.7 1445.2 276.9 1439.1C277.6 1436.1 278.4 1433 279.1 1430C279.8 1427 280.8 1423.9 281.3 1420.9C282.3 1414.8 283 1408.8 283.7 1402.7C284.3 1396.7 285 1390.6 285.5 1384.5C286 1378.5 286.4 1372.4 286.7 1366.4C287.1 1359.2 287.5 1352.1 287.7 1344.9Z" fill="#30B065"/>
<text x="530" y="1289" font-size="23.3" text-anchor="middle" font-weight="bold">CDKN2A</text>
<text x="478.9" y="1325.6" font-size="24.3" textLength="113" lengthAdjust="spacingAndGlyphs">p&lt;2.0e-16</text>
<line x1="473.2" y1="1329.8" x2="594.2" y2="1329.8" stroke="#000" stroke-width="2"/>
<line x1="473.2" y1="1615.3" x2="473.2" y2="1620.8" stroke="#000" stroke-width="1.8"/>
<text x="474" y="1637.1" font-size="20" text-anchor="middle">A</text>
<line x1="595.1" y1="1615.3" x2="595.1" y2="1620.8" stroke="#000" stroke-width="1.8"/>
<text x="596.5" y="1637.1" font-size="20" text-anchor="middle">R</text>
<line x1="405" y1="1411.7" x2="411" y2="1411.7" stroke="#000" stroke-width="1.8"/>
<text x="402.2" y="1418.3" font-size="20" text-anchor="end">3</text>
<line x1="405" y1="1475" x2="411" y2="1475" stroke="#000" stroke-width="1.8"/>
<text x="402.2" y="1481.6" font-size="20" text-anchor="end">2</text>
<line x1="405" y1="1538.3" x2="411" y2="1538.3" stroke="#000" stroke-width="1.8"/>
<text x="402.2" y="1544.9" font-size="20" text-anchor="end">1</text>
<line x1="405" y1="1601.4" x2="411" y2="1601.4" stroke="#000" stroke-width="1.8"/>
<text x="402.2" y="1608" font-size="20" text-anchor="end">0</text>
<path d="M411 1367.3V1615.3H654.5" fill="none" stroke="#000" stroke-width="2"/>
<text font-size="23.3" text-anchor="middle" transform="translate(380.6 1486) rotate(-90)">Expression Level</text>
<path d="M473.9 1376.3C474 1395.1 474.1 1413.9 474.2 1432.7C474.3 1457.7 474.3 1482.8 474.4 1507.8C474.4 1532.9 474.4 1557.9 474.4 1583C474.5 1586.4 474.5 1589.8 474.5 1593.3C474.6 1594.2 474.8 1595.2 475.5 1596.1C475.8 1596.6 478.9 1597.1 482.1 1597.6C485.2 1598.1 492.2 1598.6 498 1599.1C503.1 1599.6 509.3 1600 514.9 1600.4C518.9 1600.7 526.6 1601.1 526.8 1601.4C526.9 1601.6 526.9 1601.7 526.9 1601.9L420.3 1601.9C420.3 1601.7 420.3 1601.6 420.4 1601.4C420.6 1601.1 428.3 1600.7 432.3 1600.4C437.9 1600 444.1 1599.6 449.2 1599.1C455 1598.6 462 1598.1 465.1 1597.6C468.3 1597.1 471.4 1596.6 471.7 1596.1C472.4 1595.2 472.6 1594.2 472.7 1593.3C472.7 1589.8 472.7 1586.4 472.8 1583C472.8 1557.9 472.8 1532.9 472.8 1507.8C472.9 1482.8 472.9 1457.7 473 1432.7C473.1 1413.9 473.2 1395.1 473.3 1376.3Z" fill="#4272B8"/>
<path d="M595.1 1336C595.1 1343.2 595.2 1350.4 595.3 1357.6C595.3 1363.8 595.3 1370.1 595.5 1376.3C595.5 1379.5 595.6 1382.6 595.8 1385.7C596 1388.9 596.4 1392 597 1395.1C597.5 1398.3 598.5 1401.4 599.4 1404.5C600.3 1407.7 601.4 1410.8 602.6 1413.9C603.7 1417 605 1420.2 606.3 1423.3C607.7 1426.4 609.2 1429.6 610.7 1432.7C612.1 1435.8 613.5 1439 615 1442.1C616.5 1445.2 617.9 1448.3 619.5 1451.5C621.1 1454.6 622.9 1457.7 624.4 1460.9C625.9 1464 627.5 1467.1 628.5 1470.3C629.5 1473.4 630.5 1476.5 630.8 1479.7C631 1481.8 631.1 1484 631.1 1486.2C631.1 1488.4 630.7 1490.6 630.4 1492.8C630 1495.3 629 1497.8 628.1 1500.3C627.2 1502.8 625.9 1505.3 624.8 1507.8C623.4 1511 622 1514.1 620.6 1517.2C619.2 1520.4 617.7 1523.5 616.3 1526.6C614.9 1529.7 613.4 1532.9 612.2 1536C610.9 1539.1 609.7 1542.3 608.8 1545.4C607.8 1548.5 606.8 1551.7 606.3 1554.8C606 1557.3 605.6 1559.8 605.6 1562.3C605.6 1564.2 605.9 1566.1 606.3 1567.9C606.8 1569.8 608.2 1571.7 609.7 1573.6C611.2 1575.4 613.7 1577.3 616.3 1579.2C618.9 1581.1 622.4 1583 625.7 1584.8C629 1586.7 632.8 1588.6 636 1590.5C638.7 1592 641.6 1593.6 643.5 1595.2C645.1 1596.4 646.5 1597.7 647.3 1598.9C647.9 1599.9 648.4 1600.8 648.6 1601.7L540.8 1601.7C541 1600.8 541.5 1599.9 542.1 1598.9C542.9 1597.7 544.3 1596.4 545.9 1595.2C547.8 1593.6 550.7 1592 553.4 1590.5C556.6 1588.6 560.4 1586.7 563.7 1584.8C567 1583 570.5 1581.1 573.1 1579.2C575.7 1577.3 578.2 1575.4 579.7 1573.6C581.2 1571.7 582.6 1569.8 583.1 1567.9C583.5 1566.1 583.8 1564.2 583.8 1562.3C583.8 1559.8 583.4 1557.3 583.1 1554.8C582.6 1551.7 581.6 1548.5 580.6 1545.4C579.7 1542.3 578.5 1539.1 577.2 1536C576 1532.9 574.5 1529.7 573.1 1526.6C571.7 1523.5 570.2 1520.4 568.8 1517.2C567.4 1514.1 566 1511 564.6 1507.8C563.5 1505.3 562.2 1502.8 561.3 1500.3C560.4 1497.8 559.4 1495.3 559 1492.8C558.7 1490.6 558.3 1488.4 558.3 1486.2C558.3 1484 558.4 1481.8 558.6 1479.7C558.9 1476.5 559.9 1473.4 560.9 1470.3C561.9 1467.1 563.5 1464 565 1460.9C566.5 1457.7 568.3 1454.6 569.9 1451.5C571.5 1448.3 572.9 1445.2 574.4 1442.1C575.9 1439 577.3 1435.8 578.7 1432.7C580.2 1429.6 581.7 1426.4 583.1 1423.3C584.4 1420.2 585.7 1417 586.8 1413.9C588 1410.8 589.1 1407.7 590 1404.5C590.9 1401.4 591.9 1398.3 592.4 1395.1C593 1392 593.4 1388.9 593.6 1385.7C593.8 1382.6 593.9 1379.5 593.9 1376.3C594.1 1370.1 594.1 1363.8 594.1 1357.6C594.2 1350.4 594.3 1343.2 594.3 1336Z" fill="#30B065"/>
<text x="836.5" y="1289" font-size="23.3" text-anchor="middle" font-weight="bold">EGFR</text>
<text x="791.7" y="1324.3" font-size="24.3" textLength="96.8" lengthAdjust="spacingAndGlyphs">p=1.2e-9</text>
<line x1="783" y1="1329.4" x2="901.3" y2="1329.4" stroke="#000" stroke-width="2"/>
<line x1="783.9" y1="1610.2" x2="783.9" y2="1615.7" stroke="#000" stroke-width="1.8"/>
<text x="784.5" y="1632" font-size="20" text-anchor="middle">A</text>
<line x1="901.3" y1="1610.2" x2="901.3" y2="1615.7" stroke="#000" stroke-width="1.8"/>
<text x="903" y="1632" font-size="20" text-anchor="middle">R</text>
<line x1="712.2" y1="1395.1" x2="718.2" y2="1395.1" stroke="#000" stroke-width="1.8"/>
<text x="710.7" y="1403.3" font-size="20" text-anchor="end">4</text>
<line x1="712.2" y1="1445.5" x2="718.2" y2="1445.5" stroke="#000" stroke-width="1.8"/>
<text x="710.7" y="1453.7" font-size="20" text-anchor="end">3</text>
<line x1="712.2" y1="1496.2" x2="718.2" y2="1496.2" stroke="#000" stroke-width="1.8"/>
<text x="710.7" y="1504.4" font-size="20" text-anchor="end">2</text>
<line x1="712.2" y1="1546.3" x2="718.2" y2="1546.3" stroke="#000" stroke-width="1.8"/>
<text x="710.7" y="1554.5" font-size="20" text-anchor="end">1</text>
<line x1="712.2" y1="1596.7" x2="718.2" y2="1596.7" stroke="#000" stroke-width="1.8"/>
<text x="710.7" y="1604.9" font-size="20" text-anchor="end">0</text>
<path d="M718.2 1370.3V1610.2H962" fill="none" stroke="#000" stroke-width="2"/>
<text font-size="23.3" text-anchor="middle" transform="translate(686.8 1481) rotate(-90)">Expression Level</text>
<path d="M784.2 1336C784.2 1349.4 784.2 1362.9 784.3 1376.3C784.3 1388.9 784.4 1401.4 784.5 1413.9C784.6 1426.4 784.8 1439 785 1451.5C785.2 1457.7 785.4 1464 785.6 1470.3C785.8 1476.5 786 1482.8 786.2 1489C786.3 1495.3 786.5 1501.6 786.7 1507.8C786.9 1514.1 787 1520.4 787.3 1526.6C787.4 1529.7 787.9 1532.9 788 1536C788.2 1539.1 788.4 1542.3 788.4 1545.4C788.5 1551.7 788.6 1557.9 788.6 1564.2C788.6 1567.3 788 1570.4 787.7 1573.6C787.4 1576.1 786.5 1578.6 786.5 1581.1C786.5 1582.3 787.4 1583.6 788.6 1584.8C789.2 1585.5 791.4 1586.1 793.3 1586.7C796.1 1587.7 800.5 1588.6 804.6 1589.5C808.6 1590.5 813.2 1591.4 817.7 1592.4C821.3 1593.1 825.5 1593.9 829 1594.6C831.3 1595.1 834.6 1595.6 835.6 1596.1C836 1596.4 836.4 1596.6 836.5 1596.9L731.3 1596.9C731.4 1596.6 731.8 1596.4 732.2 1596.1C733.2 1595.6 736.5 1595.1 738.8 1594.6C742.3 1593.9 746.5 1593.1 750.1 1592.4C754.6 1591.4 759.2 1590.5 763.2 1589.5C767.3 1588.6 771.7 1587.7 774.5 1586.7C776.4 1586.1 778.6 1585.5 779.2 1584.8C780.4 1583.6 781.3 1582.3 781.3 1581.1C781.3 1578.6 780.4 1576.1 780.1 1573.6C779.8 1570.4 779.2 1567.3 779.2 1564.2C779.2 1557.9 779.3 1551.7 779.4 1545.4C779.4 1542.3 779.6 1539.1 779.8 1536C779.9 1532.9 780.4 1529.7 780.5 1526.6C780.8 1520.4 780.9 1514.1 781.1 1507.8C781.3 1501.6 781.5 1495.3 781.6 1489C781.8 1482.8 782 1476.5 782.2 1470.3C782.4 1464 782.6 1457.7 782.8 1451.5C783 1439 783.2 1426.4 783.3 1413.9C783.4 1401.4 783.5 1388.9 783.5 1376.3C783.6 1362.9 783.6 1349.4 783.6 1336Z" fill="#4272B8"/>
<path d="M901.4 1450C901.6 1456.7 901.9 1463.5 902.1 1470.3C902.4 1476.5 902.6 1482.8 902.9 1489C903.2 1495.3 903.5 1501.6 904 1507.8C904.3 1511 904.6 1514.1 905.1 1517.2C905.6 1520.4 906.4 1523.5 907.2 1526.6C908 1529.7 909 1532.9 910 1536C911 1539.1 912.2 1542.3 913.4 1545.4C914.6 1548.5 916 1551.7 917 1554.8C917.9 1557.9 918.8 1561 919.4 1564.2C919.8 1566.4 920.3 1568.6 920.3 1570.8C920.3 1572.3 919.8 1573.9 919.4 1575.4C919 1577 917.9 1578.6 917.9 1580.1C917.9 1581.1 918.8 1582 919.8 1583C920.7 1583.9 923.2 1584.8 925.4 1585.8C927.7 1586.7 931.1 1587.7 933.9 1588.6C936.7 1589.5 939.6 1590.5 942.3 1591.4C945 1592.4 948.2 1593.3 950.2 1594.2C951.6 1594.9 953.1 1595.5 953.6 1596.1C953.8 1596.4 953.9 1596.6 954 1596.9L848 1596.9C848.1 1596.6 848.2 1596.4 848.4 1596.1C848.9 1595.5 850.4 1594.9 851.8 1594.2C853.8 1593.3 857 1592.4 859.7 1591.4C862.4 1590.5 865.3 1589.5 868.1 1588.6C870.9 1587.7 874.3 1586.7 876.6 1585.8C878.8 1584.8 881.3 1583.9 882.2 1583C883.2 1582 884.1 1581.1 884.1 1580.1C884.1 1578.6 883 1577 882.6 1575.4C882.2 1573.9 881.7 1572.3 881.7 1570.8C881.7 1568.6 882.2 1566.4 882.6 1564.2C883.2 1561 884.1 1557.9 885 1554.8C886 1551.7 887.4 1548.5 888.6 1545.4C889.8 1542.3 891 1539.1 892 1536C893 1532.9 894 1529.7 894.8 1526.6C895.6 1523.5 896.4 1520.4 896.9 1517.2C897.4 1514.1 897.7 1511 898 1507.8C898.5 1501.6 898.8 1495.3 899.1 1489C899.4 1482.8 899.6 1476.5 899.9 1470.3C900.1 1463.5 900.4 1456.7 900.6 1450Z" fill="#30B065"/>
<text x="1149" y="1289" font-size="23.3" text-anchor="middle" font-weight="bold">MYC</text>
<text x="1101.7" y="1322" font-size="24.3" textLength="115.2" lengthAdjust="spacingAndGlyphs">p&lt;2.0e-16</text>
<line x1="1095" y1="1325.5" x2="1219.1" y2="1325.5" stroke="#000" stroke-width="2"/>
<line x1="1095" y1="1610.2" x2="1095" y2="1615.7" stroke="#000" stroke-width="1.8"/>
<text x="1096" y="1632" font-size="20" text-anchor="middle">A</text>
<line x1="1219.7" y1="1610.2" x2="1219.7" y2="1615.7" stroke="#000" stroke-width="1.8"/>
<text x="1221.5" y="1632" font-size="20" text-anchor="middle">R</text>
<line x1="1021.1" y1="1392" x2="1027.1" y2="1392" stroke="#000" stroke-width="1.8"/>
<text x="1020.4" y="1398.6" font-size="20" text-anchor="end">3</text>
<line x1="1021.1" y1="1460.3" x2="1027.1" y2="1460.3" stroke="#000" stroke-width="1.8"/>
<text x="1020.4" y="1466.9" font-size="20" text-anchor="end">2</text>
<line x1="1021.1" y1="1528.7" x2="1027.1" y2="1528.7" stroke="#000" stroke-width="1.8"/>
<text x="1020.4" y="1535.3" font-size="20" text-anchor="end">1</text>
<line x1="1021.1" y1="1596.6" x2="1027.1" y2="1596.6" stroke="#000" stroke-width="1.8"/>
<text x="1020.4" y="1603.2" font-size="20" text-anchor="end">0</text>
<path d="M1027.1 1346.8V1610.2H1279.2" fill="none" stroke="#000" stroke-width="2"/>
<text font-size="23.3" text-anchor="middle" transform="translate(995.8 1481) rotate(-90)">Expression Level</text>
<path d="M1095.8 1327.1C1095.9 1340.8 1096.1 1354.5 1096.2 1368.2C1096.3 1381.1 1096.4 1394 1096.6 1407C1096.7 1413.4 1097 1419.9 1097.2 1426.3C1097.3 1432.8 1097.4 1439.3 1097.5 1445.7C1097.7 1452.2 1097.8 1458.7 1097.9 1465.1C1098.1 1471.6 1098.5 1478.1 1098.7 1484.5C1098.9 1491 1099.1 1497.4 1099.3 1503.9C1099.4 1510.4 1099.5 1516.8 1099.7 1523.3C1099.7 1526.5 1099.9 1529.8 1099.9 1533C1099.9 1536.2 1099.6 1539.5 1099.5 1542.7C1099.2 1549.2 1098.9 1555.6 1098.7 1562.1C1098.6 1566.6 1098.3 1571.1 1098.3 1575.7C1098.3 1577 1099 1578.2 1099.9 1579.5C1100.5 1580.5 1102.4 1581.5 1104.3 1582.4C1106.2 1583.4 1109.1 1584.4 1112.1 1585.4C1115.1 1586.3 1119 1587.3 1122.7 1588.3C1126.5 1589.2 1130.6 1590.2 1134.4 1591.2C1137.4 1591.9 1140.5 1592.7 1143.1 1593.5C1145.3 1594.1 1147.7 1594.8 1148.9 1595.4C1149.8 1595.9 1150.5 1596.3 1150.9 1596.8L1040.3 1596.8C1040.7 1596.3 1041.4 1595.9 1042.3 1595.4C1043.5 1594.8 1045.9 1594.1 1048.1 1593.5C1050.7 1592.7 1053.8 1591.9 1056.8 1591.2C1060.6 1590.2 1064.7 1589.2 1068.5 1588.3C1072.2 1587.3 1076.1 1586.3 1079.1 1585.4C1082.1 1584.4 1085 1583.4 1086.9 1582.4C1088.8 1581.5 1090.7 1580.5 1091.3 1579.5C1092.2 1578.2 1092.9 1577 1092.9 1575.7C1092.9 1571.1 1092.6 1566.6 1092.5 1562.1C1092.3 1555.6 1092 1549.2 1091.7 1542.7C1091.6 1539.5 1091.3 1536.2 1091.3 1533C1091.3 1529.8 1091.5 1526.5 1091.5 1523.3C1091.7 1516.8 1091.8 1510.4 1091.9 1503.9C1092.1 1497.4 1092.3 1491 1092.5 1484.5C1092.7 1478.1 1093.1 1471.6 1093.3 1465.1C1093.4 1458.7 1093.5 1452.2 1093.7 1445.7C1093.8 1439.3 1093.9 1432.8 1094 1426.3C1094.2 1419.9 1094.5 1413.4 1094.6 1407C1094.8 1394 1094.9 1381.1 1095 1368.2C1095.1 1354.5 1095.3 1340.8 1095.4 1327.1Z" fill="#4272B8"/>
<path d="M1218.4 1359.4C1218.4 1368.8 1218.7 1378.2 1219 1387.6C1219.2 1394 1219.5 1400.5 1219.9 1407C1220.3 1413.4 1220.9 1419.9 1221.5 1426.3C1222 1432.8 1222.7 1439.3 1223.2 1445.7C1223.8 1452.2 1224.3 1458.7 1224.8 1465.1C1225.3 1471.6 1225.4 1478.1 1226.1 1484.5C1226.5 1487.8 1227.4 1491 1228.1 1494.2C1228.7 1497.4 1229.7 1500.7 1230 1503.9C1230.4 1507.1 1230.6 1510.4 1230.8 1513.6C1231 1516.8 1231 1520.1 1231.2 1523.3C1231.4 1526.5 1231.7 1529.8 1232 1533C1232.2 1536.2 1232.8 1539.5 1232.9 1542.7C1233 1545.9 1233.1 1549.2 1233.1 1552.4C1233.1 1555.6 1232.7 1558.9 1232.7 1562.1C1232.7 1564 1233.1 1566 1233.5 1567.9C1233.8 1569.2 1234.8 1570.5 1235.8 1571.8C1236.9 1573.1 1238.5 1574.4 1240.3 1575.7C1242.1 1577 1244.7 1578.2 1247.1 1579.5C1249.5 1580.8 1252.3 1582.1 1254.8 1583.4C1257.4 1584.7 1260.3 1586 1262.6 1587.3C1264.9 1588.6 1267.2 1589.9 1268.8 1591.2C1270 1592.1 1271.3 1593.1 1271.9 1594.1C1272.5 1595 1273 1595.9 1273.1 1596.8L1162.9 1596.8C1163 1595.9 1163.5 1595 1164.1 1594.1C1164.7 1593.1 1166 1592.1 1167.2 1591.2C1168.8 1589.9 1171.1 1588.6 1173.4 1587.3C1175.7 1586 1178.6 1584.7 1181.2 1583.4C1183.7 1582.1 1186.5 1580.8 1188.9 1579.5C1191.3 1578.2 1193.9 1577 1195.7 1575.7C1197.5 1574.4 1199.1 1573.1 1200.2 1571.8C1201.2 1570.5 1202.2 1569.2 1202.5 1567.9C1202.9 1566 1203.3 1564 1203.3 1562.1C1203.3 1558.9 1202.9 1555.6 1202.9 1552.4C1202.9 1549.2 1203 1545.9 1203.1 1542.7C1203.2 1539.5 1203.8 1536.2 1204 1533C1204.3 1529.8 1204.6 1526.5 1204.8 1523.3C1205 1520.1 1205 1516.8 1205.2 1513.6C1205.4 1510.4 1205.6 1507.1 1206 1503.9C1206.3 1500.7 1207.3 1497.4 1207.9 1494.2C1208.6 1491 1209.5 1487.8 1209.9 1484.5C1210.6 1478.1 1210.7 1471.6 1211.2 1465.1C1211.7 1458.7 1212.2 1452.2 1212.8 1445.7C1213.3 1439.3 1214 1432.8 1214.5 1426.3C1215.1 1419.9 1215.7 1413.4 1216.1 1407C1216.5 1400.5 1216.8 1394 1217 1387.6C1217.3 1378.2 1217.6 1368.8 1217.6 1359.4Z" fill="#30B065"/>
<text x="1472.5" y="1289" font-size="23.3" text-anchor="middle" font-weight="bold">VEGFA</text>
<text x="1416.3" y="1324.3" font-size="24.3" textLength="108.9" lengthAdjust="spacingAndGlyphs">p&lt;2.0e-16</text>
<line x1="1413.1" y1="1327.8" x2="1529" y2="1327.8" stroke="#000" stroke-width="2"/>
<line x1="1412.5" y1="1610.2" x2="1412.5" y2="1615.7" stroke="#000" stroke-width="1.8"/>
<text x="1414" y="1632" font-size="20" text-anchor="middle">A</text>
<line x1="1527.7" y1="1610.2" x2="1527.7" y2="1615.7" stroke="#000" stroke-width="1.8"/>
<text x="1530" y="1632" font-size="20" text-anchor="middle">R</text>
<line x1="1345" y1="1426.3" x2="1351" y2="1426.3" stroke="#000" stroke-width="1.8"/>
<text x="1341.4" y="1434.5" font-size="20" text-anchor="end">3</text>
<line x1="1345" y1="1483" x2="1351" y2="1483" stroke="#000" stroke-width="1.8"/>
<text x="1341.4" y="1491.2" font-size="20" text-anchor="end">2</text>
<line x1="1345" y1="1539.8" x2="1351" y2="1539.8" stroke="#000" stroke-width="1.8"/>
<text x="1341.4" y="1548" font-size="20" text-anchor="end">1</text>
<line x1="1345" y1="1596.6" x2="1351" y2="1596.6" stroke="#000" stroke-width="1.8"/>
<text x="1341.4" y="1604.8" font-size="20" text-anchor="end">0</text>
<path d="M1351 1329.4V1610.2H1597.3" fill="none" stroke="#000" stroke-width="2"/>
<text font-size="23.3" text-anchor="middle" transform="translate(1316.8 1486) rotate(-90)">Expression Level</text>
<rect x="1412.15" y="1340.6" width="0.75" height="218" fill="#B9A5CF"/>
<rect x="1412.15" y="1558" width="0.75" height="38.4" fill="#6F86C8"/>
<rect x="1361.1" y="1595.8" width="103.4" height="0.8" fill="#C5B3D8"/>
<rect x="1383" y="1595.7" width="59" height="1" fill="#5C7CC4"/>
<path d="M1527.9 1411.4C1528 1422.9 1528.1 1434.3 1528.2 1445.7C1528.3 1458.7 1528.5 1471.6 1528.7 1484.5C1528.7 1491 1528.8 1497.4 1528.9 1503.9C1528.9 1510.4 1529.1 1516.8 1529.3 1523.3C1529.3 1526.5 1529.5 1529.8 1529.6 1533C1529.8 1536.2 1530.1 1539.5 1530.4 1542.7C1530.7 1545.9 1531.1 1549.2 1531.4 1552.4C1531.7 1555.6 1532.1 1558.9 1532.4 1562.1C1532.6 1565.3 1532.9 1568.5 1533.1 1571.8C1533.4 1575 1533.6 1578.2 1533.9 1581.5C1534.1 1583.1 1534.1 1584.7 1534.5 1586.3C1534.6 1587 1535.4 1587.6 1536.4 1588.3C1537.5 1588.9 1541.6 1589.6 1545.2 1590.2C1548.7 1590.8 1554.5 1591.5 1558.7 1592.1C1562.9 1592.8 1566.9 1593.4 1570.4 1594.1C1572.8 1594.5 1575.9 1595 1577.1 1595.4C1578.2 1595.8 1579.1 1596.2 1579.3 1596.6L1476.1 1596.6C1476.3 1596.2 1477.2 1595.8 1478.3 1595.4C1479.5 1595 1482.6 1594.5 1485 1594.1C1488.5 1593.4 1492.5 1592.8 1496.7 1592.1C1500.9 1591.5 1506.7 1590.8 1510.2 1590.2C1513.8 1589.6 1517.9 1588.9 1519 1588.3C1520 1587.6 1520.8 1587 1520.9 1586.3C1521.3 1584.7 1521.3 1583.1 1521.5 1581.5C1521.8 1578.2 1522 1575 1522.3 1571.8C1522.5 1568.5 1522.8 1565.3 1523 1562.1C1523.3 1558.9 1523.7 1555.6 1524 1552.4C1524.3 1549.2 1524.7 1545.9 1525 1542.7C1525.3 1539.5 1525.6 1536.2 1525.8 1533C1525.9 1529.8 1526.1 1526.5 1526.1 1523.3C1526.3 1516.8 1526.5 1510.4 1526.5 1503.9C1526.6 1497.4 1526.7 1491 1526.7 1484.5C1526.9 1471.6 1527.1 1458.7 1527.2 1445.7C1527.3 1434.3 1527.4 1422.9 1527.5 1411.4Z" fill="#30B065"/>
<text x="1790" y="1289" font-size="23.3" text-anchor="middle" font-weight="bold">TGF-β1</text>
<text x="1739" y="1324.3" font-size="24.3" textLength="109.4" lengthAdjust="spacingAndGlyphs">p&lt;2.0e-16</text>
<line x1="1733.7" y1="1328" x2="1851" y2="1328" stroke="#000" stroke-width="2"/>
<line x1="1733.1" y1="1605.7" x2="1733.1" y2="1611.2" stroke="#000" stroke-width="1.8"/>
<text x="1734.5" y="1627.7" font-size="20" text-anchor="middle">A</text>
<line x1="1851.4" y1="1605.7" x2="1851.4" y2="1611.2" stroke="#000" stroke-width="1.8"/>
<text x="1854" y="1627.7" font-size="20" text-anchor="middle">R</text>
<line x1="1661.1" y1="1394.7" x2="1667.1" y2="1394.7" stroke="#000" stroke-width="1.8"/>
<text x="1656.9" y="1401.3" font-size="20" text-anchor="end">3</text>
<line x1="1661.1" y1="1460.7" x2="1667.1" y2="1460.7" stroke="#000" stroke-width="1.8"/>
<text x="1656.9" y="1467.3" font-size="20" text-anchor="end">2</text>
<line x1="1661.1" y1="1526.8" x2="1667.1" y2="1526.8" stroke="#000" stroke-width="1.8"/>
<text x="1656.9" y="1533.4" font-size="20" text-anchor="end">1</text>
<line x1="1661.1" y1="1592.7" x2="1667.1" y2="1592.7" stroke="#000" stroke-width="1.8"/>
<text x="1656.9" y="1599.3" font-size="20" text-anchor="end">0</text>
<path d="M1667.1 1343.4V1605.7H1910.5" fill="none" stroke="#000" stroke-width="2"/>
<text font-size="23.3" text-anchor="middle" transform="translate(1633.3 1491) rotate(-90)">Expression Level</text>
<path d="M1734 1339.1C1734 1361.7 1734 1384.3 1734.1 1407C1734.1 1419.9 1734.3 1432.8 1734.3 1445.7C1734.3 1478.1 1734.3 1510.4 1734.3 1542.7C1734.3 1549.2 1734.7 1555.6 1734.7 1562.1C1734.7 1568.5 1734.7 1575 1734.7 1581.5C1734.7 1584.1 1734.7 1586.6 1734.7 1589.2C1734.7 1590.2 1735.2 1591.2 1736 1592.1C1736.6 1592.8 1740.9 1593.4 1745.3 1594.1C1748.9 1594.6 1756.3 1595.1 1762.8 1595.6C1768.5 1596.1 1779.2 1596.5 1782.2 1597C1783.9 1597.2 1785.4 1597.5 1785.7 1597.8L1681.7 1597.8C1682 1597.5 1683.5 1597.2 1685.2 1597C1688.2 1596.5 1698.9 1596.1 1704.6 1595.6C1711.1 1595.1 1718.5 1594.6 1722.1 1594.1C1726.5 1593.4 1730.8 1592.8 1731.4 1592.1C1732.2 1591.2 1732.7 1590.2 1732.7 1589.2C1732.7 1586.6 1732.7 1584.1 1732.7 1581.5C1732.7 1575 1732.7 1568.5 1732.7 1562.1C1732.7 1555.6 1733.1 1549.2 1733.1 1542.7C1733.1 1510.4 1733.1 1478.1 1733.1 1445.7C1733.1 1432.8 1733.3 1419.9 1733.3 1407C1733.4 1384.3 1733.4 1361.7 1733.4 1339.1Z" fill="#4272B8"/>
<path d="M1851.8 1382.7C1851.9 1390.8 1852 1398.9 1852.2 1407C1852.3 1413.4 1852.4 1419.9 1852.6 1426.3C1852.7 1432.8 1853 1439.3 1853.3 1445.7C1853.7 1452.2 1854.1 1458.7 1854.7 1465.1C1855.2 1471.6 1855.9 1478.1 1856.8 1484.5C1857.3 1487.8 1857.9 1491 1858.6 1494.2C1859.2 1497.4 1860 1500.7 1860.7 1503.9C1861.4 1507.1 1861.9 1510.4 1862.6 1513.6C1863.4 1516.8 1864.3 1520.1 1865.4 1523.3C1866.4 1526.5 1868.1 1529.8 1869.2 1533C1870.4 1536.2 1871.6 1539.5 1872.3 1542.7C1873 1545.3 1873.9 1547.9 1873.9 1550.4C1873.9 1552.4 1873.9 1554.3 1873.9 1556.3C1873.9 1558.2 1873 1560.1 1872.3 1562.1C1871.7 1564 1870.4 1566 1869.8 1567.9C1869.2 1569.8 1868.5 1571.8 1868.5 1573.7C1868.5 1575 1869.1 1576.3 1869.8 1577.6C1870.5 1578.9 1872.6 1580.2 1874.7 1581.5C1876.7 1582.8 1880.3 1584.1 1883.4 1585.4C1886.5 1586.6 1890.4 1587.9 1893.1 1589.2C1895.8 1590.5 1898.3 1591.8 1899.9 1593.1C1901.1 1594.1 1902.1 1595 1902.8 1596C1903.2 1596.6 1903.5 1597.2 1903.8 1597.8L1799 1597.8C1799.3 1597.2 1799.6 1596.6 1800 1596C1800.7 1595 1801.7 1594.1 1802.9 1593.1C1804.5 1591.8 1807 1590.5 1809.7 1589.2C1812.4 1587.9 1816.3 1586.6 1819.4 1585.4C1822.5 1584.1 1826.1 1582.8 1828.1 1581.5C1830.2 1580.2 1832.3 1578.9 1833 1577.6C1833.7 1576.3 1834.3 1575 1834.3 1573.7C1834.3 1571.8 1833.6 1569.8 1833 1567.9C1832.4 1566 1831.1 1564 1830.5 1562.1C1829.8 1560.1 1828.9 1558.2 1828.9 1556.3C1828.9 1554.3 1828.9 1552.4 1828.9 1550.4C1828.9 1547.9 1829.8 1545.3 1830.5 1542.7C1831.2 1539.5 1832.4 1536.2 1833.6 1533C1834.7 1529.8 1836.4 1526.5 1837.4 1523.3C1838.5 1520.1 1839.4 1516.8 1840.2 1513.6C1840.9 1510.4 1841.4 1507.1 1842.1 1503.9C1842.8 1500.7 1843.6 1497.4 1844.2 1494.2C1844.9 1491 1845.5 1487.8 1846 1484.5C1846.9 1478.1 1847.6 1471.6 1848.1 1465.1C1848.7 1458.7 1849.1 1452.2 1849.5 1445.7C1849.8 1439.3 1850.1 1432.8 1850.2 1426.3C1850.4 1419.9 1850.5 1413.4 1850.6 1407C1850.8 1398.9 1850.9 1390.8 1851 1382.7Z" fill="#30B065"/>
</svg>
</body></html>
